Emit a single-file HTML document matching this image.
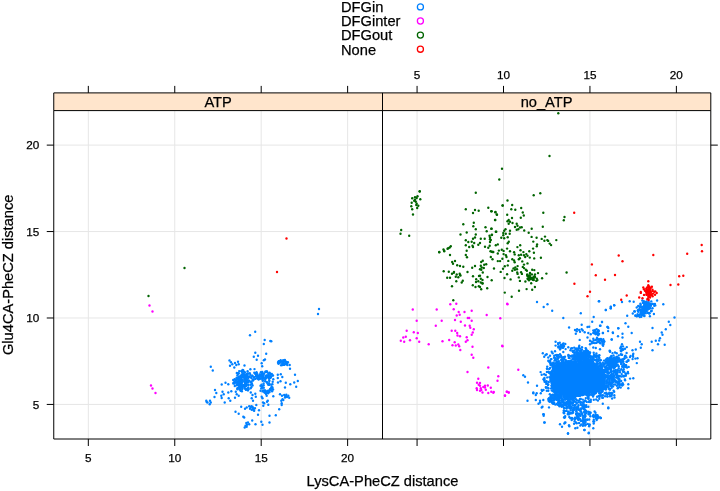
<!DOCTYPE html>
<html><head><meta charset="utf-8"><title>plot</title>
<style>html,body{margin:0;padding:0;background:#fff;width:720px;height:491px;overflow:hidden;font-family:"Liberation Sans",sans-serif}</style>
</head><body>
<svg width="720" height="491" viewBox="0 0 720 491" style="position:absolute;left:0;top:0">
<rect x="0" y="0" width="720" height="491" fill="#fff"/>
<path d="M88.32 110.6V439.0M417.07 110.6V439.0M53.75 404.43H710.8M174.76 110.6V439.0M503.51 110.6V439.0M53.75 317.99H710.8M261.19 110.6V439.0M589.94 110.6V439.0M53.75 231.56H710.8M347.63 110.6V439.0M676.38 110.6V439.0M53.75 145.12H710.8" stroke="#e6e6e6" stroke-width="1" fill="none"/>
<polygon points="602.0,378.5 601.9,381.5 601.8,383.3 601.4,384.8 601.0,386.1 600.4,387.2 599.8,388.3 598.9,389.2 598.0,390.0 596.9,390.8 595.7,391.5 594.4,392.1 592.9,392.6 591.3,393.0 589.5,393.4 587.5,393.6 585.1,393.8 582.3,394.0 577.5,394.0 572.7,394.0 569.9,393.8 567.5,393.6 565.5,393.4 563.7,393.0 562.1,392.6 560.6,392.1 559.3,391.5 558.1,390.8 557.0,390.0 556.1,389.2 555.2,388.3 554.6,387.2 554.0,386.1 553.6,384.8 553.2,383.3 553.1,381.5 553.0,378.5 553.1,375.5 553.2,373.7 553.6,372.2 554.0,370.9 554.6,369.8 555.2,368.7 556.1,367.8 557.0,367.0 558.1,366.2 559.3,365.5 560.6,364.9 562.1,364.4 563.7,364.0 565.5,363.6 567.5,363.4 569.9,363.2 572.7,363.0 577.5,363.0 582.3,363.0 585.1,363.2 587.5,363.4 589.5,363.6 591.3,364.0 592.9,364.4 594.4,364.9 595.7,365.5 596.9,366.2 598.0,367.0 598.9,367.8 599.8,368.7 600.4,369.8 601.0,370.9 601.4,372.2 601.8,373.7 601.9,375.5" fill="#0080ff"/>
<g fill="#0080ff"><circle cx="319.0" cy="309.0" r="1.18"/><circle cx="318.0" cy="314.0" r="1.18"/><circle cx="255.2" cy="331.7" r="1.18"/><circle cx="250.0" cy="335.2" r="1.18"/><circle cx="264.7" cy="340.0" r="1.18"/><circle cx="270.3" cy="341.0" r="1.18"/><circle cx="271.3" cy="341.2" r="1.18"/><circle cx="263.8" cy="344.0" r="1.18"/><circle cx="255.3" cy="352.8" r="1.18"/><circle cx="266.2" cy="353.8" r="1.18"/><circle cx="253.8" cy="356.7" r="1.18"/><circle cx="258.0" cy="355.8" r="1.18"/><circle cx="256.7" cy="359.7" r="1.18"/><circle cx="265.0" cy="359.5" r="1.18"/><circle cx="263.8" cy="360.3" r="1.18"/><circle cx="261.7" cy="363.3" r="1.18"/><circle cx="262.2" cy="366.2" r="1.18"/><circle cx="210.8" cy="366.7" r="1.18"/><circle cx="212.8" cy="370.5" r="1.18"/><circle cx="229.5" cy="360.5" r="1.18"/><circle cx="231.0" cy="362.3" r="1.18"/><circle cx="232.3" cy="364.2" r="1.18"/><circle cx="230.0" cy="365.8" r="1.18"/><circle cx="234.3" cy="367.5" r="1.18"/><circle cx="238.0" cy="361.7" r="1.18"/><circle cx="238.7" cy="364.2" r="1.18"/><circle cx="236.3" cy="365.0" r="1.18"/><circle cx="244.5" cy="365.5" r="1.18"/><circle cx="235.0" cy="363.0" r="1.18"/><circle cx="289.7" cy="365.0" r="1.18"/><circle cx="290.0" cy="368.7" r="1.18"/><circle cx="295.0" cy="374.7" r="1.18"/><circle cx="297.8" cy="381.0" r="1.18"/><circle cx="294.2" cy="382.5" r="1.18"/><circle cx="290.3" cy="384.2" r="1.18"/><circle cx="296.2" cy="386.7" r="1.18"/><circle cx="285.8" cy="382.8" r="1.18"/><circle cx="285.0" cy="387.5" r="1.18"/><circle cx="277.8" cy="374.7" r="1.18"/><circle cx="280.8" cy="374.2" r="1.18"/><circle cx="282.3" cy="377.0" r="1.18"/><circle cx="277.8" cy="378.0" r="1.18"/><circle cx="280.5" cy="381.3" r="1.18"/><circle cx="278.0" cy="382.5" r="1.18"/><circle cx="272.7" cy="381.7" r="1.18"/><circle cx="273.3" cy="379.2" r="1.18"/><circle cx="221.7" cy="384.5" r="1.18"/><circle cx="225.5" cy="382.8" r="1.18"/><circle cx="228.3" cy="384.2" r="1.18"/><circle cx="215.0" cy="390.0" r="1.18"/><circle cx="216.3" cy="393.0" r="1.18"/><circle cx="214.5" cy="397.0" r="1.18"/><circle cx="222.5" cy="391.7" r="1.18"/><circle cx="221.3" cy="395.8" r="1.18"/><circle cx="223.7" cy="394.2" r="1.18"/><circle cx="221.7" cy="398.0" r="1.18"/><circle cx="228.3" cy="392.5" r="1.18"/><circle cx="231.3" cy="391.3" r="1.18"/><circle cx="228.7" cy="398.3" r="1.18"/><circle cx="230.3" cy="400.8" r="1.18"/><circle cx="224.7" cy="402.5" r="1.18"/><circle cx="206.3" cy="400.8" r="1.18"/><circle cx="207.5" cy="402.5" r="1.18"/><circle cx="210.0" cy="400.8" r="1.18"/><circle cx="210.8" cy="402.5" r="1.18"/><circle cx="209.7" cy="404.2" r="1.18"/><circle cx="206.7" cy="402.0" r="1.18"/><circle cx="235.8" cy="391.7" r="1.18"/><circle cx="236.7" cy="394.2" r="1.18"/><circle cx="238.7" cy="395.8" r="1.18"/><circle cx="235.0" cy="397.8" r="1.18"/><circle cx="250.8" cy="392.5" r="1.18"/><circle cx="252.5" cy="395.0" r="1.18"/><circle cx="251.7" cy="398.3" r="1.18"/><circle cx="253.0" cy="400.8" r="1.18"/><circle cx="255.3" cy="393.7" r="1.18"/><circle cx="255.8" cy="396.7" r="1.18"/><circle cx="261.7" cy="396.7" r="1.18"/><circle cx="262.5" cy="398.3" r="1.18"/><circle cx="266.7" cy="395.8" r="1.18"/><circle cx="267.8" cy="400.8" r="1.18"/><circle cx="263.0" cy="402.5" r="1.18"/><circle cx="273.3" cy="396.3" r="1.18"/><circle cx="280.0" cy="394.2" r="1.18"/><circle cx="282.0" cy="395.8" r="1.18"/><circle cx="284.2" cy="395.0" r="1.18"/><circle cx="286.3" cy="394.7" r="1.18"/><circle cx="288.3" cy="395.8" r="1.18"/><circle cx="289.2" cy="397.8" r="1.18"/><circle cx="285.0" cy="397.5" r="1.18"/><circle cx="282.5" cy="399.2" r="1.18"/><circle cx="281.3" cy="400.8" r="1.18"/><circle cx="283.3" cy="400.0" r="1.18"/><circle cx="281.7" cy="403.3" r="1.18"/><circle cx="285.5" cy="396.3" r="1.18"/><circle cx="287.0" cy="397.0" r="1.18"/><circle cx="282.4" cy="363.3" r="1.18"/><circle cx="287.3" cy="362.7" r="1.18"/><circle cx="283.0" cy="363.5" r="1.18"/><circle cx="279.6" cy="363.0" r="1.18"/><circle cx="284.3" cy="364.8" r="1.18"/><circle cx="278.7" cy="361.6" r="1.18"/><circle cx="284.9" cy="360.0" r="1.18"/><circle cx="284.5" cy="363.6" r="1.18"/><circle cx="283.2" cy="360.1" r="1.18"/><circle cx="279.7" cy="361.2" r="1.18"/><circle cx="278.0" cy="362.7" r="1.18"/><circle cx="282.3" cy="365.1" r="1.18"/><circle cx="283.1" cy="363.8" r="1.18"/><circle cx="282.9" cy="363.9" r="1.18"/><circle cx="282.5" cy="361.5" r="1.18"/><circle cx="286.4" cy="364.2" r="1.18"/><circle cx="281.0" cy="361.2" r="1.18"/><circle cx="280.7" cy="360.1" r="1.18"/><circle cx="285.7" cy="362.3" r="1.18"/><circle cx="286.5" cy="362.2" r="1.18"/><circle cx="287.2" cy="362.7" r="1.18"/><circle cx="287.9" cy="362.2" r="1.18"/><circle cx="278.5" cy="363.7" r="1.18"/><circle cx="285.8" cy="361.4" r="1.18"/><circle cx="278.6" cy="361.8" r="1.18"/><circle cx="278.9" cy="361.3" r="1.18"/><circle cx="283.1" cy="363.1" r="1.18"/><circle cx="282.9" cy="362.0" r="1.18"/><circle cx="280.5" cy="362.3" r="1.18"/><circle cx="283.7" cy="364.8" r="1.18"/><circle cx="284.5" cy="364.2" r="1.18"/><circle cx="284.1" cy="363.7" r="1.18"/><circle cx="282.9" cy="363.8" r="1.18"/><circle cx="286.0" cy="362.4" r="1.18"/><circle cx="281.1" cy="365.3" r="1.18"/><circle cx="283.0" cy="364.1" r="1.18"/><circle cx="284.2" cy="361.3" r="1.18"/><circle cx="287.4" cy="365.1" r="1.18"/><circle cx="237.5" cy="375.2" r="1.18"/><circle cx="249.2" cy="376.7" r="1.18"/><circle cx="239.2" cy="371.1" r="1.18"/><circle cx="234.9" cy="382.3" r="1.18"/><circle cx="238.1" cy="382.7" r="1.18"/><circle cx="240.8" cy="379.5" r="1.18"/><circle cx="253.1" cy="380.1" r="1.18"/><circle cx="245.1" cy="388.6" r="1.18"/><circle cx="236.8" cy="372.9" r="1.18"/><circle cx="238.2" cy="373.7" r="1.18"/><circle cx="251.5" cy="382.8" r="1.18"/><circle cx="241.9" cy="371.8" r="1.18"/><circle cx="238.0" cy="385.0" r="1.18"/><circle cx="238.4" cy="387.6" r="1.18"/><circle cx="245.5" cy="376.0" r="1.18"/><circle cx="236.7" cy="385.3" r="1.18"/><circle cx="244.7" cy="388.3" r="1.18"/><circle cx="245.9" cy="375.7" r="1.18"/><circle cx="242.4" cy="370.8" r="1.18"/><circle cx="236.7" cy="377.6" r="1.18"/><circle cx="245.0" cy="372.4" r="1.18"/><circle cx="240.6" cy="389.1" r="1.18"/><circle cx="247.5" cy="382.4" r="1.18"/><circle cx="233.4" cy="383.5" r="1.18"/><circle cx="243.1" cy="385.6" r="1.18"/><circle cx="234.6" cy="381.5" r="1.18"/><circle cx="248.5" cy="389.3" r="1.18"/><circle cx="248.5" cy="385.0" r="1.18"/><circle cx="240.4" cy="384.6" r="1.18"/><circle cx="241.8" cy="386.9" r="1.18"/><circle cx="251.1" cy="382.1" r="1.18"/><circle cx="246.1" cy="377.9" r="1.18"/><circle cx="245.2" cy="382.9" r="1.18"/><circle cx="234.7" cy="383.6" r="1.18"/><circle cx="248.3" cy="378.0" r="1.18"/><circle cx="248.4" cy="382.3" r="1.18"/><circle cx="242.3" cy="387.9" r="1.18"/><circle cx="234.8" cy="386.0" r="1.18"/><circle cx="233.6" cy="382.7" r="1.18"/><circle cx="243.1" cy="374.6" r="1.18"/><circle cx="247.7" cy="380.4" r="1.18"/><circle cx="245.9" cy="389.8" r="1.18"/><circle cx="239.3" cy="384.4" r="1.18"/><circle cx="237.3" cy="373.2" r="1.18"/><circle cx="252.0" cy="384.0" r="1.18"/><circle cx="242.3" cy="389.1" r="1.18"/><circle cx="239.9" cy="384.1" r="1.18"/><circle cx="237.2" cy="379.0" r="1.18"/><circle cx="251.5" cy="378.0" r="1.18"/><circle cx="245.2" cy="376.5" r="1.18"/><circle cx="235.9" cy="380.4" r="1.18"/><circle cx="250.6" cy="388.2" r="1.18"/><circle cx="247.9" cy="390.4" r="1.18"/><circle cx="238.8" cy="373.2" r="1.18"/><circle cx="242.5" cy="375.6" r="1.18"/><circle cx="237.5" cy="378.6" r="1.18"/><circle cx="246.1" cy="380.4" r="1.18"/><circle cx="239.6" cy="388.0" r="1.18"/><circle cx="253.6" cy="379.5" r="1.18"/><circle cx="247.9" cy="382.1" r="1.18"/><circle cx="239.5" cy="386.9" r="1.18"/><circle cx="242.6" cy="370.0" r="1.18"/><circle cx="250.4" cy="374.7" r="1.18"/><circle cx="246.2" cy="379.3" r="1.18"/><circle cx="246.2" cy="383.9" r="1.18"/><circle cx="247.4" cy="373.9" r="1.18"/><circle cx="243.0" cy="373.4" r="1.18"/><circle cx="233.2" cy="379.9" r="1.18"/><circle cx="248.0" cy="373.4" r="1.18"/><circle cx="238.7" cy="377.1" r="1.18"/><circle cx="247.6" cy="380.9" r="1.18"/><circle cx="245.9" cy="386.1" r="1.18"/><circle cx="241.3" cy="386.9" r="1.18"/><circle cx="252.6" cy="385.4" r="1.18"/><circle cx="235.7" cy="379.5" r="1.18"/><circle cx="246.1" cy="389.5" r="1.18"/><circle cx="240.9" cy="382.0" r="1.18"/><circle cx="251.5" cy="387.0" r="1.18"/><circle cx="252.8" cy="379.7" r="1.18"/><circle cx="246.7" cy="374.0" r="1.18"/><circle cx="248.2" cy="387.5" r="1.18"/><circle cx="246.5" cy="385.3" r="1.18"/><circle cx="237.5" cy="389.3" r="1.18"/><circle cx="244.3" cy="386.9" r="1.18"/><circle cx="239.7" cy="389.5" r="1.18"/><circle cx="251.0" cy="377.2" r="1.18"/><circle cx="234.7" cy="379.2" r="1.18"/><circle cx="244.6" cy="386.4" r="1.18"/><circle cx="243.2" cy="370.1" r="1.18"/><circle cx="249.8" cy="373.3" r="1.18"/><circle cx="240.0" cy="386.8" r="1.18"/><circle cx="243.8" cy="385.4" r="1.18"/><circle cx="250.6" cy="384.7" r="1.18"/><circle cx="252.9" cy="380.3" r="1.18"/><circle cx="237.6" cy="381.1" r="1.18"/><circle cx="239.1" cy="385.5" r="1.18"/><circle cx="246.4" cy="381.0" r="1.18"/><circle cx="250.7" cy="381.8" r="1.18"/><circle cx="239.5" cy="377.9" r="1.18"/><circle cx="237.4" cy="388.2" r="1.18"/><circle cx="248.8" cy="376.7" r="1.18"/><circle cx="242.3" cy="376.6" r="1.18"/><circle cx="240.3" cy="376.7" r="1.18"/><circle cx="243.8" cy="377.0" r="1.18"/><circle cx="248.8" cy="376.8" r="1.18"/><circle cx="239.3" cy="380.9" r="1.18"/><circle cx="240.6" cy="376.1" r="1.18"/><circle cx="244.0" cy="376.4" r="1.18"/><circle cx="240.9" cy="376.7" r="1.18"/><circle cx="252.4" cy="375.6" r="1.18"/><circle cx="244.0" cy="381.1" r="1.18"/><circle cx="247.2" cy="379.9" r="1.18"/><circle cx="247.6" cy="371.2" r="1.18"/><circle cx="241.4" cy="377.9" r="1.18"/><circle cx="246.3" cy="381.6" r="1.18"/><circle cx="246.2" cy="376.7" r="1.18"/><circle cx="244.6" cy="376.8" r="1.18"/><circle cx="245.4" cy="379.7" r="1.18"/><circle cx="243.3" cy="374.9" r="1.18"/><circle cx="241.4" cy="381.0" r="1.18"/><circle cx="249.1" cy="380.7" r="1.18"/><circle cx="247.6" cy="380.2" r="1.18"/><circle cx="244.5" cy="379.6" r="1.18"/><circle cx="240.7" cy="376.9" r="1.18"/><circle cx="241.9" cy="379.8" r="1.18"/><circle cx="242.4" cy="377.2" r="1.18"/><circle cx="245.9" cy="381.8" r="1.18"/><circle cx="241.6" cy="374.5" r="1.18"/><circle cx="247.4" cy="374.0" r="1.18"/><circle cx="246.1" cy="375.7" r="1.18"/><circle cx="244.1" cy="371.7" r="1.18"/><circle cx="247.1" cy="375.9" r="1.18"/><circle cx="241.3" cy="384.1" r="1.18"/><circle cx="247.1" cy="388.7" r="1.18"/><circle cx="246.0" cy="376.4" r="1.18"/><circle cx="244.9" cy="382.6" r="1.18"/><circle cx="244.4" cy="378.9" r="1.18"/><circle cx="246.4" cy="374.6" r="1.18"/><circle cx="245.0" cy="375.9" r="1.18"/><circle cx="240.0" cy="380.3" r="1.18"/><circle cx="246.9" cy="377.7" r="1.18"/><circle cx="241.2" cy="371.1" r="1.18"/><circle cx="246.2" cy="377.2" r="1.18"/><circle cx="238.4" cy="377.3" r="1.18"/><circle cx="239.0" cy="377.4" r="1.18"/><circle cx="245.0" cy="378.6" r="1.18"/><circle cx="245.3" cy="378.0" r="1.18"/><circle cx="240.4" cy="376.3" r="1.18"/><circle cx="242.7" cy="376.7" r="1.18"/><circle cx="245.5" cy="379.5" r="1.18"/><circle cx="250.4" cy="369.3" r="1.18"/><circle cx="245.9" cy="376.9" r="1.18"/><circle cx="252.7" cy="380.5" r="1.18"/><circle cx="238.5" cy="378.8" r="1.18"/><circle cx="242.6" cy="380.7" r="1.18"/><circle cx="240.7" cy="377.2" r="1.18"/><circle cx="244.0" cy="377.2" r="1.18"/><circle cx="242.4" cy="371.6" r="1.18"/><circle cx="246.2" cy="380.7" r="1.18"/><circle cx="244.3" cy="374.2" r="1.18"/><circle cx="241.6" cy="386.5" r="1.18"/><circle cx="240.4" cy="385.0" r="1.18"/><circle cx="245.5" cy="382.1" r="1.18"/><circle cx="239.2" cy="380.0" r="1.18"/><circle cx="238.8" cy="383.1" r="1.18"/><circle cx="237.9" cy="383.2" r="1.18"/><circle cx="246.8" cy="384.5" r="1.18"/><circle cx="240.6" cy="390.7" r="1.18"/><circle cx="240.8" cy="380.5" r="1.18"/><circle cx="242.3" cy="382.6" r="1.18"/><circle cx="246.2" cy="381.8" r="1.18"/><circle cx="239.1" cy="380.8" r="1.18"/><circle cx="241.3" cy="382.4" r="1.18"/><circle cx="240.8" cy="384.0" r="1.18"/><circle cx="239.0" cy="387.5" r="1.18"/><circle cx="244.0" cy="385.2" r="1.18"/><circle cx="238.1" cy="382.2" r="1.18"/><circle cx="241.9" cy="391.2" r="1.18"/><circle cx="239.5" cy="383.0" r="1.18"/><circle cx="238.8" cy="382.2" r="1.18"/><circle cx="237.9" cy="384.5" r="1.18"/><circle cx="245.6" cy="385.0" r="1.18"/><circle cx="239.4" cy="380.8" r="1.18"/><circle cx="241.7" cy="384.9" r="1.18"/><circle cx="237.1" cy="382.2" r="1.18"/><circle cx="240.9" cy="387.6" r="1.18"/><circle cx="243.0" cy="385.5" r="1.18"/><circle cx="240.0" cy="385.8" r="1.18"/><circle cx="241.0" cy="390.6" r="1.18"/><circle cx="237.4" cy="384.0" r="1.18"/><circle cx="245.1" cy="384.3" r="1.18"/><circle cx="245.6" cy="384.9" r="1.18"/><circle cx="241.5" cy="384.0" r="1.18"/><circle cx="236.6" cy="382.5" r="1.18"/><circle cx="258.5" cy="376.0" r="1.18"/><circle cx="258.7" cy="376.2" r="1.18"/><circle cx="266.8" cy="371.4" r="1.18"/><circle cx="273.0" cy="375.4" r="1.18"/><circle cx="265.3" cy="377.4" r="1.18"/><circle cx="262.3" cy="373.9" r="1.18"/><circle cx="267.7" cy="377.0" r="1.18"/><circle cx="260.8" cy="378.7" r="1.18"/><circle cx="258.5" cy="379.2" r="1.18"/><circle cx="262.8" cy="380.8" r="1.18"/><circle cx="263.5" cy="376.0" r="1.18"/><circle cx="265.2" cy="381.2" r="1.18"/><circle cx="268.9" cy="375.9" r="1.18"/><circle cx="266.7" cy="372.0" r="1.18"/><circle cx="267.1" cy="375.8" r="1.18"/><circle cx="265.3" cy="372.1" r="1.18"/><circle cx="263.7" cy="378.2" r="1.18"/><circle cx="264.0" cy="373.6" r="1.18"/><circle cx="266.3" cy="375.4" r="1.18"/><circle cx="269.9" cy="376.6" r="1.18"/><circle cx="269.1" cy="373.4" r="1.18"/><circle cx="270.0" cy="377.7" r="1.18"/><circle cx="262.2" cy="373.7" r="1.18"/><circle cx="268.2" cy="377.0" r="1.18"/><circle cx="266.5" cy="377.8" r="1.18"/><circle cx="269.5" cy="372.8" r="1.18"/><circle cx="260.6" cy="375.5" r="1.18"/><circle cx="267.1" cy="371.8" r="1.18"/><circle cx="265.6" cy="371.5" r="1.18"/><circle cx="257.2" cy="378.3" r="1.18"/><circle cx="265.7" cy="377.8" r="1.18"/><circle cx="262.5" cy="376.1" r="1.18"/><circle cx="259.5" cy="374.5" r="1.18"/><circle cx="269.3" cy="380.1" r="1.18"/><circle cx="270.5" cy="377.7" r="1.18"/><circle cx="269.7" cy="373.1" r="1.18"/><circle cx="263.4" cy="373.6" r="1.18"/><circle cx="270.5" cy="374.8" r="1.18"/><circle cx="261.6" cy="376.8" r="1.18"/><circle cx="269.3" cy="381.0" r="1.18"/><circle cx="263.5" cy="374.8" r="1.18"/><circle cx="266.0" cy="376.1" r="1.18"/><circle cx="268.2" cy="374.0" r="1.18"/><circle cx="259.5" cy="378.1" r="1.18"/><circle cx="257.1" cy="374.1" r="1.18"/><circle cx="268.9" cy="378.5" r="1.18"/><circle cx="260.8" cy="372.3" r="1.18"/><circle cx="262.2" cy="378.8" r="1.18"/><circle cx="262.3" cy="372.0" r="1.18"/><circle cx="268.7" cy="377.1" r="1.18"/><circle cx="272.4" cy="375.6" r="1.18"/><circle cx="270.4" cy="374.1" r="1.18"/><circle cx="261.4" cy="375.2" r="1.18"/><circle cx="260.2" cy="374.8" r="1.18"/><circle cx="262.3" cy="374.8" r="1.18"/><circle cx="262.9" cy="375.0" r="1.18"/><circle cx="259.2" cy="377.0" r="1.18"/><circle cx="270.3" cy="376.8" r="1.18"/><circle cx="271.0" cy="377.0" r="1.18"/><circle cx="258.8" cy="379.2" r="1.18"/><circle cx="271.8" cy="373.9" r="1.18"/><circle cx="256.0" cy="376.5" r="1.18"/><circle cx="258.3" cy="376.3" r="1.18"/><circle cx="266.3" cy="376.4" r="1.18"/><circle cx="262.4" cy="376.3" r="1.18"/><circle cx="256.9" cy="376.0" r="1.18"/><circle cx="263.1" cy="377.4" r="1.18"/><circle cx="261.5" cy="372.7" r="1.18"/><circle cx="265.7" cy="378.4" r="1.18"/><circle cx="265.1" cy="379.6" r="1.18"/><circle cx="260.7" cy="375.8" r="1.18"/><circle cx="262.9" cy="380.3" r="1.18"/><circle cx="256.9" cy="376.5" r="1.18"/><circle cx="259.9" cy="378.1" r="1.18"/><circle cx="266.4" cy="376.4" r="1.18"/><circle cx="258.3" cy="377.1" r="1.18"/><circle cx="254.3" cy="372.8" r="1.18"/><circle cx="256.2" cy="375.2" r="1.18"/><circle cx="255.9" cy="373.3" r="1.18"/><circle cx="256.6" cy="373.0" r="1.18"/><circle cx="256.5" cy="372.2" r="1.18"/><circle cx="257.0" cy="375.6" r="1.18"/><circle cx="252.3" cy="375.9" r="1.18"/><circle cx="255.3" cy="374.1" r="1.18"/><circle cx="254.0" cy="377.1" r="1.18"/><circle cx="254.5" cy="369.1" r="1.18"/><circle cx="254.1" cy="377.5" r="1.18"/><circle cx="255.3" cy="378.9" r="1.18"/><circle cx="265.1" cy="392.6" r="1.18"/><circle cx="264.7" cy="392.1" r="1.18"/><circle cx="269.6" cy="390.1" r="1.18"/><circle cx="268.1" cy="390.8" r="1.18"/><circle cx="270.1" cy="388.9" r="1.18"/><circle cx="271.2" cy="384.7" r="1.18"/><circle cx="272.0" cy="388.7" r="1.18"/><circle cx="267.6" cy="392.7" r="1.18"/><circle cx="267.0" cy="392.2" r="1.18"/><circle cx="267.1" cy="391.1" r="1.18"/><circle cx="268.5" cy="391.9" r="1.18"/><circle cx="266.8" cy="382.0" r="1.18"/><circle cx="265.2" cy="390.5" r="1.18"/><circle cx="261.9" cy="388.1" r="1.18"/><circle cx="266.0" cy="394.0" r="1.18"/><circle cx="264.4" cy="390.5" r="1.18"/><circle cx="260.5" cy="385.7" r="1.18"/><circle cx="267.4" cy="392.1" r="1.18"/><circle cx="273.1" cy="389.5" r="1.18"/><circle cx="263.0" cy="390.4" r="1.18"/><circle cx="262.2" cy="386.8" r="1.18"/><circle cx="271.6" cy="387.2" r="1.18"/><circle cx="263.6" cy="383.4" r="1.18"/><circle cx="261.2" cy="388.4" r="1.18"/><circle cx="262.6" cy="391.4" r="1.18"/><circle cx="263.6" cy="385.3" r="1.18"/><circle cx="269.6" cy="392.0" r="1.18"/><circle cx="266.1" cy="393.1" r="1.18"/><circle cx="269.1" cy="384.9" r="1.18"/><circle cx="271.6" cy="387.3" r="1.18"/><circle cx="266.0" cy="391.9" r="1.18"/><circle cx="267.1" cy="382.7" r="1.18"/><circle cx="272.5" cy="387.5" r="1.18"/><circle cx="268.0" cy="384.5" r="1.18"/><circle cx="270.8" cy="389.9" r="1.18"/><circle cx="272.1" cy="391.2" r="1.18"/><circle cx="263.8" cy="387.8" r="1.18"/><circle cx="261.6" cy="384.7" r="1.18"/><circle cx="269.4" cy="384.1" r="1.18"/><circle cx="260.5" cy="390.8" r="1.18"/><circle cx="272.4" cy="384.3" r="1.18"/><circle cx="268.1" cy="393.2" r="1.18"/><circle cx="262.0" cy="386.3" r="1.18"/><circle cx="269.0" cy="383.3" r="1.18"/><circle cx="264.6" cy="391.9" r="1.18"/><circle cx="264.6" cy="392.5" r="1.18"/><circle cx="241.2" cy="406.7" r="1.18"/><circle cx="245.0" cy="408.7" r="1.18"/><circle cx="246.7" cy="407.5" r="1.18"/><circle cx="249.2" cy="406.3" r="1.18"/><circle cx="250.8" cy="407.5" r="1.18"/><circle cx="252.5" cy="406.7" r="1.18"/><circle cx="253.3" cy="409.2" r="1.18"/><circle cx="251.7" cy="409.7" r="1.18"/><circle cx="254.2" cy="410.8" r="1.18"/><circle cx="255.0" cy="408.3" r="1.18"/><circle cx="256.3" cy="405.0" r="1.18"/><circle cx="250.0" cy="408.7" r="1.18"/><circle cx="253.0" cy="408.0" r="1.18"/><circle cx="251.3" cy="406.3" r="1.18"/><circle cx="253.7" cy="410.3" r="1.18"/><circle cx="259.0" cy="410.3" r="1.18"/><circle cx="258.0" cy="414.7" r="1.18"/><circle cx="235.5" cy="411.7" r="1.18"/><circle cx="238.7" cy="413.7" r="1.18"/><circle cx="243.3" cy="416.7" r="1.18"/><circle cx="244.2" cy="417.5" r="1.18"/><circle cx="263.3" cy="405.8" r="1.18"/><circle cx="268.3" cy="404.7" r="1.18"/><circle cx="267.0" cy="401.7" r="1.18"/><circle cx="264.2" cy="403.3" r="1.18"/><circle cx="279.2" cy="409.2" r="1.18"/><circle cx="281.7" cy="405.0" r="1.18"/><circle cx="275.8" cy="415.3" r="1.18"/><circle cx="269.5" cy="415.8" r="1.18"/><circle cx="269.5" cy="422.5" r="1.18"/><circle cx="261.3" cy="421.7" r="1.18"/><circle cx="262.5" cy="424.7" r="1.18"/><circle cx="255.5" cy="424.2" r="1.18"/><circle cx="252.2" cy="420.5" r="1.18"/><circle cx="246.3" cy="423.0" r="1.18"/><circle cx="248.0" cy="422.5" r="1.18"/><circle cx="249.2" cy="424.2" r="1.18"/><circle cx="247.0" cy="424.7" r="1.18"/><circle cx="245.5" cy="425.8" r="1.18"/><circle cx="244.7" cy="427.5" r="1.18"/><circle cx="246.7" cy="426.7" r="1.18"/><circle cx="663.3" cy="304.2" r="1.18"/><circle cx="654.2" cy="305.8" r="1.18"/><circle cx="652.5" cy="308.3" r="1.18"/><circle cx="651.7" cy="310.8" r="1.18"/><circle cx="636.7" cy="307.5" r="1.18"/><circle cx="638.3" cy="311.7" r="1.18"/><circle cx="599.2" cy="301.3" r="1.18"/><circle cx="622.0" cy="302.0" r="1.18"/><circle cx="629.7" cy="301.2" r="1.18"/><circle cx="633.7" cy="301.7" r="1.18"/><circle cx="614.2" cy="305.3" r="1.18"/><circle cx="610.8" cy="307.0" r="1.18"/><circle cx="610.8" cy="308.3" r="1.18"/><circle cx="605.8" cy="310.0" r="1.18"/><circle cx="627.2" cy="315.8" r="1.18"/><circle cx="674.5" cy="317.5" r="1.18"/><circle cx="668.8" cy="321.7" r="1.18"/><circle cx="670.3" cy="325.0" r="1.18"/><circle cx="665.8" cy="329.2" r="1.18"/><circle cx="652.5" cy="328.0" r="1.18"/><circle cx="661.7" cy="332.5" r="1.18"/><circle cx="662.5" cy="334.7" r="1.18"/><circle cx="660.0" cy="338.3" r="1.18"/><circle cx="659.2" cy="340.5" r="1.18"/><circle cx="655.8" cy="340.8" r="1.18"/><circle cx="651.7" cy="341.7" r="1.18"/><circle cx="658.0" cy="344.2" r="1.18"/><circle cx="664.7" cy="344.7" r="1.18"/><circle cx="652.5" cy="350.3" r="1.18"/><circle cx="602.0" cy="322.0" r="1.18"/><circle cx="600.5" cy="325.8" r="1.18"/><circle cx="607.5" cy="327.0" r="1.18"/><circle cx="608.3" cy="328.0" r="1.18"/><circle cx="618.3" cy="328.3" r="1.18"/><circle cx="625.5" cy="323.3" r="1.18"/><circle cx="628.3" cy="326.7" r="1.18"/><circle cx="613.0" cy="333.0" r="1.18"/><circle cx="603.0" cy="333.0" r="1.18"/><circle cx="622.5" cy="333.7" r="1.18"/><circle cx="631.7" cy="333.0" r="1.18"/><circle cx="618.0" cy="336.2" r="1.18"/><circle cx="622.5" cy="337.5" r="1.18"/><circle cx="611.7" cy="339.5" r="1.18"/><circle cx="640.0" cy="341.7" r="1.18"/><circle cx="641.7" cy="344.2" r="1.18"/><circle cx="640.8" cy="347.8" r="1.18"/><circle cx="635.8" cy="349.5" r="1.18"/><circle cx="622.0" cy="344.2" r="1.18"/><circle cx="620.8" cy="347.5" r="1.18"/><circle cx="622.5" cy="349.2" r="1.18"/><circle cx="625.0" cy="348.7" r="1.18"/><circle cx="620.8" cy="350.8" r="1.18"/><circle cx="615.0" cy="352.5" r="1.18"/><circle cx="616.7" cy="353.3" r="1.18"/><circle cx="610.0" cy="351.7" r="1.18"/><circle cx="633.3" cy="353.7" r="1.18"/><circle cx="620.8" cy="354.2" r="1.18"/><circle cx="625.0" cy="356.2" r="1.18"/><circle cx="637.5" cy="358.3" r="1.18"/><circle cx="628.3" cy="360.0" r="1.18"/><circle cx="626.7" cy="361.7" r="1.18"/><circle cx="623.3" cy="361.7" r="1.18"/><circle cx="654.9" cy="303.9" r="1.18"/><circle cx="639.5" cy="308.1" r="1.18"/><circle cx="643.5" cy="313.9" r="1.18"/><circle cx="648.0" cy="312.9" r="1.18"/><circle cx="646.7" cy="311.5" r="1.18"/><circle cx="645.9" cy="306.7" r="1.18"/><circle cx="644.3" cy="310.2" r="1.18"/><circle cx="644.7" cy="307.8" r="1.18"/><circle cx="652.2" cy="303.9" r="1.18"/><circle cx="642.6" cy="308.0" r="1.18"/><circle cx="645.4" cy="305.7" r="1.18"/><circle cx="651.1" cy="311.2" r="1.18"/><circle cx="642.5" cy="310.7" r="1.18"/><circle cx="655.3" cy="305.4" r="1.18"/><circle cx="643.7" cy="306.2" r="1.18"/><circle cx="639.8" cy="314.9" r="1.18"/><circle cx="648.1" cy="305.7" r="1.18"/><circle cx="648.8" cy="304.0" r="1.18"/><circle cx="643.9" cy="306.3" r="1.18"/><circle cx="657.1" cy="300.5" r="1.18"/><circle cx="644.4" cy="312.9" r="1.18"/><circle cx="644.2" cy="315.7" r="1.18"/><circle cx="646.9" cy="307.9" r="1.18"/><circle cx="647.1" cy="302.9" r="1.18"/><circle cx="652.9" cy="303.9" r="1.18"/><circle cx="646.5" cy="304.3" r="1.18"/><circle cx="644.5" cy="306.7" r="1.18"/><circle cx="644.6" cy="310.4" r="1.18"/><circle cx="646.6" cy="303.8" r="1.18"/><circle cx="645.4" cy="309.9" r="1.18"/><circle cx="640.8" cy="309.7" r="1.18"/><circle cx="650.5" cy="304.3" r="1.18"/><circle cx="644.5" cy="310.3" r="1.18"/><circle cx="651.0" cy="305.7" r="1.18"/><circle cx="642.4" cy="312.2" r="1.18"/><circle cx="649.9" cy="316.3" r="1.18"/><circle cx="641.7" cy="307.0" r="1.18"/><circle cx="645.1" cy="306.0" r="1.18"/><circle cx="644.8" cy="303.8" r="1.18"/><circle cx="642.3" cy="314.2" r="1.18"/><circle cx="647.0" cy="309.4" r="1.18"/><circle cx="647.4" cy="303.6" r="1.18"/><circle cx="642.8" cy="311.5" r="1.18"/><circle cx="644.4" cy="316.0" r="1.18"/><circle cx="646.6" cy="306.9" r="1.18"/><circle cx="640.4" cy="306.1" r="1.18"/><circle cx="637.9" cy="310.7" r="1.18"/><circle cx="644.0" cy="305.8" r="1.18"/><circle cx="642.9" cy="302.8" r="1.18"/><circle cx="640.9" cy="310.1" r="1.18"/><circle cx="648.8" cy="302.1" r="1.18"/><circle cx="640.4" cy="303.8" r="1.18"/><circle cx="646.6" cy="301.4" r="1.18"/><circle cx="647.9" cy="306.7" r="1.18"/><circle cx="647.3" cy="304.4" r="1.18"/><circle cx="645.1" cy="304.0" r="1.18"/><circle cx="640.0" cy="307.1" r="1.18"/><circle cx="643.9" cy="311.6" r="1.18"/><circle cx="644.0" cy="312.4" r="1.18"/><circle cx="645.1" cy="306.3" r="1.18"/><circle cx="643.8" cy="301.1" r="1.18"/><circle cx="642.3" cy="300.5" r="1.18"/><circle cx="645.5" cy="309.2" r="1.18"/><circle cx="649.0" cy="308.8" r="1.18"/><circle cx="642.1" cy="307.1" r="1.18"/><circle cx="641.9" cy="313.9" r="1.18"/><circle cx="649.6" cy="313.3" r="1.18"/><circle cx="643.6" cy="302.9" r="1.18"/><circle cx="647.8" cy="304.0" r="1.18"/><circle cx="646.0" cy="310.2" r="1.18"/><circle cx="647.8" cy="308.8" r="1.18"/><circle cx="644.9" cy="302.0" r="1.18"/><circle cx="642.9" cy="312.0" r="1.18"/><circle cx="648.5" cy="312.9" r="1.18"/><circle cx="645.6" cy="310.0" r="1.18"/><circle cx="645.7" cy="313.2" r="1.18"/><circle cx="651.3" cy="301.4" r="1.18"/><circle cx="647.8" cy="309.6" r="1.18"/><circle cx="643.5" cy="308.2" r="1.18"/><circle cx="646.8" cy="306.8" r="1.18"/><circle cx="640.7" cy="304.8" r="1.18"/><circle cx="647.5" cy="307.2" r="1.18"/><circle cx="640.3" cy="306.4" r="1.18"/><circle cx="647.6" cy="308.4" r="1.18"/><circle cx="647.8" cy="305.8" r="1.18"/><circle cx="642.9" cy="308.0" r="1.18"/><circle cx="644.4" cy="306.9" r="1.18"/><circle cx="653.9" cy="314.0" r="1.18"/><circle cx="644.6" cy="310.0" r="1.18"/><circle cx="644.3" cy="304.7" r="1.18"/><circle cx="638.2" cy="305.9" r="1.18"/><circle cx="642.8" cy="308.7" r="1.18"/><circle cx="650.1" cy="307.8" r="1.18"/><circle cx="648.2" cy="309.0" r="1.18"/><circle cx="645.8" cy="305.2" r="1.18"/><circle cx="640.9" cy="310.9" r="1.18"/><circle cx="650.3" cy="303.7" r="1.18"/><circle cx="649.7" cy="304.8" r="1.18"/><circle cx="639.1" cy="309.6" r="1.18"/><circle cx="639.8" cy="309.9" r="1.18"/><circle cx="644.7" cy="310.7" r="1.18"/><circle cx="645.1" cy="312.2" r="1.18"/><circle cx="645.7" cy="309.5" r="1.18"/><circle cx="644.4" cy="311.6" r="1.18"/><circle cx="642.7" cy="310.4" r="1.18"/><circle cx="650.3" cy="308.4" r="1.18"/><circle cx="648.1" cy="305.1" r="1.18"/><circle cx="644.5" cy="307.4" r="1.18"/><circle cx="646.6" cy="302.5" r="1.18"/><circle cx="645.4" cy="307.4" r="1.18"/><circle cx="645.4" cy="310.1" r="1.18"/><circle cx="637.9" cy="310.2" r="1.18"/><circle cx="646.8" cy="303.2" r="1.18"/><circle cx="643.9" cy="308.0" r="1.18"/><circle cx="649.1" cy="306.3" r="1.18"/><circle cx="646.5" cy="306.4" r="1.18"/><circle cx="642.9" cy="309.8" r="1.18"/><circle cx="649.0" cy="313.4" r="1.18"/><circle cx="640.6" cy="312.0" r="1.18"/><circle cx="644.9" cy="306.0" r="1.18"/><circle cx="643.3" cy="307.8" r="1.18"/><circle cx="647.2" cy="308.0" r="1.18"/><circle cx="645.5" cy="305.8" r="1.18"/><circle cx="642.8" cy="310.2" r="1.18"/><circle cx="644.6" cy="305.3" r="1.18"/><circle cx="646.7" cy="303.3" r="1.18"/><circle cx="646.0" cy="309.5" r="1.18"/><circle cx="642.0" cy="312.7" r="1.18"/><circle cx="642.4" cy="307.9" r="1.18"/><circle cx="648.3" cy="305.1" r="1.18"/><circle cx="637.8" cy="316.1" r="1.18"/><circle cx="638.9" cy="315.1" r="1.18"/><circle cx="643.5" cy="315.0" r="1.18"/><circle cx="632.8" cy="313.5" r="1.18"/><circle cx="641.6" cy="314.5" r="1.18"/><circle cx="634.9" cy="311.5" r="1.18"/><circle cx="639.8" cy="317.1" r="1.18"/><circle cx="634.3" cy="311.2" r="1.18"/><circle cx="640.4" cy="313.8" r="1.18"/><circle cx="637.6" cy="314.2" r="1.18"/><circle cx="635.5" cy="315.4" r="1.18"/><circle cx="641.9" cy="315.2" r="1.18"/><circle cx="636.7" cy="316.3" r="1.18"/><circle cx="638.3" cy="315.6" r="1.18"/><circle cx="635.4" cy="315.7" r="1.18"/><circle cx="641.3" cy="316.7" r="1.18"/><circle cx="638.8" cy="315.4" r="1.18"/><circle cx="636.7" cy="316.1" r="1.18"/><circle cx="537.0" cy="302.0" r="1.18"/><circle cx="547.5" cy="304.2" r="1.18"/><circle cx="543.7" cy="307.0" r="1.18"/><circle cx="552.2" cy="310.8" r="1.18"/><circle cx="563.3" cy="318.0" r="1.18"/><circle cx="580.8" cy="313.3" r="1.18"/><circle cx="598.8" cy="301.3" r="1.18"/><circle cx="614.2" cy="305.3" r="1.18"/><circle cx="610.8" cy="306.7" r="1.18"/><circle cx="610.8" cy="308.3" r="1.18"/><circle cx="605.8" cy="310.0" r="1.18"/><circle cx="593.7" cy="317.0" r="1.18"/><circle cx="592.2" cy="321.7" r="1.18"/><circle cx="602.0" cy="322.0" r="1.18"/><circle cx="581.7" cy="324.7" r="1.18"/><circle cx="600.0" cy="325.8" r="1.18"/><circle cx="607.5" cy="327.0" r="1.18"/><circle cx="618.3" cy="328.3" r="1.18"/><circle cx="587.5" cy="327.0" r="1.18"/><circle cx="589.2" cy="326.7" r="1.18"/><circle cx="575.0" cy="330.0" r="1.18"/><circle cx="576.7" cy="331.3" r="1.18"/><circle cx="579.2" cy="330.0" r="1.18"/><circle cx="581.7" cy="329.2" r="1.18"/><circle cx="582.8" cy="330.5" r="1.18"/><circle cx="575.8" cy="333.7" r="1.18"/><circle cx="580.0" cy="331.7" r="1.18"/><circle cx="596.7" cy="329.2" r="1.18"/><circle cx="595.0" cy="330.8" r="1.18"/><circle cx="597.5" cy="331.7" r="1.18"/><circle cx="593.3" cy="333.0" r="1.18"/><circle cx="595.8" cy="334.2" r="1.18"/><circle cx="598.3" cy="335.0" r="1.18"/><circle cx="588.3" cy="333.0" r="1.18"/><circle cx="590.8" cy="334.2" r="1.18"/><circle cx="602.8" cy="333.0" r="1.18"/><circle cx="612.8" cy="332.5" r="1.18"/><circle cx="595.3" cy="332.5" r="1.18"/><circle cx="597.0" cy="333.7" r="1.18"/><circle cx="594.2" cy="331.7" r="1.18"/><circle cx="587.5" cy="337.5" r="1.18"/><circle cx="593.3" cy="338.7" r="1.18"/><circle cx="595.8" cy="340.0" r="1.18"/><circle cx="598.3" cy="339.2" r="1.18"/><circle cx="600.8" cy="340.0" r="1.18"/><circle cx="603.3" cy="339.2" r="1.18"/><circle cx="590.0" cy="340.8" r="1.18"/><circle cx="592.5" cy="342.0" r="1.18"/><circle cx="599.2" cy="341.7" r="1.18"/><circle cx="604.2" cy="341.7" r="1.18"/><circle cx="611.7" cy="339.5" r="1.18"/><circle cx="590.0" cy="344.2" r="1.18"/><circle cx="602.5" cy="344.7" r="1.18"/><circle cx="568.3" cy="347.2" r="1.18"/><circle cx="593.3" cy="347.5" r="1.18"/><circle cx="595.8" cy="348.0" r="1.18"/><circle cx="600.0" cy="349.2" r="1.18"/><circle cx="610.0" cy="351.2" r="1.18"/><circle cx="542.8" cy="353.3" r="1.18"/><circle cx="546.7" cy="354.2" r="1.18"/><circle cx="551.7" cy="351.7" r="1.18"/><circle cx="555.0" cy="351.3" r="1.18"/><circle cx="563.3" cy="352.0" r="1.18"/><circle cx="544.2" cy="356.7" r="1.18"/><circle cx="548.3" cy="357.5" r="1.18"/><circle cx="550.0" cy="355.8" r="1.18"/><circle cx="554.2" cy="355.8" r="1.18"/><circle cx="560.0" cy="354.2" r="1.18"/><circle cx="568.3" cy="355.0" r="1.18"/><circle cx="548.3" cy="360.8" r="1.18"/><circle cx="550.0" cy="362.8" r="1.18"/><circle cx="555.0" cy="360.0" r="1.18"/><circle cx="558.3" cy="358.3" r="1.18"/><circle cx="563.0" cy="347.7" r="1.18"/><circle cx="559.8" cy="342.7" r="1.18"/><circle cx="560.6" cy="344.9" r="1.18"/><circle cx="558.8" cy="346.7" r="1.18"/><circle cx="563.5" cy="346.2" r="1.18"/><circle cx="563.9" cy="346.2" r="1.18"/><circle cx="558.1" cy="344.1" r="1.18"/><circle cx="559.9" cy="346.8" r="1.18"/><circle cx="563.4" cy="345.6" r="1.18"/><circle cx="563.6" cy="343.5" r="1.18"/><circle cx="560.5" cy="348.6" r="1.18"/><circle cx="562.1" cy="347.6" r="1.18"/><circle cx="555.6" cy="341.7" r="1.18"/><circle cx="558.4" cy="347.5" r="1.18"/><circle cx="565.3" cy="344.0" r="1.18"/><circle cx="558.1" cy="343.1" r="1.18"/><circle cx="558.4" cy="346.5" r="1.18"/><circle cx="560.0" cy="349.4" r="1.18"/><circle cx="562.8" cy="343.9" r="1.18"/><circle cx="561.5" cy="345.0" r="1.18"/><circle cx="563.0" cy="347.3" r="1.18"/><circle cx="559.9" cy="347.3" r="1.18"/><circle cx="562.4" cy="345.2" r="1.18"/><circle cx="561.5" cy="346.8" r="1.18"/><circle cx="523.3" cy="375.3" r="1.18"/><circle cx="525.0" cy="376.7" r="1.18"/><circle cx="528.0" cy="382.5" r="1.18"/><circle cx="537.0" cy="385.8" r="1.18"/><circle cx="544.2" cy="374.2" r="1.18"/><circle cx="545.8" cy="375.0" r="1.18"/><circle cx="533.3" cy="393.3" r="1.18"/><circle cx="535.8" cy="395.0" r="1.18"/><circle cx="527.5" cy="400.8" r="1.18"/><circle cx="535.8" cy="400.0" r="1.18"/><circle cx="540.0" cy="402.5" r="1.18"/><circle cx="543.3" cy="400.0" r="1.18"/><circle cx="541.7" cy="390.0" r="1.18"/><circle cx="540.8" cy="393.3" r="1.18"/><circle cx="541.7" cy="407.5" r="1.18"/><circle cx="543.7" cy="414.2" r="1.18"/><circle cx="543.7" cy="415.8" r="1.18"/><circle cx="544.7" cy="422.5" r="1.18"/><circle cx="568.0" cy="433.3" r="1.18"/><circle cx="584.2" cy="430.0" r="1.18"/><circle cx="588.8" cy="432.8" r="1.18"/><circle cx="593.3" cy="428.3" r="1.18"/><circle cx="562.0" cy="426.7" r="1.18"/><circle cx="560.0" cy="424.2" r="1.18"/><circle cx="608.3" cy="408.3" r="1.18"/><circle cx="600.8" cy="418.0" r="1.18"/><circle cx="597.5" cy="418.3" r="1.18"/><circle cx="633.3" cy="378.3" r="1.18"/><circle cx="628.3" cy="384.2" r="1.18"/><circle cx="628.3" cy="388.3" r="1.18"/><circle cx="625.8" cy="375.8" r="1.18"/><circle cx="624.2" cy="371.7" r="1.18"/><circle cx="626.7" cy="361.7" r="1.18"/><circle cx="608.3" cy="407.5" r="1.18"/><circle cx="600.0" cy="417.5" r="1.18"/><circle cx="597.5" cy="418.3" r="1.18"/><circle cx="598.3" cy="416.7" r="1.18"/><circle cx="596.7" cy="420.0" r="1.18"/><circle cx="600.8" cy="418.0" r="1.18"/><circle cx="587.2" cy="369.2" r="1.18"/><circle cx="550.6" cy="380.0" r="1.18"/><circle cx="571.8" cy="369.4" r="1.18"/><circle cx="577.2" cy="383.8" r="1.18"/><circle cx="580.1" cy="382.9" r="1.18"/><circle cx="580.8" cy="390.1" r="1.18"/><circle cx="602.8" cy="372.7" r="1.18"/><circle cx="569.2" cy="392.0" r="1.18"/><circle cx="567.4" cy="386.1" r="1.18"/><circle cx="588.1" cy="385.0" r="1.18"/><circle cx="559.1" cy="382.8" r="1.18"/><circle cx="577.0" cy="380.7" r="1.18"/><circle cx="570.5" cy="371.0" r="1.18"/><circle cx="590.9" cy="379.7" r="1.18"/><circle cx="563.3" cy="369.7" r="1.18"/><circle cx="568.0" cy="367.2" r="1.18"/><circle cx="578.2" cy="365.4" r="1.18"/><circle cx="556.0" cy="385.7" r="1.18"/><circle cx="556.6" cy="376.8" r="1.18"/><circle cx="592.2" cy="377.8" r="1.18"/><circle cx="559.3" cy="391.3" r="1.18"/><circle cx="564.2" cy="378.8" r="1.18"/><circle cx="593.5" cy="374.7" r="1.18"/><circle cx="589.2" cy="369.8" r="1.18"/><circle cx="589.1" cy="372.4" r="1.18"/><circle cx="568.5" cy="387.6" r="1.18"/><circle cx="596.0" cy="390.0" r="1.18"/><circle cx="581.1" cy="375.7" r="1.18"/><circle cx="588.7" cy="382.8" r="1.18"/><circle cx="595.4" cy="389.0" r="1.18"/><circle cx="557.3" cy="374.2" r="1.18"/><circle cx="586.6" cy="369.1" r="1.18"/><circle cx="582.1" cy="393.9" r="1.18"/><circle cx="587.6" cy="375.7" r="1.18"/><circle cx="584.6" cy="374.9" r="1.18"/><circle cx="553.1" cy="386.0" r="1.18"/><circle cx="565.9" cy="386.6" r="1.18"/><circle cx="568.3" cy="361.9" r="1.18"/><circle cx="579.8" cy="377.9" r="1.18"/><circle cx="570.7" cy="371.8" r="1.18"/><circle cx="593.7" cy="390.4" r="1.18"/><circle cx="565.8" cy="374.7" r="1.18"/><circle cx="583.9" cy="387.8" r="1.18"/><circle cx="603.5" cy="374.6" r="1.18"/><circle cx="588.0" cy="380.1" r="1.18"/><circle cx="593.7" cy="366.1" r="1.18"/><circle cx="560.0" cy="364.7" r="1.18"/><circle cx="600.9" cy="369.8" r="1.18"/><circle cx="576.9" cy="365.2" r="1.18"/><circle cx="568.0" cy="361.7" r="1.18"/><circle cx="581.1" cy="366.0" r="1.18"/><circle cx="584.3" cy="370.6" r="1.18"/><circle cx="562.8" cy="377.9" r="1.18"/><circle cx="570.3" cy="370.1" r="1.18"/><circle cx="598.7" cy="371.8" r="1.18"/><circle cx="554.7" cy="367.4" r="1.18"/><circle cx="576.6" cy="395.9" r="1.18"/><circle cx="561.4" cy="391.4" r="1.18"/><circle cx="576.6" cy="375.5" r="1.18"/><circle cx="594.1" cy="374.9" r="1.18"/><circle cx="553.6" cy="380.3" r="1.18"/><circle cx="586.0" cy="382.8" r="1.18"/><circle cx="565.5" cy="393.9" r="1.18"/><circle cx="574.4" cy="390.2" r="1.18"/><circle cx="589.6" cy="367.2" r="1.18"/><circle cx="569.9" cy="387.4" r="1.18"/><circle cx="567.2" cy="379.0" r="1.18"/><circle cx="579.0" cy="389.4" r="1.18"/><circle cx="593.3" cy="386.7" r="1.18"/><circle cx="572.1" cy="389.1" r="1.18"/><circle cx="595.2" cy="387.9" r="1.18"/><circle cx="601.8" cy="375.1" r="1.18"/><circle cx="588.6" cy="369.8" r="1.18"/><circle cx="581.6" cy="369.0" r="1.18"/><circle cx="571.5" cy="373.9" r="1.18"/><circle cx="586.0" cy="389.4" r="1.18"/><circle cx="570.2" cy="383.3" r="1.18"/><circle cx="569.6" cy="370.8" r="1.18"/><circle cx="599.4" cy="372.3" r="1.18"/><circle cx="555.6" cy="372.7" r="1.18"/><circle cx="590.5" cy="368.4" r="1.18"/><circle cx="590.6" cy="380.1" r="1.18"/><circle cx="587.2" cy="367.2" r="1.18"/><circle cx="556.2" cy="366.0" r="1.18"/><circle cx="569.4" cy="376.1" r="1.18"/><circle cx="551.0" cy="378.6" r="1.18"/><circle cx="572.3" cy="372.3" r="1.18"/><circle cx="579.5" cy="394.3" r="1.18"/><circle cx="561.6" cy="391.8" r="1.18"/><circle cx="567.8" cy="387.4" r="1.18"/><circle cx="573.7" cy="394.7" r="1.18"/><circle cx="562.4" cy="375.3" r="1.18"/><circle cx="588.6" cy="367.2" r="1.18"/><circle cx="565.3" cy="384.7" r="1.18"/><circle cx="601.7" cy="372.3" r="1.18"/><circle cx="560.4" cy="373.5" r="1.18"/><circle cx="584.8" cy="374.2" r="1.18"/><circle cx="585.3" cy="368.4" r="1.18"/><circle cx="583.8" cy="392.1" r="1.18"/><circle cx="596.7" cy="383.0" r="1.18"/><circle cx="577.8" cy="380.9" r="1.18"/><circle cx="556.7" cy="390.3" r="1.18"/><circle cx="587.8" cy="376.9" r="1.18"/><circle cx="586.4" cy="375.7" r="1.18"/><circle cx="571.3" cy="369.1" r="1.18"/><circle cx="582.9" cy="381.0" r="1.18"/><circle cx="578.3" cy="362.1" r="1.18"/><circle cx="584.4" cy="376.6" r="1.18"/><circle cx="582.5" cy="381.8" r="1.18"/><circle cx="600.8" cy="366.3" r="1.18"/><circle cx="575.8" cy="395.8" r="1.18"/><circle cx="590.4" cy="372.0" r="1.18"/><circle cx="572.2" cy="391.4" r="1.18"/><circle cx="577.0" cy="369.2" r="1.18"/><circle cx="595.9" cy="383.7" r="1.18"/><circle cx="601.1" cy="390.0" r="1.18"/><circle cx="593.6" cy="378.9" r="1.18"/><circle cx="597.5" cy="385.9" r="1.18"/><circle cx="564.0" cy="389.3" r="1.18"/><circle cx="575.0" cy="379.8" r="1.18"/><circle cx="597.2" cy="367.9" r="1.18"/><circle cx="565.6" cy="383.5" r="1.18"/><circle cx="554.5" cy="380.4" r="1.18"/><circle cx="593.0" cy="378.2" r="1.18"/><circle cx="563.6" cy="389.0" r="1.18"/><circle cx="596.7" cy="388.0" r="1.18"/><circle cx="580.2" cy="392.7" r="1.18"/><circle cx="593.5" cy="366.3" r="1.18"/><circle cx="570.3" cy="364.5" r="1.18"/><circle cx="552.5" cy="373.1" r="1.18"/><circle cx="597.2" cy="390.2" r="1.18"/><circle cx="556.8" cy="367.4" r="1.18"/><circle cx="571.5" cy="390.7" r="1.18"/><circle cx="583.8" cy="392.6" r="1.18"/><circle cx="561.7" cy="383.0" r="1.18"/><circle cx="597.8" cy="386.5" r="1.18"/><circle cx="561.1" cy="384.4" r="1.18"/><circle cx="573.8" cy="361.5" r="1.18"/><circle cx="568.8" cy="372.0" r="1.18"/><circle cx="584.5" cy="370.7" r="1.18"/><circle cx="583.1" cy="385.3" r="1.18"/><circle cx="560.3" cy="365.5" r="1.18"/><circle cx="588.0" cy="377.3" r="1.18"/><circle cx="557.5" cy="365.1" r="1.18"/><circle cx="601.3" cy="382.4" r="1.18"/><circle cx="569.8" cy="367.9" r="1.18"/><circle cx="590.3" cy="373.6" r="1.18"/><circle cx="567.3" cy="375.3" r="1.18"/><circle cx="558.4" cy="383.1" r="1.18"/><circle cx="573.4" cy="389.7" r="1.18"/><circle cx="572.6" cy="377.0" r="1.18"/><circle cx="577.9" cy="394.0" r="1.18"/><circle cx="569.2" cy="385.6" r="1.18"/><circle cx="563.2" cy="381.3" r="1.18"/><circle cx="565.9" cy="391.5" r="1.18"/><circle cx="566.0" cy="390.9" r="1.18"/><circle cx="587.0" cy="376.9" r="1.18"/><circle cx="600.9" cy="374.6" r="1.18"/><circle cx="590.6" cy="382.0" r="1.18"/><circle cx="574.7" cy="363.2" r="1.18"/><circle cx="573.1" cy="370.8" r="1.18"/><circle cx="574.3" cy="394.4" r="1.18"/><circle cx="566.3" cy="385.3" r="1.18"/><circle cx="586.8" cy="369.6" r="1.18"/><circle cx="572.7" cy="365.6" r="1.18"/><circle cx="598.8" cy="369.8" r="1.18"/><circle cx="573.2" cy="373.0" r="1.18"/><circle cx="594.8" cy="390.8" r="1.18"/><circle cx="582.4" cy="380.1" r="1.18"/><circle cx="555.3" cy="373.7" r="1.18"/><circle cx="570.7" cy="386.3" r="1.18"/><circle cx="586.6" cy="373.0" r="1.18"/><circle cx="551.8" cy="383.2" r="1.18"/><circle cx="575.8" cy="373.7" r="1.18"/><circle cx="575.6" cy="372.1" r="1.18"/><circle cx="586.7" cy="382.2" r="1.18"/><circle cx="604.1" cy="374.8" r="1.18"/><circle cx="595.2" cy="383.7" r="1.18"/><circle cx="554.1" cy="377.2" r="1.18"/><circle cx="572.2" cy="384.0" r="1.18"/><circle cx="561.8" cy="373.9" r="1.18"/><circle cx="558.2" cy="374.8" r="1.18"/><circle cx="590.6" cy="363.9" r="1.18"/><circle cx="559.5" cy="383.7" r="1.18"/><circle cx="584.1" cy="387.0" r="1.18"/><circle cx="564.2" cy="389.4" r="1.18"/><circle cx="590.0" cy="388.2" r="1.18"/><circle cx="557.0" cy="377.4" r="1.18"/><circle cx="551.8" cy="373.3" r="1.18"/><circle cx="579.4" cy="379.7" r="1.18"/><circle cx="556.5" cy="388.6" r="1.18"/><circle cx="566.8" cy="378.8" r="1.18"/><circle cx="557.2" cy="380.9" r="1.18"/><circle cx="557.5" cy="364.1" r="1.18"/><circle cx="578.2" cy="371.3" r="1.18"/><circle cx="592.5" cy="369.6" r="1.18"/><circle cx="572.9" cy="362.9" r="1.18"/><circle cx="562.3" cy="376.8" r="1.18"/><circle cx="580.6" cy="377.1" r="1.18"/><circle cx="596.4" cy="364.7" r="1.18"/><circle cx="596.4" cy="366.4" r="1.18"/><circle cx="602.9" cy="379.4" r="1.18"/><circle cx="572.4" cy="382.4" r="1.18"/><circle cx="572.8" cy="361.4" r="1.18"/><circle cx="558.8" cy="389.6" r="1.18"/><circle cx="590.2" cy="385.9" r="1.18"/><circle cx="559.0" cy="379.6" r="1.18"/><circle cx="566.7" cy="394.8" r="1.18"/><circle cx="585.2" cy="390.7" r="1.18"/><circle cx="553.0" cy="375.6" r="1.18"/><circle cx="554.7" cy="370.1" r="1.18"/><circle cx="568.3" cy="378.1" r="1.18"/><circle cx="585.8" cy="392.0" r="1.18"/><circle cx="601.6" cy="380.9" r="1.18"/><circle cx="577.6" cy="392.6" r="1.18"/><circle cx="571.8" cy="371.5" r="1.18"/><circle cx="590.4" cy="370.0" r="1.18"/><circle cx="570.4" cy="376.0" r="1.18"/><circle cx="576.3" cy="373.5" r="1.18"/><circle cx="573.7" cy="376.8" r="1.18"/><circle cx="553.8" cy="379.5" r="1.18"/><circle cx="580.1" cy="375.0" r="1.18"/><circle cx="562.5" cy="364.5" r="1.18"/><circle cx="570.6" cy="372.0" r="1.18"/><circle cx="576.6" cy="369.1" r="1.18"/><circle cx="591.0" cy="378.1" r="1.18"/><circle cx="551.0" cy="375.2" r="1.18"/><circle cx="582.5" cy="394.6" r="1.18"/><circle cx="570.2" cy="381.9" r="1.18"/><circle cx="570.4" cy="371.5" r="1.18"/><circle cx="583.4" cy="381.6" r="1.18"/><circle cx="567.5" cy="378.4" r="1.18"/><circle cx="578.4" cy="387.4" r="1.18"/><circle cx="564.1" cy="370.5" r="1.18"/><circle cx="593.5" cy="375.9" r="1.18"/><circle cx="596.9" cy="375.1" r="1.18"/><circle cx="565.9" cy="384.8" r="1.18"/><circle cx="595.4" cy="372.5" r="1.18"/><circle cx="567.6" cy="389.7" r="1.18"/><circle cx="593.1" cy="383.5" r="1.18"/><circle cx="553.6" cy="387.7" r="1.18"/><circle cx="553.1" cy="382.9" r="1.18"/><circle cx="580.3" cy="393.5" r="1.18"/><circle cx="585.0" cy="361.8" r="1.18"/><circle cx="601.0" cy="387.3" r="1.18"/><circle cx="581.8" cy="361.2" r="1.18"/><circle cx="590.3" cy="375.6" r="1.18"/><circle cx="587.2" cy="395.4" r="1.18"/><circle cx="592.7" cy="376.4" r="1.18"/><circle cx="591.1" cy="374.2" r="1.18"/><circle cx="574.7" cy="376.3" r="1.18"/><circle cx="556.9" cy="372.2" r="1.18"/><circle cx="590.2" cy="363.5" r="1.18"/><circle cx="556.8" cy="390.2" r="1.18"/><circle cx="586.5" cy="380.2" r="1.18"/><circle cx="556.6" cy="365.1" r="1.18"/><circle cx="567.2" cy="394.4" r="1.18"/><circle cx="580.8" cy="393.3" r="1.18"/><circle cx="561.9" cy="375.5" r="1.18"/><circle cx="579.5" cy="390.4" r="1.18"/><circle cx="557.2" cy="391.6" r="1.18"/><circle cx="576.0" cy="362.1" r="1.18"/><circle cx="573.8" cy="374.2" r="1.18"/><circle cx="586.9" cy="393.5" r="1.18"/><circle cx="577.2" cy="385.1" r="1.18"/><circle cx="571.5" cy="388.3" r="1.18"/><circle cx="556.2" cy="387.0" r="1.18"/><circle cx="559.5" cy="381.5" r="1.18"/><circle cx="561.4" cy="373.1" r="1.18"/><circle cx="559.3" cy="373.2" r="1.18"/><circle cx="582.4" cy="379.2" r="1.18"/><circle cx="571.5" cy="381.1" r="1.18"/><circle cx="596.0" cy="373.5" r="1.18"/><circle cx="582.0" cy="377.8" r="1.18"/><circle cx="603.5" cy="372.5" r="1.18"/><circle cx="588.2" cy="369.2" r="1.18"/><circle cx="564.6" cy="386.6" r="1.18"/><circle cx="581.5" cy="370.0" r="1.18"/><circle cx="554.0" cy="389.9" r="1.18"/><circle cx="570.9" cy="386.1" r="1.18"/><circle cx="573.9" cy="382.6" r="1.18"/><circle cx="580.7" cy="395.2" r="1.18"/><circle cx="599.6" cy="377.0" r="1.18"/><circle cx="576.8" cy="369.1" r="1.18"/><circle cx="591.2" cy="364.6" r="1.18"/><circle cx="567.1" cy="390.7" r="1.18"/><circle cx="552.4" cy="385.4" r="1.18"/><circle cx="581.2" cy="380.3" r="1.18"/><circle cx="568.5" cy="366.3" r="1.18"/><circle cx="601.8" cy="387.8" r="1.18"/><circle cx="594.0" cy="364.4" r="1.18"/><circle cx="592.8" cy="368.6" r="1.18"/><circle cx="561.3" cy="379.7" r="1.18"/><circle cx="583.4" cy="365.2" r="1.18"/><circle cx="591.8" cy="381.4" r="1.18"/><circle cx="587.7" cy="373.7" r="1.18"/><circle cx="601.9" cy="386.1" r="1.18"/><circle cx="566.2" cy="391.0" r="1.18"/><circle cx="589.8" cy="370.3" r="1.18"/><circle cx="579.5" cy="369.9" r="1.18"/><circle cx="566.3" cy="369.9" r="1.18"/><circle cx="557.6" cy="378.0" r="1.18"/><circle cx="565.2" cy="371.0" r="1.18"/><circle cx="565.5" cy="378.8" r="1.18"/><circle cx="597.7" cy="366.6" r="1.18"/><circle cx="596.9" cy="390.9" r="1.18"/><circle cx="583.4" cy="380.0" r="1.18"/><circle cx="590.1" cy="379.7" r="1.18"/><circle cx="586.1" cy="393.2" r="1.18"/><circle cx="592.4" cy="370.1" r="1.18"/><circle cx="570.1" cy="388.6" r="1.18"/><circle cx="563.1" cy="376.8" r="1.18"/><circle cx="570.5" cy="386.5" r="1.18"/><circle cx="601.5" cy="378.7" r="1.18"/><circle cx="581.1" cy="373.2" r="1.18"/><circle cx="563.0" cy="394.2" r="1.18"/><circle cx="586.0" cy="363.5" r="1.18"/><circle cx="581.0" cy="365.2" r="1.18"/><circle cx="603.9" cy="371.8" r="1.18"/><circle cx="586.5" cy="363.4" r="1.18"/><circle cx="552.1" cy="381.0" r="1.18"/><circle cx="603.6" cy="385.0" r="1.18"/><circle cx="596.7" cy="388.5" r="1.18"/><circle cx="578.6" cy="363.7" r="1.18"/><circle cx="579.0" cy="367.5" r="1.18"/><circle cx="578.9" cy="373.4" r="1.18"/><circle cx="577.4" cy="367.9" r="1.18"/><circle cx="588.6" cy="375.6" r="1.18"/><circle cx="576.7" cy="363.8" r="1.18"/><circle cx="576.8" cy="380.5" r="1.18"/><circle cx="603.0" cy="380.7" r="1.18"/><circle cx="557.8" cy="371.5" r="1.18"/><circle cx="568.6" cy="385.6" r="1.18"/><circle cx="551.6" cy="378.1" r="1.18"/><circle cx="582.4" cy="385.0" r="1.18"/><circle cx="583.6" cy="382.5" r="1.18"/><circle cx="578.5" cy="394.6" r="1.18"/><circle cx="595.3" cy="385.1" r="1.18"/><circle cx="578.6" cy="381.3" r="1.18"/><circle cx="591.4" cy="389.3" r="1.18"/><circle cx="595.5" cy="375.3" r="1.18"/><circle cx="568.6" cy="373.1" r="1.18"/><circle cx="564.7" cy="381.5" r="1.18"/><circle cx="578.9" cy="372.7" r="1.18"/><circle cx="586.9" cy="376.9" r="1.18"/><circle cx="563.2" cy="391.9" r="1.18"/><circle cx="560.0" cy="366.2" r="1.18"/><circle cx="564.2" cy="377.8" r="1.18"/><circle cx="592.8" cy="372.7" r="1.18"/><circle cx="563.4" cy="383.9" r="1.18"/><circle cx="564.6" cy="379.3" r="1.18"/><circle cx="564.3" cy="391.7" r="1.18"/><circle cx="560.5" cy="369.1" r="1.18"/><circle cx="566.8" cy="372.5" r="1.18"/><circle cx="589.7" cy="384.6" r="1.18"/><circle cx="593.2" cy="379.9" r="1.18"/><circle cx="554.7" cy="387.7" r="1.18"/><circle cx="563.7" cy="368.6" r="1.18"/><circle cx="572.9" cy="395.6" r="1.18"/><circle cx="570.5" cy="373.5" r="1.18"/><circle cx="571.4" cy="365.7" r="1.18"/><circle cx="593.1" cy="388.4" r="1.18"/><circle cx="568.8" cy="388.7" r="1.18"/><circle cx="571.0" cy="371.0" r="1.18"/><circle cx="582.5" cy="387.0" r="1.18"/><circle cx="576.2" cy="389.6" r="1.18"/><circle cx="551.2" cy="378.5" r="1.18"/><circle cx="571.0" cy="363.3" r="1.18"/><circle cx="599.9" cy="366.0" r="1.18"/><circle cx="561.6" cy="391.7" r="1.18"/><circle cx="569.0" cy="393.6" r="1.18"/><circle cx="558.2" cy="386.0" r="1.18"/><circle cx="601.6" cy="367.7" r="1.18"/><circle cx="557.8" cy="384.7" r="1.18"/><circle cx="598.2" cy="386.4" r="1.18"/><circle cx="601.8" cy="376.9" r="1.18"/><circle cx="570.6" cy="365.2" r="1.18"/><circle cx="565.2" cy="393.9" r="1.18"/><circle cx="554.4" cy="367.5" r="1.18"/><circle cx="569.3" cy="362.7" r="1.18"/><circle cx="567.1" cy="367.4" r="1.18"/><circle cx="557.1" cy="379.4" r="1.18"/><circle cx="579.7" cy="380.9" r="1.18"/><circle cx="591.7" cy="379.4" r="1.18"/><circle cx="562.5" cy="363.7" r="1.18"/><circle cx="567.2" cy="387.6" r="1.18"/><circle cx="600.4" cy="378.6" r="1.18"/><circle cx="559.2" cy="372.6" r="1.18"/><circle cx="581.2" cy="371.3" r="1.18"/><circle cx="575.3" cy="382.1" r="1.18"/><circle cx="596.2" cy="377.3" r="1.18"/><circle cx="560.8" cy="394.0" r="1.18"/><circle cx="591.7" cy="375.0" r="1.18"/><circle cx="559.8" cy="386.8" r="1.18"/><circle cx="562.4" cy="389.0" r="1.18"/><circle cx="577.5" cy="383.8" r="1.18"/><circle cx="575.6" cy="367.4" r="1.18"/><circle cx="551.3" cy="371.7" r="1.18"/><circle cx="552.7" cy="370.1" r="1.18"/><circle cx="583.9" cy="373.9" r="1.18"/><circle cx="576.0" cy="382.8" r="1.18"/><circle cx="567.6" cy="373.5" r="1.18"/><circle cx="598.2" cy="381.3" r="1.18"/><circle cx="573.0" cy="379.9" r="1.18"/><circle cx="575.4" cy="372.6" r="1.18"/><circle cx="599.8" cy="369.2" r="1.18"/><circle cx="598.1" cy="366.7" r="1.18"/><circle cx="578.0" cy="395.5" r="1.18"/><circle cx="566.1" cy="367.0" r="1.18"/><circle cx="589.6" cy="369.2" r="1.18"/><circle cx="582.0" cy="366.5" r="1.18"/><circle cx="601.7" cy="370.9" r="1.18"/><circle cx="555.7" cy="385.1" r="1.18"/><circle cx="569.2" cy="380.6" r="1.18"/><circle cx="577.4" cy="393.3" r="1.18"/><circle cx="578.3" cy="374.3" r="1.18"/><circle cx="550.6" cy="378.4" r="1.18"/><circle cx="565.0" cy="381.1" r="1.18"/><circle cx="584.6" cy="377.2" r="1.18"/><circle cx="555.4" cy="378.4" r="1.18"/><circle cx="576.5" cy="383.4" r="1.18"/><circle cx="602.9" cy="370.8" r="1.18"/><circle cx="574.4" cy="364.0" r="1.18"/><circle cx="593.7" cy="369.2" r="1.18"/><circle cx="595.3" cy="388.9" r="1.18"/><circle cx="564.3" cy="392.6" r="1.18"/><circle cx="577.7" cy="375.9" r="1.18"/><circle cx="580.5" cy="394.1" r="1.18"/><circle cx="577.0" cy="377.9" r="1.18"/><circle cx="566.2" cy="390.4" r="1.18"/><circle cx="577.7" cy="373.0" r="1.18"/><circle cx="561.1" cy="368.5" r="1.18"/><circle cx="595.5" cy="389.1" r="1.18"/><circle cx="587.5" cy="388.9" r="1.18"/><circle cx="588.9" cy="389.3" r="1.18"/><circle cx="593.8" cy="367.2" r="1.18"/><circle cx="594.5" cy="371.6" r="1.18"/><circle cx="563.7" cy="393.2" r="1.18"/><circle cx="551.7" cy="378.9" r="1.18"/><circle cx="569.0" cy="388.7" r="1.18"/><circle cx="583.5" cy="392.9" r="1.18"/><circle cx="600.9" cy="383.5" r="1.18"/><circle cx="554.0" cy="384.4" r="1.18"/><circle cx="597.6" cy="371.9" r="1.18"/><circle cx="560.5" cy="385.3" r="1.18"/><circle cx="584.1" cy="365.4" r="1.18"/><circle cx="589.7" cy="363.0" r="1.18"/><circle cx="597.4" cy="387.9" r="1.18"/><circle cx="592.9" cy="391.6" r="1.18"/><circle cx="581.2" cy="394.0" r="1.18"/><circle cx="585.0" cy="378.2" r="1.18"/><circle cx="571.3" cy="373.4" r="1.18"/><circle cx="593.5" cy="369.0" r="1.18"/><circle cx="585.8" cy="388.1" r="1.18"/><circle cx="588.0" cy="379.1" r="1.18"/><circle cx="567.6" cy="370.6" r="1.18"/><circle cx="560.6" cy="383.7" r="1.18"/><circle cx="587.6" cy="394.0" r="1.18"/><circle cx="568.4" cy="393.4" r="1.18"/><circle cx="599.7" cy="371.2" r="1.18"/><circle cx="601.9" cy="382.7" r="1.18"/><circle cx="602.5" cy="388.1" r="1.18"/><circle cx="568.5" cy="370.8" r="1.18"/><circle cx="578.7" cy="378.1" r="1.18"/><circle cx="579.4" cy="377.6" r="1.18"/><circle cx="590.7" cy="369.7" r="1.18"/><circle cx="561.3" cy="381.3" r="1.18"/><circle cx="563.5" cy="372.5" r="1.18"/><circle cx="569.7" cy="379.4" r="1.18"/><circle cx="601.7" cy="383.4" r="1.18"/><circle cx="572.9" cy="375.2" r="1.18"/><circle cx="563.2" cy="377.6" r="1.18"/><circle cx="573.9" cy="385.0" r="1.18"/><circle cx="591.7" cy="380.4" r="1.18"/><circle cx="585.1" cy="393.8" r="1.18"/><circle cx="599.2" cy="369.8" r="1.18"/><circle cx="579.7" cy="395.9" r="1.18"/><circle cx="579.0" cy="367.6" r="1.18"/><circle cx="591.9" cy="363.0" r="1.18"/><circle cx="558.6" cy="380.3" r="1.18"/><circle cx="565.2" cy="386.2" r="1.18"/><circle cx="589.7" cy="372.2" r="1.18"/><circle cx="591.9" cy="383.7" r="1.18"/><circle cx="588.6" cy="377.0" r="1.18"/><circle cx="573.9" cy="364.7" r="1.18"/><circle cx="576.1" cy="394.4" r="1.18"/><circle cx="554.3" cy="370.4" r="1.18"/><circle cx="588.0" cy="376.3" r="1.18"/><circle cx="557.4" cy="375.9" r="1.18"/><circle cx="581.5" cy="387.0" r="1.18"/><circle cx="572.3" cy="383.7" r="1.18"/><circle cx="587.3" cy="382.5" r="1.18"/><circle cx="553.0" cy="385.9" r="1.18"/><circle cx="576.1" cy="361.6" r="1.18"/><circle cx="554.4" cy="374.7" r="1.18"/><circle cx="575.8" cy="364.7" r="1.18"/><circle cx="576.8" cy="381.6" r="1.18"/><circle cx="567.5" cy="395.4" r="1.18"/><circle cx="557.0" cy="371.6" r="1.18"/><circle cx="562.4" cy="391.3" r="1.18"/><circle cx="578.0" cy="375.4" r="1.18"/><circle cx="572.0" cy="392.0" r="1.18"/><circle cx="564.4" cy="388.7" r="1.18"/><circle cx="588.7" cy="376.7" r="1.18"/><circle cx="570.3" cy="376.3" r="1.18"/><circle cx="575.0" cy="372.0" r="1.18"/><circle cx="584.2" cy="375.4" r="1.18"/><circle cx="566.9" cy="388.0" r="1.18"/><circle cx="575.1" cy="377.6" r="1.18"/><circle cx="598.0" cy="376.9" r="1.18"/><circle cx="570.8" cy="392.4" r="1.18"/><circle cx="572.2" cy="384.5" r="1.18"/><circle cx="590.5" cy="371.4" r="1.18"/><circle cx="589.6" cy="394.2" r="1.18"/><circle cx="585.9" cy="384.4" r="1.18"/><circle cx="574.0" cy="383.9" r="1.18"/><circle cx="562.7" cy="388.0" r="1.18"/><circle cx="579.6" cy="395.3" r="1.18"/><circle cx="569.0" cy="385.9" r="1.18"/><circle cx="551.4" cy="375.6" r="1.18"/><circle cx="591.9" cy="370.1" r="1.18"/><circle cx="583.6" cy="368.7" r="1.18"/><circle cx="572.0" cy="395.8" r="1.18"/><circle cx="561.1" cy="392.9" r="1.18"/><circle cx="553.7" cy="381.4" r="1.18"/><circle cx="594.8" cy="390.3" r="1.18"/><circle cx="571.6" cy="381.7" r="1.18"/><circle cx="589.0" cy="387.7" r="1.18"/><circle cx="590.8" cy="381.3" r="1.18"/><circle cx="564.1" cy="385.7" r="1.18"/><circle cx="580.8" cy="380.1" r="1.18"/><circle cx="592.7" cy="372.4" r="1.18"/><circle cx="589.7" cy="394.3" r="1.18"/><circle cx="565.3" cy="380.9" r="1.18"/><circle cx="579.0" cy="378.3" r="1.18"/><circle cx="559.5" cy="382.9" r="1.18"/><circle cx="598.7" cy="384.2" r="1.18"/><circle cx="566.1" cy="389.2" r="1.18"/><circle cx="573.2" cy="366.1" r="1.18"/><circle cx="583.2" cy="377.1" r="1.18"/><circle cx="579.1" cy="395.7" r="1.18"/><circle cx="581.3" cy="394.4" r="1.18"/><circle cx="569.5" cy="387.6" r="1.18"/><circle cx="554.6" cy="371.5" r="1.18"/><circle cx="587.9" cy="385.2" r="1.18"/><circle cx="595.2" cy="374.3" r="1.18"/><circle cx="565.3" cy="373.5" r="1.18"/><circle cx="579.5" cy="361.8" r="1.18"/><circle cx="570.7" cy="384.0" r="1.18"/><circle cx="558.5" cy="371.9" r="1.18"/><circle cx="564.0" cy="367.2" r="1.18"/><circle cx="593.4" cy="386.9" r="1.18"/><circle cx="564.8" cy="378.1" r="1.18"/><circle cx="588.1" cy="362.0" r="1.18"/><circle cx="594.7" cy="391.1" r="1.18"/><circle cx="561.9" cy="385.6" r="1.18"/><circle cx="588.3" cy="372.8" r="1.18"/><circle cx="597.9" cy="368.6" r="1.18"/><circle cx="576.1" cy="372.0" r="1.18"/><circle cx="574.4" cy="389.4" r="1.18"/><circle cx="581.3" cy="382.3" r="1.18"/><circle cx="562.5" cy="382.7" r="1.18"/><circle cx="568.9" cy="376.4" r="1.18"/><circle cx="573.8" cy="390.0" r="1.18"/><circle cx="599.9" cy="384.7" r="1.18"/><circle cx="559.8" cy="373.4" r="1.18"/><circle cx="588.6" cy="368.6" r="1.18"/><circle cx="598.2" cy="391.5" r="1.18"/><circle cx="562.7" cy="373.7" r="1.18"/><circle cx="562.9" cy="386.1" r="1.18"/><circle cx="553.0" cy="385.3" r="1.18"/><circle cx="553.9" cy="390.4" r="1.18"/><circle cx="579.8" cy="381.4" r="1.18"/><circle cx="569.6" cy="395.5" r="1.18"/><circle cx="582.9" cy="391.2" r="1.18"/><circle cx="551.6" cy="385.4" r="1.18"/><circle cx="560.0" cy="370.5" r="1.18"/><circle cx="586.5" cy="385.3" r="1.18"/><circle cx="567.9" cy="377.4" r="1.18"/><circle cx="566.1" cy="380.6" r="1.18"/><circle cx="569.7" cy="373.6" r="1.18"/><circle cx="563.9" cy="371.2" r="1.18"/><circle cx="567.3" cy="381.7" r="1.18"/><circle cx="565.0" cy="365.0" r="1.18"/><circle cx="596.2" cy="377.4" r="1.18"/><circle cx="578.1" cy="371.9" r="1.18"/><circle cx="598.4" cy="387.4" r="1.18"/><circle cx="584.1" cy="384.1" r="1.18"/><circle cx="587.9" cy="378.5" r="1.18"/><circle cx="572.8" cy="374.7" r="1.18"/><circle cx="577.7" cy="377.4" r="1.18"/><circle cx="579.1" cy="379.7" r="1.18"/><circle cx="593.1" cy="392.2" r="1.18"/><circle cx="566.8" cy="362.1" r="1.18"/><circle cx="593.5" cy="382.7" r="1.18"/><circle cx="565.9" cy="367.7" r="1.18"/><circle cx="597.4" cy="390.3" r="1.18"/><circle cx="587.4" cy="385.2" r="1.18"/><circle cx="590.7" cy="376.9" r="1.18"/><circle cx="572.0" cy="380.4" r="1.18"/><circle cx="600.0" cy="390.2" r="1.18"/><circle cx="554.5" cy="369.6" r="1.18"/><circle cx="602.9" cy="380.0" r="1.18"/><circle cx="578.3" cy="371.8" r="1.18"/><circle cx="597.0" cy="379.1" r="1.18"/><circle cx="558.5" cy="374.6" r="1.18"/><circle cx="585.0" cy="364.9" r="1.18"/><circle cx="580.9" cy="393.9" r="1.18"/><circle cx="574.0" cy="387.7" r="1.18"/><circle cx="582.5" cy="381.4" r="1.18"/><circle cx="559.9" cy="377.2" r="1.18"/><circle cx="599.1" cy="384.6" r="1.18"/><circle cx="562.2" cy="376.6" r="1.18"/><circle cx="579.9" cy="372.8" r="1.18"/><circle cx="581.7" cy="383.1" r="1.18"/><circle cx="586.0" cy="368.5" r="1.18"/><circle cx="554.4" cy="387.7" r="1.18"/><circle cx="568.5" cy="394.5" r="1.18"/><circle cx="580.7" cy="364.5" r="1.18"/><circle cx="584.9" cy="370.2" r="1.18"/><circle cx="594.5" cy="386.3" r="1.18"/><circle cx="591.5" cy="363.0" r="1.18"/><circle cx="558.1" cy="368.1" r="1.18"/><circle cx="576.1" cy="394.5" r="1.18"/><circle cx="567.9" cy="370.1" r="1.18"/><circle cx="595.2" cy="367.5" r="1.18"/><circle cx="584.8" cy="382.5" r="1.18"/><circle cx="580.9" cy="374.4" r="1.18"/><circle cx="595.0" cy="369.8" r="1.18"/><circle cx="589.1" cy="367.5" r="1.18"/><circle cx="577.2" cy="394.9" r="1.18"/><circle cx="563.5" cy="370.8" r="1.18"/><circle cx="600.0" cy="384.6" r="1.18"/><circle cx="554.1" cy="367.5" r="1.18"/><circle cx="563.3" cy="371.1" r="1.18"/><circle cx="596.1" cy="385.5" r="1.18"/><circle cx="603.4" cy="384.4" r="1.18"/><circle cx="584.4" cy="374.4" r="1.18"/><circle cx="589.2" cy="378.3" r="1.18"/><circle cx="553.7" cy="378.2" r="1.18"/><circle cx="571.2" cy="379.6" r="1.18"/><circle cx="603.6" cy="374.0" r="1.18"/><circle cx="568.3" cy="366.2" r="1.18"/><circle cx="582.5" cy="393.0" r="1.18"/><circle cx="560.2" cy="378.5" r="1.18"/><circle cx="577.5" cy="387.8" r="1.18"/><circle cx="581.0" cy="369.4" r="1.18"/><circle cx="560.7" cy="386.4" r="1.18"/><circle cx="554.7" cy="391.3" r="1.18"/><circle cx="575.8" cy="390.5" r="1.18"/><circle cx="584.0" cy="387.1" r="1.18"/><circle cx="591.6" cy="386.3" r="1.18"/><circle cx="553.3" cy="389.9" r="1.18"/><circle cx="558.5" cy="366.7" r="1.18"/><circle cx="597.9" cy="374.3" r="1.18"/><circle cx="596.2" cy="382.1" r="1.18"/><circle cx="556.6" cy="371.0" r="1.18"/><circle cx="560.8" cy="364.9" r="1.18"/><circle cx="561.3" cy="383.4" r="1.18"/><circle cx="559.6" cy="366.9" r="1.18"/><circle cx="579.4" cy="374.1" r="1.18"/><circle cx="558.6" cy="380.9" r="1.18"/><circle cx="577.9" cy="374.6" r="1.18"/><circle cx="576.1" cy="362.4" r="1.18"/><circle cx="583.7" cy="367.8" r="1.18"/><circle cx="568.6" cy="361.3" r="1.18"/><circle cx="598.4" cy="381.6" r="1.18"/><circle cx="571.7" cy="380.0" r="1.18"/><circle cx="571.2" cy="385.8" r="1.18"/><circle cx="570.6" cy="385.7" r="1.18"/><circle cx="565.9" cy="371.2" r="1.18"/><circle cx="591.0" cy="388.5" r="1.18"/><circle cx="588.3" cy="393.4" r="1.18"/><circle cx="560.5" cy="374.8" r="1.18"/><circle cx="596.6" cy="387.8" r="1.18"/><circle cx="590.5" cy="391.3" r="1.18"/><circle cx="570.1" cy="382.2" r="1.18"/><circle cx="581.7" cy="392.1" r="1.18"/><circle cx="585.9" cy="394.6" r="1.18"/><circle cx="558.3" cy="375.1" r="1.18"/><circle cx="581.0" cy="365.6" r="1.18"/><circle cx="592.7" cy="363.2" r="1.18"/><circle cx="584.5" cy="370.8" r="1.18"/><circle cx="567.9" cy="382.2" r="1.18"/><circle cx="560.8" cy="376.7" r="1.18"/><circle cx="564.7" cy="373.8" r="1.18"/><circle cx="588.0" cy="367.6" r="1.18"/><circle cx="596.4" cy="368.0" r="1.18"/><circle cx="580.6" cy="372.9" r="1.18"/><circle cx="584.9" cy="363.3" r="1.18"/><circle cx="589.2" cy="369.1" r="1.18"/><circle cx="576.5" cy="386.3" r="1.18"/><circle cx="573.2" cy="372.1" r="1.18"/><circle cx="572.0" cy="371.9" r="1.18"/><circle cx="590.5" cy="377.2" r="1.18"/><circle cx="587.5" cy="366.3" r="1.18"/><circle cx="592.8" cy="394.8" r="1.18"/><circle cx="561.5" cy="382.6" r="1.18"/><circle cx="572.9" cy="367.4" r="1.18"/><circle cx="590.0" cy="381.0" r="1.18"/><circle cx="586.9" cy="394.9" r="1.18"/><circle cx="552.4" cy="377.1" r="1.18"/><circle cx="595.0" cy="384.9" r="1.18"/><circle cx="580.1" cy="391.0" r="1.18"/><circle cx="570.6" cy="365.0" r="1.18"/><circle cx="585.1" cy="361.9" r="1.18"/><circle cx="562.9" cy="362.0" r="1.18"/><circle cx="559.2" cy="363.2" r="1.18"/><circle cx="579.2" cy="365.5" r="1.18"/><circle cx="583.1" cy="389.8" r="1.18"/><circle cx="569.1" cy="365.2" r="1.18"/><circle cx="586.7" cy="386.5" r="1.18"/><circle cx="598.2" cy="380.4" r="1.18"/><circle cx="581.9" cy="391.2" r="1.18"/><circle cx="587.1" cy="395.1" r="1.18"/><circle cx="566.0" cy="388.1" r="1.18"/><circle cx="584.7" cy="377.4" r="1.18"/><circle cx="551.1" cy="377.7" r="1.18"/><circle cx="564.7" cy="382.1" r="1.18"/><circle cx="578.0" cy="378.9" r="1.18"/><circle cx="583.3" cy="384.9" r="1.18"/><circle cx="566.2" cy="376.9" r="1.18"/><circle cx="577.8" cy="389.1" r="1.18"/><circle cx="571.8" cy="393.2" r="1.18"/><circle cx="576.6" cy="374.9" r="1.18"/><circle cx="576.4" cy="373.5" r="1.18"/><circle cx="572.1" cy="363.8" r="1.18"/><circle cx="587.1" cy="366.3" r="1.18"/><circle cx="558.6" cy="375.8" r="1.18"/><circle cx="583.0" cy="387.7" r="1.18"/><circle cx="574.5" cy="371.3" r="1.18"/><circle cx="570.4" cy="392.1" r="1.18"/><circle cx="598.3" cy="377.9" r="1.18"/><circle cx="557.6" cy="365.8" r="1.18"/><circle cx="598.6" cy="387.2" r="1.18"/><circle cx="554.0" cy="384.6" r="1.18"/><circle cx="562.0" cy="376.6" r="1.18"/><circle cx="583.2" cy="362.8" r="1.18"/><circle cx="601.0" cy="372.7" r="1.18"/><circle cx="558.3" cy="388.3" r="1.18"/><circle cx="585.7" cy="377.5" r="1.18"/><circle cx="599.1" cy="388.7" r="1.18"/><circle cx="561.7" cy="362.6" r="1.18"/><circle cx="583.1" cy="377.5" r="1.18"/><circle cx="566.8" cy="393.1" r="1.18"/><circle cx="561.8" cy="383.5" r="1.18"/><circle cx="601.7" cy="382.6" r="1.18"/><circle cx="567.8" cy="386.3" r="1.18"/><circle cx="599.3" cy="388.8" r="1.18"/><circle cx="552.7" cy="378.6" r="1.18"/><circle cx="558.1" cy="380.1" r="1.18"/><circle cx="563.9" cy="380.3" r="1.18"/><circle cx="567.6" cy="366.9" r="1.18"/><circle cx="590.7" cy="387.6" r="1.18"/><circle cx="568.7" cy="375.7" r="1.18"/><circle cx="588.1" cy="386.5" r="1.18"/><circle cx="575.5" cy="365.1" r="1.18"/><circle cx="555.7" cy="366.9" r="1.18"/><circle cx="595.1" cy="378.4" r="1.18"/><circle cx="585.3" cy="373.8" r="1.18"/><circle cx="570.4" cy="367.2" r="1.18"/><circle cx="603.1" cy="382.2" r="1.18"/><circle cx="557.4" cy="385.6" r="1.18"/><circle cx="582.8" cy="382.5" r="1.18"/><circle cx="592.1" cy="382.3" r="1.18"/><circle cx="572.5" cy="383.7" r="1.18"/><circle cx="570.7" cy="375.4" r="1.18"/><circle cx="570.3" cy="383.7" r="1.18"/><circle cx="569.5" cy="373.3" r="1.18"/><circle cx="596.2" cy="389.0" r="1.18"/><circle cx="587.0" cy="390.5" r="1.18"/><circle cx="571.3" cy="383.5" r="1.18"/><circle cx="564.1" cy="372.0" r="1.18"/><circle cx="555.9" cy="388.9" r="1.18"/><circle cx="600.2" cy="371.6" r="1.18"/><circle cx="570.9" cy="365.1" r="1.18"/><circle cx="558.2" cy="383.3" r="1.18"/><circle cx="564.2" cy="387.6" r="1.18"/><circle cx="562.7" cy="391.7" r="1.18"/><circle cx="569.6" cy="377.6" r="1.18"/><circle cx="561.4" cy="371.2" r="1.18"/><circle cx="573.4" cy="370.7" r="1.18"/><circle cx="589.9" cy="362.1" r="1.18"/><circle cx="585.0" cy="389.1" r="1.18"/><circle cx="568.1" cy="367.7" r="1.18"/><circle cx="593.3" cy="382.1" r="1.18"/><circle cx="551.3" cy="376.9" r="1.18"/><circle cx="582.8" cy="372.2" r="1.18"/><circle cx="552.4" cy="375.7" r="1.18"/><circle cx="569.6" cy="395.0" r="1.18"/><circle cx="569.9" cy="393.3" r="1.18"/><circle cx="597.4" cy="381.1" r="1.18"/><circle cx="557.3" cy="389.3" r="1.18"/><circle cx="555.4" cy="380.5" r="1.18"/><circle cx="572.7" cy="366.5" r="1.18"/><circle cx="604.1" cy="381.2" r="1.18"/><circle cx="591.4" cy="383.6" r="1.18"/><circle cx="576.0" cy="388.2" r="1.18"/><circle cx="586.6" cy="366.5" r="1.18"/><circle cx="579.1" cy="375.5" r="1.18"/><circle cx="578.3" cy="386.0" r="1.18"/><circle cx="587.7" cy="380.9" r="1.18"/><circle cx="593.1" cy="389.9" r="1.18"/><circle cx="555.5" cy="366.1" r="1.18"/><circle cx="602.3" cy="371.8" r="1.18"/><circle cx="574.2" cy="377.3" r="1.18"/><circle cx="581.0" cy="370.8" r="1.18"/><circle cx="592.5" cy="372.6" r="1.18"/><circle cx="596.2" cy="389.1" r="1.18"/><circle cx="550.6" cy="380.2" r="1.18"/><circle cx="555.5" cy="391.9" r="1.18"/><circle cx="554.2" cy="370.4" r="1.18"/><circle cx="592.0" cy="381.7" r="1.18"/><circle cx="586.5" cy="375.5" r="1.18"/><circle cx="578.6" cy="368.1" r="1.18"/><circle cx="575.5" cy="370.0" r="1.18"/><circle cx="587.0" cy="364.7" r="1.18"/><circle cx="557.9" cy="367.9" r="1.18"/><circle cx="579.3" cy="381.4" r="1.18"/><circle cx="595.6" cy="374.3" r="1.18"/><circle cx="559.1" cy="389.9" r="1.18"/><circle cx="591.3" cy="389.6" r="1.18"/><circle cx="601.1" cy="368.3" r="1.18"/><circle cx="557.0" cy="366.8" r="1.18"/><circle cx="563.0" cy="392.5" r="1.18"/><circle cx="599.6" cy="377.6" r="1.18"/><circle cx="557.4" cy="373.3" r="1.18"/><circle cx="563.5" cy="383.7" r="1.18"/><circle cx="589.4" cy="388.2" r="1.18"/><circle cx="574.1" cy="377.0" r="1.18"/><circle cx="575.8" cy="374.0" r="1.18"/><circle cx="575.1" cy="385.0" r="1.18"/><circle cx="588.9" cy="372.4" r="1.18"/><circle cx="581.1" cy="366.1" r="1.18"/><circle cx="552.9" cy="374.5" r="1.18"/><circle cx="569.9" cy="362.1" r="1.18"/><circle cx="554.8" cy="375.9" r="1.18"/><circle cx="601.4" cy="390.3" r="1.18"/><circle cx="552.1" cy="372.1" r="1.18"/><circle cx="570.4" cy="371.9" r="1.18"/><circle cx="557.9" cy="381.7" r="1.18"/><circle cx="595.8" cy="374.4" r="1.18"/><circle cx="560.0" cy="364.7" r="1.18"/><circle cx="563.0" cy="386.3" r="1.18"/><circle cx="593.2" cy="363.9" r="1.18"/><circle cx="560.7" cy="372.0" r="1.18"/><circle cx="592.0" cy="386.8" r="1.18"/><circle cx="566.9" cy="376.8" r="1.18"/><circle cx="569.7" cy="377.5" r="1.18"/><circle cx="593.4" cy="370.2" r="1.18"/><circle cx="594.3" cy="393.2" r="1.18"/><circle cx="583.0" cy="394.6" r="1.18"/><circle cx="601.2" cy="367.0" r="1.18"/><circle cx="594.0" cy="365.2" r="1.18"/><circle cx="566.8" cy="376.5" r="1.18"/><circle cx="595.8" cy="384.8" r="1.18"/><circle cx="561.5" cy="392.4" r="1.18"/><circle cx="597.2" cy="378.8" r="1.18"/><circle cx="553.2" cy="371.0" r="1.18"/><circle cx="566.3" cy="375.7" r="1.18"/><circle cx="601.4" cy="381.8" r="1.18"/><circle cx="594.8" cy="363.5" r="1.18"/><circle cx="563.8" cy="386.6" r="1.18"/><circle cx="568.9" cy="369.0" r="1.18"/><circle cx="572.8" cy="380.1" r="1.18"/><circle cx="572.1" cy="380.8" r="1.18"/><circle cx="566.2" cy="361.6" r="1.18"/><circle cx="586.9" cy="372.7" r="1.18"/><circle cx="577.0" cy="374.2" r="1.18"/><circle cx="565.1" cy="362.8" r="1.18"/><circle cx="566.5" cy="371.4" r="1.18"/><circle cx="576.5" cy="361.7" r="1.18"/><circle cx="598.0" cy="373.6" r="1.18"/><circle cx="574.5" cy="379.4" r="1.18"/><circle cx="592.9" cy="380.5" r="1.18"/><circle cx="577.1" cy="373.0" r="1.18"/><circle cx="591.1" cy="378.6" r="1.18"/><circle cx="593.3" cy="390.2" r="1.18"/><circle cx="598.8" cy="386.4" r="1.18"/><circle cx="586.9" cy="377.2" r="1.18"/><circle cx="579.3" cy="381.3" r="1.18"/><circle cx="578.9" cy="389.7" r="1.18"/><circle cx="591.1" cy="382.6" r="1.18"/><circle cx="582.8" cy="392.8" r="1.18"/><circle cx="553.2" cy="377.6" r="1.18"/><circle cx="570.8" cy="394.2" r="1.18"/><circle cx="559.4" cy="380.7" r="1.18"/><circle cx="558.3" cy="387.4" r="1.18"/><circle cx="576.9" cy="386.7" r="1.18"/><circle cx="567.1" cy="391.9" r="1.18"/><circle cx="590.1" cy="391.8" r="1.18"/><circle cx="592.5" cy="370.6" r="1.18"/><circle cx="554.9" cy="385.8" r="1.18"/><circle cx="590.0" cy="363.1" r="1.18"/><circle cx="601.0" cy="379.5" r="1.18"/><circle cx="552.3" cy="377.8" r="1.18"/><circle cx="568.8" cy="364.7" r="1.18"/><circle cx="557.2" cy="376.6" r="1.18"/><circle cx="565.3" cy="384.5" r="1.18"/><circle cx="556.4" cy="372.7" r="1.18"/><circle cx="572.7" cy="377.5" r="1.18"/><circle cx="574.0" cy="381.9" r="1.18"/><circle cx="599.5" cy="390.0" r="1.18"/><circle cx="562.8" cy="369.6" r="1.18"/><circle cx="575.3" cy="383.5" r="1.18"/><circle cx="583.2" cy="373.2" r="1.18"/><circle cx="561.8" cy="386.6" r="1.18"/><circle cx="563.3" cy="369.5" r="1.18"/><circle cx="593.0" cy="392.4" r="1.18"/><circle cx="564.7" cy="364.6" r="1.18"/><circle cx="589.2" cy="377.5" r="1.18"/><circle cx="590.8" cy="387.9" r="1.18"/><circle cx="578.0" cy="370.5" r="1.18"/><circle cx="578.9" cy="384.2" r="1.18"/><circle cx="568.0" cy="383.4" r="1.18"/><circle cx="561.9" cy="368.9" r="1.18"/><circle cx="600.5" cy="390.4" r="1.18"/><circle cx="596.3" cy="389.7" r="1.18"/><circle cx="581.1" cy="363.6" r="1.18"/><circle cx="590.0" cy="390.3" r="1.18"/><circle cx="553.8" cy="386.6" r="1.18"/><circle cx="576.8" cy="392.3" r="1.18"/><circle cx="604.0" cy="376.6" r="1.18"/><circle cx="587.0" cy="384.3" r="1.18"/><circle cx="588.0" cy="373.9" r="1.18"/><circle cx="585.0" cy="363.4" r="1.18"/><circle cx="599.1" cy="386.3" r="1.18"/><circle cx="593.8" cy="377.2" r="1.18"/><circle cx="561.6" cy="376.8" r="1.18"/><circle cx="587.3" cy="380.2" r="1.18"/><circle cx="572.0" cy="369.6" r="1.18"/><circle cx="562.7" cy="368.8" r="1.18"/><circle cx="572.9" cy="385.3" r="1.18"/><circle cx="599.8" cy="384.7" r="1.18"/><circle cx="583.4" cy="386.6" r="1.18"/><circle cx="583.6" cy="373.4" r="1.18"/><circle cx="568.8" cy="363.5" r="1.18"/><circle cx="586.4" cy="362.9" r="1.18"/><circle cx="587.3" cy="392.9" r="1.18"/><circle cx="586.6" cy="382.2" r="1.18"/><circle cx="575.3" cy="361.5" r="1.18"/><circle cx="583.7" cy="383.3" r="1.18"/><circle cx="597.1" cy="382.4" r="1.18"/><circle cx="570.1" cy="361.2" r="1.18"/><circle cx="595.4" cy="382.9" r="1.18"/><circle cx="603.7" cy="381.8" r="1.18"/><circle cx="596.5" cy="388.0" r="1.18"/><circle cx="604.0" cy="377.2" r="1.18"/><circle cx="598.9" cy="374.9" r="1.18"/><circle cx="551.1" cy="372.4" r="1.18"/><circle cx="569.5" cy="395.7" r="1.18"/><circle cx="571.8" cy="370.6" r="1.18"/><circle cx="587.8" cy="364.4" r="1.18"/><circle cx="567.0" cy="374.8" r="1.18"/><circle cx="557.2" cy="381.9" r="1.18"/><circle cx="573.3" cy="389.1" r="1.18"/><circle cx="568.8" cy="395.2" r="1.18"/><circle cx="561.1" cy="379.6" r="1.18"/><circle cx="566.8" cy="392.3" r="1.18"/><circle cx="566.2" cy="378.1" r="1.18"/><circle cx="578.8" cy="370.3" r="1.18"/><circle cx="579.4" cy="363.3" r="1.18"/><circle cx="569.4" cy="371.0" r="1.18"/><circle cx="594.5" cy="388.0" r="1.18"/><circle cx="588.3" cy="381.8" r="1.18"/><circle cx="597.3" cy="386.9" r="1.18"/><circle cx="590.9" cy="390.4" r="1.18"/><circle cx="559.0" cy="380.9" r="1.18"/><circle cx="584.2" cy="382.2" r="1.18"/><circle cx="578.1" cy="370.4" r="1.18"/><circle cx="603.5" cy="374.5" r="1.18"/><circle cx="554.3" cy="384.4" r="1.18"/><circle cx="564.5" cy="368.6" r="1.18"/><circle cx="566.8" cy="382.2" r="1.18"/><circle cx="567.8" cy="384.3" r="1.18"/><circle cx="564.2" cy="389.8" r="1.18"/><circle cx="555.3" cy="381.4" r="1.18"/><circle cx="589.2" cy="379.4" r="1.18"/><circle cx="594.7" cy="378.4" r="1.18"/><circle cx="574.6" cy="362.0" r="1.18"/><circle cx="588.3" cy="362.4" r="1.18"/><circle cx="578.9" cy="393.4" r="1.18"/><circle cx="587.1" cy="365.1" r="1.18"/><circle cx="589.4" cy="385.6" r="1.18"/><circle cx="568.3" cy="388.0" r="1.18"/><circle cx="581.8" cy="375.5" r="1.18"/><circle cx="578.9" cy="370.6" r="1.18"/><circle cx="566.0" cy="392.1" r="1.18"/><circle cx="569.4" cy="388.0" r="1.18"/><circle cx="570.3" cy="367.7" r="1.18"/><circle cx="582.3" cy="363.2" r="1.18"/><circle cx="583.6" cy="382.8" r="1.18"/><circle cx="602.1" cy="371.4" r="1.18"/><circle cx="563.1" cy="368.7" r="1.18"/><circle cx="577.2" cy="375.7" r="1.18"/><circle cx="570.4" cy="394.3" r="1.18"/><circle cx="567.4" cy="389.9" r="1.18"/><circle cx="579.3" cy="364.6" r="1.18"/><circle cx="552.1" cy="382.3" r="1.18"/><circle cx="588.4" cy="369.1" r="1.18"/><circle cx="587.6" cy="390.2" r="1.18"/><circle cx="589.8" cy="369.6" r="1.18"/><circle cx="579.7" cy="362.8" r="1.18"/><circle cx="570.4" cy="392.9" r="1.18"/><circle cx="554.1" cy="371.3" r="1.18"/><circle cx="569.6" cy="363.9" r="1.18"/><circle cx="569.7" cy="368.1" r="1.18"/><circle cx="573.9" cy="382.6" r="1.18"/><circle cx="586.0" cy="364.4" r="1.18"/><circle cx="579.4" cy="363.0" r="1.18"/><circle cx="574.3" cy="389.3" r="1.18"/><circle cx="564.7" cy="389.8" r="1.18"/><circle cx="563.7" cy="374.8" r="1.18"/><circle cx="580.4" cy="379.8" r="1.18"/><circle cx="589.1" cy="394.2" r="1.18"/><circle cx="588.0" cy="368.8" r="1.18"/><circle cx="561.2" cy="377.9" r="1.18"/><circle cx="565.7" cy="380.4" r="1.18"/><circle cx="555.3" cy="385.3" r="1.18"/><circle cx="573.0" cy="362.7" r="1.18"/><circle cx="596.4" cy="391.8" r="1.18"/><circle cx="571.5" cy="395.5" r="1.18"/><circle cx="559.7" cy="386.4" r="1.18"/><circle cx="601.4" cy="368.3" r="1.18"/><circle cx="555.0" cy="389.1" r="1.18"/><circle cx="583.2" cy="377.7" r="1.18"/><circle cx="556.7" cy="383.5" r="1.18"/><circle cx="557.9" cy="365.7" r="1.18"/><circle cx="582.6" cy="383.5" r="1.18"/><circle cx="593.7" cy="389.9" r="1.18"/><circle cx="557.9" cy="371.6" r="1.18"/><circle cx="558.3" cy="378.2" r="1.18"/><circle cx="587.3" cy="389.3" r="1.18"/><circle cx="576.9" cy="392.9" r="1.18"/><circle cx="595.6" cy="390.0" r="1.18"/><circle cx="594.0" cy="368.6" r="1.18"/><circle cx="569.2" cy="363.0" r="1.18"/><circle cx="591.8" cy="377.6" r="1.18"/><circle cx="603.8" cy="371.1" r="1.18"/><circle cx="573.8" cy="391.3" r="1.18"/><circle cx="602.8" cy="387.5" r="1.18"/><circle cx="565.2" cy="382.6" r="1.18"/><circle cx="553.9" cy="384.7" r="1.18"/><circle cx="601.9" cy="378.7" r="1.18"/><circle cx="558.4" cy="380.9" r="1.18"/><circle cx="554.0" cy="377.2" r="1.18"/><circle cx="554.8" cy="375.6" r="1.18"/><circle cx="594.7" cy="386.9" r="1.18"/><circle cx="596.6" cy="377.0" r="1.18"/><circle cx="574.3" cy="362.9" r="1.18"/><circle cx="593.1" cy="380.9" r="1.18"/><circle cx="572.5" cy="366.1" r="1.18"/><circle cx="575.3" cy="363.2" r="1.18"/><circle cx="573.4" cy="365.8" r="1.18"/><circle cx="595.2" cy="382.3" r="1.18"/><circle cx="597.3" cy="380.4" r="1.18"/><circle cx="559.1" cy="370.7" r="1.18"/><circle cx="595.8" cy="381.5" r="1.18"/><circle cx="585.4" cy="383.1" r="1.18"/><circle cx="553.1" cy="368.0" r="1.18"/><circle cx="573.8" cy="390.5" r="1.18"/><circle cx="601.4" cy="381.7" r="1.18"/><circle cx="564.5" cy="362.6" r="1.18"/><circle cx="580.7" cy="375.3" r="1.18"/><circle cx="600.8" cy="368.2" r="1.18"/><circle cx="597.5" cy="366.4" r="1.18"/><circle cx="551.3" cy="381.2" r="1.18"/><circle cx="563.8" cy="382.5" r="1.18"/><circle cx="599.7" cy="387.1" r="1.18"/><circle cx="565.6" cy="382.2" r="1.18"/><circle cx="566.1" cy="387.6" r="1.18"/><circle cx="564.4" cy="391.4" r="1.18"/><circle cx="587.1" cy="392.2" r="1.18"/><circle cx="569.2" cy="394.4" r="1.18"/><circle cx="581.9" cy="370.0" r="1.18"/><circle cx="585.4" cy="371.9" r="1.18"/><circle cx="583.5" cy="369.5" r="1.18"/><circle cx="555.9" cy="388.2" r="1.18"/><circle cx="558.2" cy="387.4" r="1.18"/><circle cx="565.2" cy="373.7" r="1.18"/><circle cx="600.9" cy="390.0" r="1.18"/><circle cx="583.1" cy="393.7" r="1.18"/><circle cx="584.1" cy="381.4" r="1.18"/><circle cx="568.0" cy="374.3" r="1.18"/><circle cx="581.3" cy="369.6" r="1.18"/><circle cx="585.2" cy="391.2" r="1.18"/><circle cx="589.4" cy="368.9" r="1.18"/><circle cx="552.0" cy="373.8" r="1.18"/><circle cx="573.9" cy="390.6" r="1.18"/><circle cx="580.0" cy="379.1" r="1.18"/><circle cx="583.2" cy="380.4" r="1.18"/><circle cx="587.1" cy="380.5" r="1.18"/><circle cx="580.3" cy="369.3" r="1.18"/><circle cx="557.2" cy="376.4" r="1.18"/><circle cx="566.3" cy="381.1" r="1.18"/><circle cx="578.5" cy="376.9" r="1.18"/><circle cx="560.1" cy="388.6" r="1.18"/><circle cx="555.1" cy="369.0" r="1.18"/><circle cx="565.5" cy="368.1" r="1.18"/><circle cx="560.9" cy="363.8" r="1.18"/><circle cx="578.8" cy="367.0" r="1.18"/><circle cx="585.2" cy="382.0" r="1.18"/><circle cx="584.2" cy="377.8" r="1.18"/><circle cx="583.6" cy="371.3" r="1.18"/><circle cx="575.6" cy="385.1" r="1.18"/><circle cx="562.1" cy="386.7" r="1.18"/><circle cx="582.1" cy="395.1" r="1.18"/><circle cx="583.8" cy="380.2" r="1.18"/><circle cx="592.0" cy="371.1" r="1.18"/><circle cx="570.6" cy="376.1" r="1.18"/><circle cx="590.2" cy="386.2" r="1.18"/><circle cx="560.5" cy="394.4" r="1.18"/><circle cx="603.5" cy="378.3" r="1.18"/><circle cx="604.3" cy="382.7" r="1.18"/><circle cx="571.3" cy="364.0" r="1.18"/><circle cx="551.4" cy="381.7" r="1.18"/><circle cx="589.3" cy="382.6" r="1.18"/><circle cx="592.8" cy="376.3" r="1.18"/><circle cx="590.6" cy="382.1" r="1.18"/><circle cx="584.7" cy="380.2" r="1.18"/><circle cx="586.5" cy="380.6" r="1.18"/><circle cx="555.4" cy="384.6" r="1.18"/><circle cx="588.5" cy="376.0" r="1.18"/><circle cx="602.9" cy="377.8" r="1.18"/><circle cx="559.5" cy="378.9" r="1.18"/><circle cx="569.8" cy="366.8" r="1.18"/><circle cx="598.5" cy="367.2" r="1.18"/><circle cx="589.0" cy="367.0" r="1.18"/><circle cx="578.4" cy="395.9" r="1.18"/><circle cx="555.3" cy="391.1" r="1.18"/><circle cx="599.6" cy="376.7" r="1.18"/><circle cx="584.9" cy="377.1" r="1.18"/><circle cx="559.3" cy="373.5" r="1.18"/><circle cx="574.3" cy="391.4" r="1.18"/><circle cx="556.7" cy="379.9" r="1.18"/><circle cx="576.0" cy="380.3" r="1.18"/><circle cx="593.3" cy="382.0" r="1.18"/><circle cx="568.0" cy="394.4" r="1.18"/><circle cx="582.8" cy="370.5" r="1.18"/><circle cx="580.1" cy="391.4" r="1.18"/><circle cx="553.0" cy="383.7" r="1.18"/><circle cx="576.8" cy="371.1" r="1.18"/><circle cx="559.1" cy="369.1" r="1.18"/><circle cx="574.1" cy="375.8" r="1.18"/><circle cx="583.0" cy="370.5" r="1.18"/><circle cx="584.0" cy="377.6" r="1.18"/><circle cx="593.5" cy="389.2" r="1.18"/><circle cx="580.0" cy="372.7" r="1.18"/><circle cx="564.2" cy="385.9" r="1.18"/><circle cx="574.1" cy="384.9" r="1.18"/><circle cx="564.3" cy="391.1" r="1.18"/><circle cx="564.8" cy="391.5" r="1.18"/><circle cx="574.2" cy="375.0" r="1.18"/><circle cx="581.7" cy="379.3" r="1.18"/><circle cx="580.1" cy="380.6" r="1.18"/><circle cx="601.8" cy="387.0" r="1.18"/><circle cx="594.7" cy="370.6" r="1.18"/><circle cx="577.2" cy="390.5" r="1.18"/><circle cx="567.5" cy="378.2" r="1.18"/><circle cx="602.8" cy="383.7" r="1.18"/><circle cx="596.7" cy="381.7" r="1.18"/><circle cx="599.7" cy="384.6" r="1.18"/><circle cx="563.5" cy="374.0" r="1.18"/><circle cx="576.4" cy="364.8" r="1.18"/><circle cx="600.4" cy="377.9" r="1.18"/><circle cx="561.3" cy="378.2" r="1.18"/><circle cx="594.0" cy="370.6" r="1.18"/><circle cx="582.2" cy="364.2" r="1.18"/><circle cx="563.5" cy="367.6" r="1.18"/><circle cx="577.8" cy="385.1" r="1.18"/><circle cx="562.8" cy="385.1" r="1.18"/><circle cx="582.1" cy="387.3" r="1.18"/><circle cx="604.3" cy="376.9" r="1.18"/><circle cx="578.0" cy="367.2" r="1.18"/><circle cx="555.1" cy="383.6" r="1.18"/><circle cx="555.0" cy="380.0" r="1.18"/><circle cx="561.1" cy="370.2" r="1.18"/><circle cx="591.9" cy="376.6" r="1.18"/><circle cx="558.5" cy="384.8" r="1.18"/><circle cx="604.2" cy="382.8" r="1.18"/><circle cx="574.5" cy="379.8" r="1.18"/><circle cx="588.4" cy="390.3" r="1.18"/><circle cx="592.9" cy="369.7" r="1.18"/><circle cx="592.6" cy="364.6" r="1.18"/><circle cx="557.4" cy="378.8" r="1.18"/><circle cx="560.5" cy="380.6" r="1.18"/><circle cx="565.8" cy="394.0" r="1.18"/><circle cx="573.9" cy="389.5" r="1.18"/><circle cx="601.5" cy="376.8" r="1.18"/><circle cx="592.0" cy="378.2" r="1.18"/><circle cx="572.1" cy="365.3" r="1.18"/><circle cx="586.1" cy="393.3" r="1.18"/><circle cx="587.6" cy="372.1" r="1.18"/><circle cx="578.9" cy="373.5" r="1.18"/><circle cx="571.6" cy="388.0" r="1.18"/><circle cx="550.9" cy="377.9" r="1.18"/><circle cx="578.1" cy="366.1" r="1.18"/><circle cx="590.0" cy="369.9" r="1.18"/><circle cx="572.3" cy="369.7" r="1.18"/><circle cx="582.8" cy="376.1" r="1.18"/><circle cx="587.4" cy="375.9" r="1.18"/><circle cx="592.8" cy="380.3" r="1.18"/><circle cx="556.2" cy="378.2" r="1.18"/><circle cx="564.2" cy="371.4" r="1.18"/><circle cx="601.7" cy="377.8" r="1.18"/><circle cx="590.4" cy="366.5" r="1.18"/><circle cx="584.5" cy="365.1" r="1.18"/><circle cx="562.5" cy="365.5" r="1.18"/><circle cx="602.6" cy="373.9" r="1.18"/><circle cx="586.3" cy="362.6" r="1.18"/><circle cx="591.9" cy="363.4" r="1.18"/><circle cx="563.1" cy="388.3" r="1.18"/><circle cx="591.9" cy="369.2" r="1.18"/><circle cx="577.9" cy="389.0" r="1.18"/><circle cx="583.1" cy="379.4" r="1.18"/><circle cx="560.5" cy="363.4" r="1.18"/><circle cx="560.6" cy="379.4" r="1.18"/><circle cx="582.7" cy="377.1" r="1.18"/><circle cx="584.8" cy="380.7" r="1.18"/><circle cx="585.4" cy="375.4" r="1.18"/><circle cx="596.0" cy="379.6" r="1.18"/><circle cx="595.2" cy="388.0" r="1.18"/><circle cx="587.8" cy="380.3" r="1.18"/><circle cx="563.9" cy="364.6" r="1.18"/><circle cx="586.2" cy="369.7" r="1.18"/><circle cx="583.6" cy="380.2" r="1.18"/><circle cx="583.3" cy="376.0" r="1.18"/><circle cx="563.4" cy="371.6" r="1.18"/><circle cx="588.1" cy="392.0" r="1.18"/><circle cx="567.7" cy="372.0" r="1.18"/><circle cx="574.7" cy="376.0" r="1.18"/><circle cx="584.6" cy="387.5" r="1.18"/><circle cx="592.0" cy="389.3" r="1.18"/><circle cx="589.7" cy="395.0" r="1.18"/><circle cx="574.7" cy="376.6" r="1.18"/><circle cx="585.7" cy="372.0" r="1.18"/><circle cx="595.3" cy="375.6" r="1.18"/><circle cx="580.6" cy="379.2" r="1.18"/><circle cx="570.2" cy="361.4" r="1.18"/><circle cx="565.5" cy="377.7" r="1.18"/><circle cx="593.2" cy="370.8" r="1.18"/><circle cx="554.2" cy="371.4" r="1.18"/><circle cx="601.2" cy="384.6" r="1.18"/><circle cx="595.0" cy="390.2" r="1.18"/><circle cx="560.1" cy="378.7" r="1.18"/><circle cx="555.6" cy="374.3" r="1.18"/><circle cx="577.3" cy="389.6" r="1.18"/><circle cx="566.1" cy="384.3" r="1.18"/><circle cx="558.1" cy="370.0" r="1.18"/><circle cx="553.7" cy="381.3" r="1.18"/><circle cx="582.2" cy="386.0" r="1.18"/><circle cx="573.2" cy="393.8" r="1.18"/><circle cx="589.5" cy="380.9" r="1.18"/><circle cx="597.7" cy="367.3" r="1.18"/><circle cx="566.3" cy="380.3" r="1.18"/><circle cx="582.9" cy="394.4" r="1.18"/><circle cx="587.2" cy="362.6" r="1.18"/><circle cx="601.5" cy="377.4" r="1.18"/><circle cx="561.6" cy="387.7" r="1.18"/><circle cx="584.4" cy="390.9" r="1.18"/><circle cx="580.3" cy="369.9" r="1.18"/><circle cx="575.9" cy="377.3" r="1.18"/><circle cx="569.5" cy="381.3" r="1.18"/><circle cx="558.6" cy="369.9" r="1.18"/><circle cx="578.9" cy="386.8" r="1.18"/><circle cx="572.2" cy="392.6" r="1.18"/><circle cx="583.4" cy="384.0" r="1.18"/><circle cx="566.0" cy="392.5" r="1.18"/><circle cx="569.3" cy="390.6" r="1.18"/><circle cx="563.7" cy="394.3" r="1.18"/><circle cx="587.4" cy="367.2" r="1.18"/><circle cx="590.0" cy="366.4" r="1.18"/><circle cx="571.3" cy="374.2" r="1.18"/><circle cx="568.6" cy="373.7" r="1.18"/><circle cx="559.2" cy="375.0" r="1.18"/><circle cx="555.5" cy="388.8" r="1.18"/><circle cx="569.6" cy="385.9" r="1.18"/><circle cx="573.6" cy="395.1" r="1.18"/><circle cx="598.0" cy="385.7" r="1.18"/><circle cx="595.9" cy="393.0" r="1.18"/><circle cx="600.7" cy="375.5" r="1.18"/><circle cx="582.5" cy="363.4" r="1.18"/><circle cx="570.2" cy="372.5" r="1.18"/><circle cx="584.1" cy="361.3" r="1.18"/><circle cx="591.2" cy="363.6" r="1.18"/><circle cx="573.3" cy="378.0" r="1.18"/><circle cx="596.0" cy="383.1" r="1.18"/><circle cx="558.5" cy="384.3" r="1.18"/><circle cx="563.2" cy="382.6" r="1.18"/><circle cx="572.8" cy="394.5" r="1.18"/><circle cx="574.7" cy="370.5" r="1.18"/><circle cx="567.2" cy="394.5" r="1.18"/><circle cx="569.3" cy="369.5" r="1.18"/><circle cx="579.4" cy="384.5" r="1.18"/><circle cx="568.3" cy="386.3" r="1.18"/><circle cx="577.2" cy="385.2" r="1.18"/><circle cx="586.9" cy="364.2" r="1.18"/><circle cx="553.2" cy="367.2" r="1.18"/><circle cx="566.9" cy="367.4" r="1.18"/><circle cx="566.0" cy="365.0" r="1.18"/><circle cx="551.9" cy="379.4" r="1.18"/><circle cx="591.4" cy="366.6" r="1.18"/><circle cx="555.6" cy="386.5" r="1.18"/><circle cx="554.8" cy="365.9" r="1.18"/><circle cx="577.0" cy="371.4" r="1.18"/><circle cx="592.9" cy="378.7" r="1.18"/><circle cx="578.8" cy="374.1" r="1.18"/><circle cx="571.5" cy="389.9" r="1.18"/><circle cx="556.2" cy="376.1" r="1.18"/><circle cx="579.6" cy="366.4" r="1.18"/><circle cx="579.9" cy="386.6" r="1.18"/><circle cx="583.0" cy="377.7" r="1.18"/><circle cx="559.8" cy="383.5" r="1.18"/><circle cx="574.4" cy="384.8" r="1.18"/><circle cx="552.8" cy="371.3" r="1.18"/><circle cx="556.6" cy="387.7" r="1.18"/><circle cx="576.4" cy="371.0" r="1.18"/><circle cx="592.7" cy="379.2" r="1.18"/><circle cx="566.2" cy="374.7" r="1.18"/><circle cx="597.9" cy="380.0" r="1.18"/><circle cx="601.3" cy="379.9" r="1.18"/><circle cx="587.3" cy="364.7" r="1.18"/><circle cx="574.1" cy="382.4" r="1.18"/><circle cx="572.6" cy="383.8" r="1.18"/><circle cx="569.0" cy="383.9" r="1.18"/><circle cx="561.7" cy="378.1" r="1.18"/><circle cx="573.6" cy="379.4" r="1.18"/><circle cx="553.5" cy="369.5" r="1.18"/><circle cx="589.1" cy="366.8" r="1.18"/><circle cx="576.2" cy="395.8" r="1.18"/><circle cx="583.4" cy="386.7" r="1.18"/><circle cx="592.1" cy="394.9" r="1.18"/><circle cx="571.4" cy="374.8" r="1.18"/><circle cx="591.3" cy="361.9" r="1.18"/><circle cx="575.8" cy="370.5" r="1.18"/><circle cx="580.6" cy="386.6" r="1.18"/><circle cx="597.0" cy="378.7" r="1.18"/><circle cx="587.9" cy="363.8" r="1.18"/><circle cx="586.1" cy="393.5" r="1.18"/><circle cx="583.7" cy="378.2" r="1.18"/><circle cx="578.1" cy="375.4" r="1.18"/><circle cx="560.2" cy="367.9" r="1.18"/><circle cx="593.4" cy="379.1" r="1.18"/><circle cx="552.6" cy="382.5" r="1.18"/><circle cx="595.4" cy="383.8" r="1.18"/><circle cx="560.2" cy="394.3" r="1.18"/><circle cx="560.3" cy="378.8" r="1.18"/><circle cx="575.3" cy="366.8" r="1.18"/><circle cx="564.9" cy="367.5" r="1.18"/><circle cx="585.4" cy="384.3" r="1.18"/><circle cx="564.1" cy="394.3" r="1.18"/><circle cx="573.4" cy="377.0" r="1.18"/><circle cx="600.6" cy="383.7" r="1.18"/><circle cx="575.7" cy="387.1" r="1.18"/><circle cx="590.5" cy="371.8" r="1.18"/><circle cx="554.3" cy="386.6" r="1.18"/><circle cx="590.9" cy="382.0" r="1.18"/><circle cx="556.8" cy="387.1" r="1.18"/><circle cx="560.0" cy="388.9" r="1.18"/><circle cx="584.1" cy="383.3" r="1.18"/><circle cx="554.6" cy="373.8" r="1.18"/><circle cx="590.1" cy="364.9" r="1.18"/><circle cx="552.6" cy="375.5" r="1.18"/><circle cx="596.5" cy="383.0" r="1.18"/><circle cx="562.9" cy="363.9" r="1.18"/><circle cx="595.7" cy="390.5" r="1.18"/><circle cx="588.4" cy="368.2" r="1.18"/><circle cx="559.8" cy="372.2" r="1.18"/><circle cx="559.2" cy="386.7" r="1.18"/><circle cx="591.7" cy="370.4" r="1.18"/><circle cx="554.6" cy="390.9" r="1.18"/><circle cx="581.1" cy="364.0" r="1.18"/><circle cx="590.5" cy="383.7" r="1.18"/><circle cx="595.4" cy="387.6" r="1.18"/><circle cx="577.6" cy="395.2" r="1.18"/><circle cx="575.4" cy="376.6" r="1.18"/><circle cx="584.9" cy="388.6" r="1.18"/><circle cx="582.2" cy="393.9" r="1.18"/><circle cx="565.2" cy="392.4" r="1.18"/><circle cx="597.9" cy="373.1" r="1.18"/><circle cx="552.0" cy="382.0" r="1.18"/><circle cx="584.0" cy="394.6" r="1.18"/><circle cx="580.6" cy="386.3" r="1.18"/><circle cx="591.5" cy="366.9" r="1.18"/><circle cx="586.5" cy="376.3" r="1.18"/><circle cx="562.2" cy="370.6" r="1.18"/><circle cx="570.1" cy="386.7" r="1.18"/><circle cx="580.3" cy="372.2" r="1.18"/><circle cx="553.5" cy="388.6" r="1.18"/><circle cx="591.2" cy="390.3" r="1.18"/><circle cx="593.0" cy="363.2" r="1.18"/><circle cx="565.7" cy="377.2" r="1.18"/><circle cx="566.5" cy="389.8" r="1.18"/><circle cx="574.9" cy="362.8" r="1.18"/><circle cx="552.0" cy="382.2" r="1.18"/><circle cx="583.1" cy="380.0" r="1.18"/><circle cx="554.3" cy="380.6" r="1.18"/><circle cx="578.7" cy="371.7" r="1.18"/><circle cx="562.5" cy="366.5" r="1.18"/><circle cx="576.6" cy="373.8" r="1.18"/><circle cx="582.1" cy="384.6" r="1.18"/><circle cx="565.4" cy="382.3" r="1.18"/><circle cx="564.5" cy="387.1" r="1.18"/><circle cx="561.5" cy="381.8" r="1.18"/><circle cx="590.3" cy="389.0" r="1.18"/><circle cx="579.2" cy="392.9" r="1.18"/><circle cx="569.9" cy="370.3" r="1.18"/><circle cx="584.3" cy="365.5" r="1.18"/><circle cx="560.1" cy="364.3" r="1.18"/><circle cx="585.6" cy="374.6" r="1.18"/><circle cx="600.3" cy="389.2" r="1.18"/><circle cx="579.2" cy="372.9" r="1.18"/><circle cx="567.8" cy="362.8" r="1.18"/><circle cx="556.5" cy="391.5" r="1.18"/><circle cx="603.4" cy="374.3" r="1.18"/><circle cx="592.3" cy="376.9" r="1.18"/><circle cx="576.1" cy="383.7" r="1.18"/><circle cx="568.8" cy="384.7" r="1.18"/><circle cx="555.2" cy="388.6" r="1.18"/><circle cx="579.2" cy="364.2" r="1.18"/><circle cx="592.5" cy="378.7" r="1.18"/><circle cx="592.8" cy="383.2" r="1.18"/><circle cx="581.1" cy="367.0" r="1.18"/><circle cx="558.2" cy="363.9" r="1.18"/><circle cx="573.8" cy="371.1" r="1.18"/><circle cx="591.5" cy="365.2" r="1.18"/><circle cx="562.4" cy="381.8" r="1.18"/><circle cx="582.1" cy="375.0" r="1.18"/><circle cx="569.4" cy="365.9" r="1.18"/><circle cx="588.1" cy="374.0" r="1.18"/><circle cx="582.9" cy="389.7" r="1.18"/><circle cx="554.6" cy="375.8" r="1.18"/><circle cx="569.6" cy="393.6" r="1.18"/><circle cx="584.0" cy="367.9" r="1.18"/><circle cx="575.3" cy="361.5" r="1.18"/><circle cx="578.3" cy="363.4" r="1.18"/><circle cx="558.0" cy="378.8" r="1.18"/><circle cx="579.6" cy="368.4" r="1.18"/><circle cx="582.0" cy="371.9" r="1.18"/><circle cx="588.4" cy="362.8" r="1.18"/><circle cx="595.9" cy="376.7" r="1.18"/><circle cx="559.8" cy="371.2" r="1.18"/><circle cx="584.4" cy="364.3" r="1.18"/><circle cx="599.8" cy="368.7" r="1.18"/><circle cx="572.7" cy="363.5" r="1.18"/><circle cx="575.1" cy="394.7" r="1.18"/><circle cx="560.6" cy="367.2" r="1.18"/><circle cx="580.0" cy="383.4" r="1.18"/><circle cx="558.2" cy="368.7" r="1.18"/><circle cx="583.1" cy="369.4" r="1.18"/><circle cx="552.0" cy="385.3" r="1.18"/><circle cx="597.4" cy="389.2" r="1.18"/><circle cx="596.7" cy="368.4" r="1.18"/><circle cx="567.2" cy="382.0" r="1.18"/><circle cx="583.8" cy="382.9" r="1.18"/><circle cx="580.4" cy="369.2" r="1.18"/><circle cx="563.4" cy="364.0" r="1.18"/><circle cx="553.6" cy="381.3" r="1.18"/><circle cx="555.2" cy="391.7" r="1.18"/><circle cx="602.7" cy="382.8" r="1.18"/><circle cx="550.8" cy="374.4" r="1.18"/><circle cx="570.0" cy="371.8" r="1.18"/><circle cx="554.1" cy="369.5" r="1.18"/><circle cx="551.4" cy="376.7" r="1.18"/><circle cx="576.5" cy="369.1" r="1.18"/><circle cx="577.5" cy="389.1" r="1.18"/><circle cx="569.6" cy="387.3" r="1.18"/><circle cx="592.5" cy="373.3" r="1.18"/><circle cx="590.5" cy="373.3" r="1.18"/><circle cx="559.9" cy="375.7" r="1.18"/><circle cx="556.6" cy="386.1" r="1.18"/><circle cx="564.1" cy="378.4" r="1.18"/><circle cx="594.2" cy="381.9" r="1.18"/><circle cx="599.6" cy="386.4" r="1.18"/><circle cx="587.9" cy="386.9" r="1.18"/><circle cx="587.8" cy="393.2" r="1.18"/><circle cx="582.6" cy="384.1" r="1.18"/><circle cx="580.2" cy="379.7" r="1.18"/><circle cx="601.3" cy="371.5" r="1.18"/><circle cx="560.8" cy="378.5" r="1.18"/><circle cx="567.3" cy="386.0" r="1.18"/><circle cx="561.8" cy="382.7" r="1.18"/><circle cx="571.9" cy="384.8" r="1.18"/><circle cx="575.9" cy="364.9" r="1.18"/><circle cx="587.7" cy="395.1" r="1.18"/><circle cx="555.5" cy="382.6" r="1.18"/><circle cx="583.6" cy="382.4" r="1.18"/><circle cx="577.8" cy="378.7" r="1.18"/><circle cx="574.0" cy="389.5" r="1.18"/><circle cx="586.5" cy="389.2" r="1.18"/><circle cx="562.0" cy="369.1" r="1.18"/><circle cx="594.7" cy="393.3" r="1.18"/><circle cx="562.7" cy="378.0" r="1.18"/><circle cx="598.5" cy="386.3" r="1.18"/><circle cx="582.2" cy="392.3" r="1.18"/><circle cx="602.7" cy="371.2" r="1.18"/><circle cx="583.7" cy="387.4" r="1.18"/><circle cx="566.4" cy="371.7" r="1.18"/><circle cx="599.4" cy="388.7" r="1.18"/><circle cx="584.3" cy="386.9" r="1.18"/><circle cx="593.2" cy="382.9" r="1.18"/><circle cx="564.8" cy="366.6" r="1.18"/><circle cx="560.3" cy="370.7" r="1.18"/><circle cx="577.0" cy="372.4" r="1.18"/><circle cx="581.8" cy="385.2" r="1.18"/><circle cx="558.2" cy="377.4" r="1.18"/><circle cx="594.2" cy="373.4" r="1.18"/><circle cx="575.5" cy="385.1" r="1.18"/><circle cx="585.5" cy="383.1" r="1.18"/><circle cx="567.4" cy="376.8" r="1.18"/><circle cx="556.5" cy="380.6" r="1.18"/><circle cx="560.9" cy="376.0" r="1.18"/><circle cx="586.1" cy="378.7" r="1.18"/><circle cx="580.7" cy="365.3" r="1.18"/><circle cx="561.4" cy="379.2" r="1.18"/><circle cx="583.4" cy="366.4" r="1.18"/><circle cx="556.8" cy="372.2" r="1.18"/><circle cx="570.4" cy="372.7" r="1.18"/><circle cx="580.1" cy="388.8" r="1.18"/><circle cx="579.6" cy="387.9" r="1.18"/><circle cx="558.3" cy="380.0" r="1.18"/><circle cx="568.3" cy="386.0" r="1.18"/><circle cx="578.1" cy="380.0" r="1.18"/><circle cx="558.8" cy="375.4" r="1.18"/><circle cx="556.6" cy="378.6" r="1.18"/><circle cx="562.4" cy="382.2" r="1.18"/><circle cx="564.3" cy="377.5" r="1.18"/><circle cx="555.4" cy="384.1" r="1.18"/><circle cx="583.1" cy="367.1" r="1.18"/><circle cx="579.1" cy="367.3" r="1.18"/><circle cx="575.3" cy="366.4" r="1.18"/><circle cx="564.8" cy="375.7" r="1.18"/><circle cx="575.9" cy="381.0" r="1.18"/><circle cx="591.9" cy="372.7" r="1.18"/><circle cx="567.7" cy="369.4" r="1.18"/><circle cx="584.0" cy="373.5" r="1.18"/><circle cx="561.9" cy="369.0" r="1.18"/><circle cx="570.7" cy="385.7" r="1.18"/><circle cx="571.4" cy="385.2" r="1.18"/><circle cx="572.8" cy="379.1" r="1.18"/><circle cx="563.7" cy="374.6" r="1.18"/><circle cx="583.4" cy="366.2" r="1.18"/><circle cx="572.1" cy="370.6" r="1.18"/><circle cx="565.2" cy="372.8" r="1.18"/><circle cx="561.3" cy="379.0" r="1.18"/><circle cx="564.1" cy="368.7" r="1.18"/><circle cx="588.0" cy="381.8" r="1.18"/><circle cx="590.3" cy="367.5" r="1.18"/><circle cx="560.9" cy="372.1" r="1.18"/><circle cx="574.4" cy="385.7" r="1.18"/><circle cx="588.1" cy="386.4" r="1.18"/><circle cx="567.1" cy="375.1" r="1.18"/><circle cx="558.4" cy="386.7" r="1.18"/><circle cx="561.8" cy="372.3" r="1.18"/><circle cx="560.3" cy="386.1" r="1.18"/><circle cx="557.7" cy="375.4" r="1.18"/><circle cx="562.3" cy="370.4" r="1.18"/><circle cx="583.9" cy="373.2" r="1.18"/><circle cx="579.7" cy="369.9" r="1.18"/><circle cx="555.0" cy="378.2" r="1.18"/><circle cx="573.4" cy="386.4" r="1.18"/><circle cx="578.7" cy="365.0" r="1.18"/><circle cx="586.4" cy="383.3" r="1.18"/><circle cx="580.8" cy="364.6" r="1.18"/><circle cx="592.3" cy="371.7" r="1.18"/><circle cx="585.4" cy="378.0" r="1.18"/><circle cx="573.5" cy="377.7" r="1.18"/><circle cx="569.6" cy="386.2" r="1.18"/><circle cx="560.4" cy="373.1" r="1.18"/><circle cx="566.5" cy="365.2" r="1.18"/><circle cx="573.1" cy="365.6" r="1.18"/><circle cx="564.0" cy="384.1" r="1.18"/><circle cx="565.3" cy="366.5" r="1.18"/><circle cx="570.9" cy="379.0" r="1.18"/><circle cx="558.3" cy="373.8" r="1.18"/><circle cx="576.4" cy="383.4" r="1.18"/><circle cx="570.1" cy="389.8" r="1.18"/><circle cx="563.7" cy="383.5" r="1.18"/><circle cx="575.9" cy="368.5" r="1.18"/><circle cx="587.2" cy="387.0" r="1.18"/><circle cx="558.5" cy="386.9" r="1.18"/><circle cx="593.3" cy="373.2" r="1.18"/><circle cx="586.2" cy="382.7" r="1.18"/><circle cx="576.8" cy="374.1" r="1.18"/><circle cx="566.1" cy="385.2" r="1.18"/><circle cx="585.9" cy="388.6" r="1.18"/><circle cx="555.9" cy="378.8" r="1.18"/><circle cx="582.6" cy="369.7" r="1.18"/><circle cx="585.8" cy="382.5" r="1.18"/><circle cx="567.0" cy="375.4" r="1.18"/><circle cx="587.1" cy="366.4" r="1.18"/><circle cx="583.4" cy="382.4" r="1.18"/><circle cx="572.4" cy="388.8" r="1.18"/><circle cx="579.5" cy="387.0" r="1.18"/><circle cx="561.2" cy="374.6" r="1.18"/><circle cx="565.3" cy="377.0" r="1.18"/><circle cx="584.0" cy="366.4" r="1.18"/><circle cx="570.1" cy="376.7" r="1.18"/><circle cx="568.7" cy="370.3" r="1.18"/><circle cx="556.4" cy="378.0" r="1.18"/><circle cx="567.1" cy="388.7" r="1.18"/><circle cx="579.6" cy="375.2" r="1.18"/><circle cx="581.9" cy="379.9" r="1.18"/><circle cx="573.8" cy="377.2" r="1.18"/><circle cx="570.2" cy="387.6" r="1.18"/><circle cx="555.3" cy="370.0" r="1.18"/><circle cx="586.3" cy="372.2" r="1.18"/><circle cx="566.9" cy="375.2" r="1.18"/><circle cx="565.4" cy="383.7" r="1.18"/><circle cx="557.0" cy="378.4" r="1.18"/><circle cx="583.0" cy="372.9" r="1.18"/><circle cx="583.6" cy="373.2" r="1.18"/><circle cx="579.2" cy="366.7" r="1.18"/><circle cx="566.3" cy="378.6" r="1.18"/><circle cx="578.7" cy="376.1" r="1.18"/><circle cx="554.6" cy="378.0" r="1.18"/><circle cx="589.3" cy="371.1" r="1.18"/><circle cx="561.7" cy="380.1" r="1.18"/><circle cx="562.7" cy="366.7" r="1.18"/><circle cx="556.1" cy="380.2" r="1.18"/><circle cx="590.0" cy="384.1" r="1.18"/><circle cx="577.8" cy="386.7" r="1.18"/><circle cx="588.6" cy="371.0" r="1.18"/><circle cx="569.0" cy="389.3" r="1.18"/><circle cx="592.6" cy="380.7" r="1.18"/><circle cx="579.5" cy="372.9" r="1.18"/><circle cx="556.8" cy="372.6" r="1.18"/><circle cx="562.7" cy="380.4" r="1.18"/><circle cx="580.5" cy="380.4" r="1.18"/><circle cx="561.6" cy="366.6" r="1.18"/><circle cx="568.5" cy="387.8" r="1.18"/><circle cx="572.6" cy="384.8" r="1.18"/><circle cx="560.7" cy="373.2" r="1.18"/><circle cx="586.5" cy="371.6" r="1.18"/><circle cx="583.7" cy="379.6" r="1.18"/><circle cx="580.5" cy="364.8" r="1.18"/><circle cx="568.1" cy="389.6" r="1.18"/><circle cx="568.8" cy="371.2" r="1.18"/><circle cx="582.2" cy="376.6" r="1.18"/><circle cx="579.2" cy="374.1" r="1.18"/><circle cx="564.5" cy="371.6" r="1.18"/><circle cx="562.5" cy="382.1" r="1.18"/><circle cx="574.3" cy="389.7" r="1.18"/><circle cx="585.8" cy="381.4" r="1.18"/><circle cx="584.1" cy="369.4" r="1.18"/><circle cx="574.4" cy="364.5" r="1.18"/><circle cx="574.8" cy="364.8" r="1.18"/><circle cx="567.5" cy="376.4" r="1.18"/><circle cx="562.2" cy="366.0" r="1.18"/><circle cx="558.7" cy="369.2" r="1.18"/><circle cx="559.2" cy="380.9" r="1.18"/><circle cx="588.5" cy="372.3" r="1.18"/><circle cx="583.8" cy="388.4" r="1.18"/><circle cx="585.0" cy="384.5" r="1.18"/><circle cx="582.5" cy="375.0" r="1.18"/><circle cx="577.1" cy="388.2" r="1.18"/><circle cx="577.0" cy="364.7" r="1.18"/><circle cx="571.8" cy="386.6" r="1.18"/><circle cx="582.8" cy="376.5" r="1.18"/><circle cx="592.2" cy="383.7" r="1.18"/><circle cx="562.4" cy="382.2" r="1.18"/><circle cx="592.4" cy="375.2" r="1.18"/><circle cx="566.4" cy="371.9" r="1.18"/><circle cx="562.1" cy="381.1" r="1.18"/><circle cx="586.4" cy="380.9" r="1.18"/><circle cx="565.0" cy="374.4" r="1.18"/><circle cx="586.3" cy="383.2" r="1.18"/><circle cx="575.3" cy="383.2" r="1.18"/><circle cx="587.4" cy="377.5" r="1.18"/><circle cx="581.5" cy="386.2" r="1.18"/><circle cx="587.9" cy="368.1" r="1.18"/><circle cx="554.3" cy="382.4" r="1.18"/><circle cx="587.3" cy="368.9" r="1.18"/><circle cx="588.7" cy="383.7" r="1.18"/><circle cx="559.9" cy="368.0" r="1.18"/><circle cx="580.6" cy="380.2" r="1.18"/><circle cx="559.7" cy="387.6" r="1.18"/><circle cx="562.1" cy="385.7" r="1.18"/><circle cx="582.4" cy="378.3" r="1.18"/><circle cx="591.4" cy="375.5" r="1.18"/><circle cx="570.3" cy="370.1" r="1.18"/><circle cx="588.6" cy="372.3" r="1.18"/><circle cx="583.4" cy="388.7" r="1.18"/><circle cx="566.5" cy="379.4" r="1.18"/><circle cx="570.4" cy="365.7" r="1.18"/><circle cx="588.2" cy="376.8" r="1.18"/><circle cx="559.8" cy="370.0" r="1.18"/><circle cx="553.9" cy="373.8" r="1.18"/><circle cx="569.2" cy="386.0" r="1.18"/><circle cx="589.1" cy="370.2" r="1.18"/><circle cx="584.2" cy="373.3" r="1.18"/><circle cx="585.2" cy="381.1" r="1.18"/><circle cx="555.9" cy="376.2" r="1.18"/><circle cx="570.8" cy="375.9" r="1.18"/><circle cx="576.3" cy="382.0" r="1.18"/><circle cx="569.9" cy="377.5" r="1.18"/><circle cx="587.7" cy="381.7" r="1.18"/><circle cx="561.1" cy="367.6" r="1.18"/><circle cx="564.4" cy="388.7" r="1.18"/><circle cx="569.3" cy="386.9" r="1.18"/><circle cx="593.5" cy="382.2" r="1.18"/><circle cx="568.5" cy="383.4" r="1.18"/><circle cx="574.1" cy="388.8" r="1.18"/><circle cx="574.1" cy="380.5" r="1.18"/><circle cx="581.8" cy="380.4" r="1.18"/><circle cx="560.5" cy="378.8" r="1.18"/><circle cx="571.0" cy="381.7" r="1.18"/><circle cx="585.5" cy="369.4" r="1.18"/><circle cx="568.5" cy="370.7" r="1.18"/><circle cx="593.4" cy="376.8" r="1.18"/><circle cx="571.9" cy="389.1" r="1.18"/><circle cx="585.9" cy="386.3" r="1.18"/><circle cx="574.1" cy="367.3" r="1.18"/><circle cx="568.6" cy="366.2" r="1.18"/><circle cx="569.8" cy="375.7" r="1.18"/><circle cx="573.1" cy="389.4" r="1.18"/><circle cx="575.4" cy="368.3" r="1.18"/><circle cx="560.5" cy="381.7" r="1.18"/><circle cx="574.7" cy="374.7" r="1.18"/><circle cx="573.7" cy="374.7" r="1.18"/><circle cx="581.5" cy="379.4" r="1.18"/><circle cx="555.0" cy="376.9" r="1.18"/><circle cx="563.5" cy="379.1" r="1.18"/><circle cx="572.4" cy="383.8" r="1.18"/><circle cx="593.5" cy="383.3" r="1.18"/><circle cx="578.9" cy="377.2" r="1.18"/><circle cx="557.8" cy="383.0" r="1.18"/><circle cx="561.3" cy="373.9" r="1.18"/><circle cx="577.5" cy="370.9" r="1.18"/><circle cx="589.3" cy="378.2" r="1.18"/><circle cx="572.5" cy="372.4" r="1.18"/><circle cx="577.1" cy="380.9" r="1.18"/><circle cx="577.8" cy="388.4" r="1.18"/><circle cx="571.5" cy="373.6" r="1.18"/><circle cx="584.5" cy="378.4" r="1.18"/><circle cx="564.3" cy="388.0" r="1.18"/><circle cx="562.5" cy="365.9" r="1.18"/><circle cx="575.6" cy="387.7" r="1.18"/><circle cx="588.9" cy="385.2" r="1.18"/><circle cx="578.6" cy="377.3" r="1.18"/><circle cx="565.2" cy="368.3" r="1.18"/><circle cx="571.6" cy="385.7" r="1.18"/><circle cx="576.3" cy="389.5" r="1.18"/><circle cx="586.6" cy="378.1" r="1.18"/><circle cx="577.8" cy="374.9" r="1.18"/><circle cx="591.1" cy="385.7" r="1.18"/><circle cx="560.5" cy="387.4" r="1.18"/><circle cx="581.4" cy="373.4" r="1.18"/><circle cx="584.3" cy="375.0" r="1.18"/><circle cx="582.1" cy="377.1" r="1.18"/><circle cx="579.5" cy="387.9" r="1.18"/><circle cx="590.4" cy="376.5" r="1.18"/><circle cx="569.3" cy="382.6" r="1.18"/><circle cx="581.0" cy="366.5" r="1.18"/><circle cx="574.4" cy="371.3" r="1.18"/><circle cx="580.2" cy="368.3" r="1.18"/><circle cx="565.5" cy="370.6" r="1.18"/><circle cx="564.8" cy="378.7" r="1.18"/><circle cx="589.3" cy="380.7" r="1.18"/><circle cx="580.2" cy="383.8" r="1.18"/><circle cx="569.4" cy="375.1" r="1.18"/><circle cx="580.4" cy="369.4" r="1.18"/><circle cx="584.6" cy="387.9" r="1.18"/><circle cx="591.5" cy="369.8" r="1.18"/><circle cx="558.5" cy="380.0" r="1.18"/><circle cx="567.6" cy="368.7" r="1.18"/><circle cx="578.5" cy="377.9" r="1.18"/><circle cx="575.5" cy="377.3" r="1.18"/><circle cx="578.9" cy="384.2" r="1.18"/><circle cx="583.3" cy="382.4" r="1.18"/><circle cx="587.8" cy="376.2" r="1.18"/><circle cx="579.9" cy="366.9" r="1.18"/><circle cx="556.4" cy="375.8" r="1.18"/><circle cx="581.6" cy="370.1" r="1.18"/><circle cx="593.3" cy="371.5" r="1.18"/><circle cx="573.6" cy="376.2" r="1.18"/><circle cx="563.6" cy="380.5" r="1.18"/><circle cx="568.2" cy="372.9" r="1.18"/><circle cx="571.6" cy="379.0" r="1.18"/><circle cx="563.3" cy="388.3" r="1.18"/><circle cx="557.4" cy="382.1" r="1.18"/><circle cx="555.8" cy="377.8" r="1.18"/><circle cx="566.7" cy="388.7" r="1.18"/><circle cx="571.4" cy="385.8" r="1.18"/><circle cx="594.4" cy="373.6" r="1.18"/><circle cx="554.6" cy="370.7" r="1.18"/><circle cx="568.2" cy="377.7" r="1.18"/><circle cx="569.0" cy="371.9" r="1.18"/><circle cx="572.9" cy="376.2" r="1.18"/><circle cx="560.7" cy="377.5" r="1.18"/><circle cx="577.2" cy="378.9" r="1.18"/><circle cx="584.1" cy="375.8" r="1.18"/><circle cx="561.9" cy="388.5" r="1.18"/><circle cx="557.9" cy="371.9" r="1.18"/><circle cx="570.5" cy="374.7" r="1.18"/><circle cx="561.9" cy="386.4" r="1.18"/><circle cx="565.7" cy="378.2" r="1.18"/><circle cx="578.6" cy="367.4" r="1.18"/><circle cx="571.1" cy="367.5" r="1.18"/><circle cx="575.8" cy="383.0" r="1.18"/><circle cx="557.8" cy="375.9" r="1.18"/><circle cx="581.0" cy="373.7" r="1.18"/><circle cx="592.7" cy="376.9" r="1.18"/><circle cx="569.3" cy="382.1" r="1.18"/><circle cx="588.2" cy="376.9" r="1.18"/><circle cx="589.1" cy="383.8" r="1.18"/><circle cx="570.4" cy="382.4" r="1.18"/><circle cx="574.7" cy="366.9" r="1.18"/><circle cx="590.8" cy="386.0" r="1.18"/><circle cx="590.5" cy="370.1" r="1.18"/><circle cx="574.0" cy="371.9" r="1.18"/><circle cx="574.2" cy="374.0" r="1.18"/><circle cx="576.1" cy="375.3" r="1.18"/><circle cx="584.9" cy="381.1" r="1.18"/><circle cx="564.7" cy="369.2" r="1.18"/><circle cx="563.0" cy="372.5" r="1.18"/><circle cx="570.8" cy="377.1" r="1.18"/><circle cx="564.0" cy="371.7" r="1.18"/><circle cx="574.8" cy="364.2" r="1.18"/><circle cx="579.7" cy="365.0" r="1.18"/><circle cx="577.9" cy="379.3" r="1.18"/><circle cx="569.1" cy="389.8" r="1.18"/><circle cx="557.5" cy="370.2" r="1.18"/><circle cx="584.0" cy="383.2" r="1.18"/><circle cx="567.9" cy="387.0" r="1.18"/><circle cx="559.8" cy="369.9" r="1.18"/><circle cx="577.0" cy="377.9" r="1.18"/><circle cx="586.2" cy="372.0" r="1.18"/><circle cx="590.9" cy="380.4" r="1.18"/><circle cx="582.0" cy="378.9" r="1.18"/><circle cx="561.9" cy="378.6" r="1.18"/><circle cx="566.9" cy="372.0" r="1.18"/><circle cx="563.7" cy="384.1" r="1.18"/><circle cx="580.2" cy="367.5" r="1.18"/><circle cx="582.6" cy="386.8" r="1.18"/><circle cx="578.3" cy="386.9" r="1.18"/><circle cx="576.1" cy="377.2" r="1.18"/><circle cx="570.1" cy="378.7" r="1.18"/><circle cx="591.3" cy="379.5" r="1.18"/><circle cx="584.3" cy="376.1" r="1.18"/><circle cx="590.1" cy="384.0" r="1.18"/><circle cx="574.4" cy="371.8" r="1.18"/><circle cx="565.6" cy="389.5" r="1.18"/><circle cx="579.9" cy="365.8" r="1.18"/><circle cx="574.9" cy="375.1" r="1.18"/><circle cx="578.1" cy="371.4" r="1.18"/><circle cx="591.0" cy="376.5" r="1.18"/><circle cx="587.8" cy="370.8" r="1.18"/><circle cx="590.3" cy="378.2" r="1.18"/><circle cx="575.9" cy="375.3" r="1.18"/><circle cx="592.6" cy="378.6" r="1.18"/><circle cx="575.5" cy="373.4" r="1.18"/><circle cx="572.2" cy="371.0" r="1.18"/><circle cx="571.7" cy="370.9" r="1.18"/><circle cx="556.2" cy="373.5" r="1.18"/><circle cx="554.1" cy="381.3" r="1.18"/><circle cx="566.3" cy="371.1" r="1.18"/><circle cx="576.1" cy="371.6" r="1.18"/><circle cx="583.4" cy="371.9" r="1.18"/><circle cx="581.9" cy="370.8" r="1.18"/><circle cx="580.0" cy="373.4" r="1.18"/><circle cx="574.3" cy="371.1" r="1.18"/><circle cx="575.7" cy="380.9" r="1.18"/><circle cx="588.5" cy="370.7" r="1.18"/><circle cx="576.9" cy="378.7" r="1.18"/><circle cx="589.7" cy="376.5" r="1.18"/><circle cx="570.1" cy="374.6" r="1.18"/><circle cx="593.7" cy="379.1" r="1.18"/><circle cx="575.3" cy="384.2" r="1.18"/><circle cx="578.4" cy="377.5" r="1.18"/><circle cx="580.6" cy="370.8" r="1.18"/><circle cx="568.9" cy="364.2" r="1.18"/><circle cx="583.3" cy="385.4" r="1.18"/><circle cx="584.7" cy="366.8" r="1.18"/><circle cx="566.5" cy="388.0" r="1.18"/><circle cx="586.5" cy="367.8" r="1.18"/><circle cx="561.8" cy="383.0" r="1.18"/><circle cx="580.4" cy="364.8" r="1.18"/><circle cx="575.2" cy="368.9" r="1.18"/><circle cx="589.1" cy="377.9" r="1.18"/><circle cx="553.6" cy="374.3" r="1.18"/><circle cx="590.3" cy="382.7" r="1.18"/><circle cx="564.1" cy="380.9" r="1.18"/><circle cx="585.1" cy="378.5" r="1.18"/><circle cx="557.9" cy="370.4" r="1.18"/><circle cx="583.7" cy="367.2" r="1.18"/><circle cx="568.8" cy="388.2" r="1.18"/><circle cx="570.2" cy="368.0" r="1.18"/><circle cx="580.3" cy="373.1" r="1.18"/><circle cx="586.2" cy="373.5" r="1.18"/><circle cx="587.8" cy="385.5" r="1.18"/><circle cx="560.5" cy="378.2" r="1.18"/><circle cx="571.7" cy="367.2" r="1.18"/><circle cx="591.3" cy="372.9" r="1.18"/><circle cx="578.7" cy="365.6" r="1.18"/><circle cx="581.7" cy="367.4" r="1.18"/><circle cx="580.8" cy="376.2" r="1.18"/><circle cx="572.9" cy="369.7" r="1.18"/><circle cx="559.4" cy="386.0" r="1.18"/><circle cx="578.4" cy="383.4" r="1.18"/><circle cx="584.0" cy="374.4" r="1.18"/><circle cx="576.1" cy="371.9" r="1.18"/><circle cx="580.5" cy="375.2" r="1.18"/><circle cx="585.9" cy="371.6" r="1.18"/><circle cx="569.0" cy="366.1" r="1.18"/><circle cx="553.7" cy="375.0" r="1.18"/><circle cx="568.9" cy="386.9" r="1.18"/><circle cx="557.0" cy="385.6" r="1.18"/><circle cx="568.0" cy="370.4" r="1.18"/><circle cx="578.6" cy="373.3" r="1.18"/><circle cx="581.5" cy="382.7" r="1.18"/><circle cx="585.3" cy="372.9" r="1.18"/><circle cx="574.7" cy="371.2" r="1.18"/><circle cx="570.3" cy="387.8" r="1.18"/><circle cx="563.6" cy="375.0" r="1.18"/><circle cx="591.2" cy="375.7" r="1.18"/><circle cx="587.1" cy="377.9" r="1.18"/><circle cx="567.7" cy="382.7" r="1.18"/><circle cx="580.4" cy="373.9" r="1.18"/><circle cx="588.7" cy="382.7" r="1.18"/><circle cx="582.8" cy="376.3" r="1.18"/><circle cx="584.5" cy="365.1" r="1.18"/><circle cx="581.2" cy="386.5" r="1.18"/><circle cx="570.1" cy="383.3" r="1.18"/><circle cx="582.2" cy="377.0" r="1.18"/><circle cx="585.3" cy="376.6" r="1.18"/><circle cx="558.1" cy="377.6" r="1.18"/><circle cx="584.6" cy="368.3" r="1.18"/><circle cx="572.4" cy="385.7" r="1.18"/><circle cx="567.7" cy="373.4" r="1.18"/><circle cx="582.3" cy="378.9" r="1.18"/><circle cx="565.1" cy="368.0" r="1.18"/><circle cx="570.7" cy="387.1" r="1.18"/><circle cx="582.2" cy="381.9" r="1.18"/><circle cx="559.1" cy="385.9" r="1.18"/><circle cx="553.8" cy="377.6" r="1.18"/><circle cx="569.9" cy="387.9" r="1.18"/><circle cx="579.2" cy="369.9" r="1.18"/><circle cx="555.7" cy="376.3" r="1.18"/><circle cx="576.2" cy="376.1" r="1.18"/><circle cx="577.4" cy="365.6" r="1.18"/><circle cx="568.1" cy="385.6" r="1.18"/><circle cx="565.1" cy="368.9" r="1.18"/><circle cx="589.5" cy="374.5" r="1.18"/><circle cx="566.8" cy="373.6" r="1.18"/><circle cx="581.6" cy="367.0" r="1.18"/><circle cx="584.0" cy="373.3" r="1.18"/><circle cx="554.5" cy="381.1" r="1.18"/><circle cx="563.7" cy="387.1" r="1.18"/><circle cx="560.6" cy="381.4" r="1.18"/><circle cx="571.3" cy="365.2" r="1.18"/><circle cx="564.8" cy="372.0" r="1.18"/><circle cx="585.5" cy="384.1" r="1.18"/><circle cx="561.9" cy="373.7" r="1.18"/><circle cx="566.5" cy="369.4" r="1.18"/><circle cx="575.6" cy="367.5" r="1.18"/><circle cx="566.2" cy="371.6" r="1.18"/><circle cx="572.4" cy="388.4" r="1.18"/><circle cx="583.9" cy="375.2" r="1.18"/><circle cx="560.9" cy="380.5" r="1.18"/><circle cx="585.3" cy="382.8" r="1.18"/><circle cx="574.3" cy="382.8" r="1.18"/><circle cx="567.0" cy="388.7" r="1.18"/><circle cx="584.1" cy="384.8" r="1.18"/><circle cx="575.7" cy="387.9" r="1.18"/><circle cx="572.7" cy="388.7" r="1.18"/><circle cx="571.6" cy="388.7" r="1.18"/><circle cx="566.3" cy="377.4" r="1.18"/><circle cx="576.5" cy="378.3" r="1.18"/><circle cx="588.4" cy="386.0" r="1.18"/><circle cx="560.6" cy="382.4" r="1.18"/><circle cx="575.1" cy="374.5" r="1.18"/><circle cx="577.0" cy="366.2" r="1.18"/><circle cx="566.5" cy="372.6" r="1.18"/><circle cx="556.6" cy="373.8" r="1.18"/><circle cx="568.4" cy="374.7" r="1.18"/><circle cx="593.0" cy="378.4" r="1.18"/><circle cx="562.8" cy="375.7" r="1.18"/><circle cx="568.2" cy="376.6" r="1.18"/><circle cx="560.4" cy="383.4" r="1.18"/><circle cx="592.2" cy="380.3" r="1.18"/><circle cx="575.6" cy="377.6" r="1.18"/><circle cx="582.0" cy="373.6" r="1.18"/><circle cx="556.2" cy="375.8" r="1.18"/><circle cx="587.3" cy="381.5" r="1.18"/><circle cx="555.0" cy="377.5" r="1.18"/><circle cx="560.5" cy="371.8" r="1.18"/><circle cx="562.7" cy="380.0" r="1.18"/><circle cx="582.9" cy="387.0" r="1.18"/><circle cx="574.2" cy="365.6" r="1.18"/><circle cx="558.4" cy="368.6" r="1.18"/><circle cx="565.4" cy="367.9" r="1.18"/><circle cx="588.7" cy="373.3" r="1.18"/><circle cx="573.1" cy="384.4" r="1.18"/><circle cx="560.6" cy="377.0" r="1.18"/><circle cx="554.7" cy="376.6" r="1.18"/><circle cx="592.0" cy="378.7" r="1.18"/><circle cx="565.7" cy="380.5" r="1.18"/><circle cx="574.1" cy="376.9" r="1.18"/><circle cx="579.7" cy="382.5" r="1.18"/><circle cx="591.8" cy="393.4" r="1.18"/><circle cx="557.6" cy="364.5" r="1.18"/><circle cx="603.0" cy="375.9" r="1.18"/><circle cx="553.4" cy="368.1" r="1.18"/><circle cx="608.5" cy="364.1" r="1.18"/><circle cx="601.9" cy="367.8" r="1.18"/><circle cx="599.6" cy="373.3" r="1.18"/><circle cx="583.4" cy="387.8" r="1.18"/><circle cx="594.2" cy="365.0" r="1.18"/><circle cx="591.0" cy="363.0" r="1.18"/><circle cx="561.1" cy="392.4" r="1.18"/><circle cx="554.7" cy="374.9" r="1.18"/><circle cx="552.0" cy="383.0" r="1.18"/><circle cx="556.3" cy="372.3" r="1.18"/><circle cx="612.5" cy="376.4" r="1.18"/><circle cx="579.1" cy="356.5" r="1.18"/><circle cx="562.4" cy="360.1" r="1.18"/><circle cx="587.4" cy="362.4" r="1.18"/><circle cx="556.4" cy="361.9" r="1.18"/><circle cx="595.8" cy="386.3" r="1.18"/><circle cx="564.4" cy="370.1" r="1.18"/><circle cx="563.3" cy="381.3" r="1.18"/><circle cx="583.9" cy="361.4" r="1.18"/><circle cx="554.7" cy="385.1" r="1.18"/><circle cx="563.6" cy="387.0" r="1.18"/><circle cx="556.3" cy="359.7" r="1.18"/><circle cx="581.6" cy="355.9" r="1.18"/><circle cx="568.9" cy="385.3" r="1.18"/><circle cx="559.3" cy="394.9" r="1.18"/><circle cx="544.3" cy="380.2" r="1.18"/><circle cx="584.2" cy="364.1" r="1.18"/><circle cx="613.1" cy="381.2" r="1.18"/><circle cx="553.2" cy="391.2" r="1.18"/><circle cx="546.0" cy="387.7" r="1.18"/><circle cx="602.4" cy="385.7" r="1.18"/><circle cx="602.1" cy="395.6" r="1.18"/><circle cx="562.9" cy="399.6" r="1.18"/><circle cx="600.9" cy="360.1" r="1.18"/><circle cx="566.7" cy="365.0" r="1.18"/><circle cx="558.7" cy="379.0" r="1.18"/><circle cx="558.7" cy="387.7" r="1.18"/><circle cx="568.6" cy="399.0" r="1.18"/><circle cx="583.2" cy="378.8" r="1.18"/><circle cx="597.2" cy="382.0" r="1.18"/><circle cx="575.6" cy="363.3" r="1.18"/><circle cx="600.0" cy="385.2" r="1.18"/><circle cx="576.5" cy="402.4" r="1.18"/><circle cx="576.5" cy="390.6" r="1.18"/><circle cx="555.5" cy="372.3" r="1.18"/><circle cx="588.2" cy="367.4" r="1.18"/><circle cx="589.2" cy="389.5" r="1.18"/><circle cx="563.0" cy="392.1" r="1.18"/><circle cx="604.2" cy="377.0" r="1.18"/><circle cx="583.6" cy="386.4" r="1.18"/><circle cx="561.4" cy="357.2" r="1.18"/><circle cx="556.8" cy="380.2" r="1.18"/><circle cx="588.6" cy="396.1" r="1.18"/><circle cx="562.7" cy="363.1" r="1.18"/><circle cx="573.4" cy="362.9" r="1.18"/><circle cx="562.1" cy="378.5" r="1.18"/><circle cx="591.9" cy="360.1" r="1.18"/><circle cx="556.2" cy="377.6" r="1.18"/><circle cx="580.5" cy="363.4" r="1.18"/><circle cx="590.2" cy="382.1" r="1.18"/><circle cx="587.9" cy="359.2" r="1.18"/><circle cx="580.5" cy="368.0" r="1.18"/><circle cx="563.5" cy="358.6" r="1.18"/><circle cx="592.4" cy="386.5" r="1.18"/><circle cx="563.2" cy="366.1" r="1.18"/><circle cx="613.5" cy="381.5" r="1.18"/><circle cx="592.8" cy="366.8" r="1.18"/><circle cx="610.0" cy="389.5" r="1.18"/><circle cx="579.6" cy="360.4" r="1.18"/><circle cx="574.6" cy="356.2" r="1.18"/><circle cx="558.7" cy="392.5" r="1.18"/><circle cx="551.8" cy="364.9" r="1.18"/><circle cx="567.9" cy="401.4" r="1.18"/><circle cx="555.5" cy="375.0" r="1.18"/><circle cx="581.3" cy="357.2" r="1.18"/><circle cx="583.4" cy="358.4" r="1.18"/><circle cx="566.4" cy="370.5" r="1.18"/><circle cx="613.8" cy="376.0" r="1.18"/><circle cx="564.9" cy="370.8" r="1.18"/><circle cx="565.0" cy="362.8" r="1.18"/><circle cx="566.1" cy="388.2" r="1.18"/><circle cx="568.7" cy="366.0" r="1.18"/><circle cx="564.9" cy="368.0" r="1.18"/><circle cx="582.5" cy="358.3" r="1.18"/><circle cx="602.5" cy="391.6" r="1.18"/><circle cx="602.5" cy="377.8" r="1.18"/><circle cx="558.9" cy="363.7" r="1.18"/><circle cx="590.5" cy="401.0" r="1.18"/><circle cx="552.1" cy="387.1" r="1.18"/><circle cx="591.3" cy="356.4" r="1.18"/><circle cx="607.2" cy="370.0" r="1.18"/><circle cx="570.2" cy="393.0" r="1.18"/><circle cx="582.0" cy="385.1" r="1.18"/><circle cx="548.0" cy="384.9" r="1.18"/><circle cx="554.4" cy="394.5" r="1.18"/><circle cx="598.2" cy="386.1" r="1.18"/><circle cx="589.1" cy="401.9" r="1.18"/><circle cx="602.0" cy="389.4" r="1.18"/><circle cx="569.2" cy="355.6" r="1.18"/><circle cx="547.0" cy="383.6" r="1.18"/><circle cx="613.5" cy="376.4" r="1.18"/><circle cx="555.3" cy="372.4" r="1.18"/><circle cx="568.4" cy="367.9" r="1.18"/><circle cx="592.8" cy="362.9" r="1.18"/><circle cx="576.4" cy="379.0" r="1.18"/><circle cx="566.1" cy="392.6" r="1.18"/><circle cx="559.4" cy="393.5" r="1.18"/><circle cx="597.6" cy="385.2" r="1.18"/><circle cx="560.8" cy="387.0" r="1.18"/><circle cx="597.1" cy="396.7" r="1.18"/><circle cx="553.5" cy="364.8" r="1.18"/><circle cx="548.4" cy="388.3" r="1.18"/><circle cx="569.1" cy="388.5" r="1.18"/><circle cx="555.5" cy="385.6" r="1.18"/><circle cx="563.1" cy="376.0" r="1.18"/><circle cx="585.3" cy="400.6" r="1.18"/><circle cx="557.4" cy="392.6" r="1.18"/><circle cx="592.8" cy="359.0" r="1.18"/><circle cx="602.9" cy="397.7" r="1.18"/><circle cx="559.4" cy="388.9" r="1.18"/><circle cx="589.4" cy="401.9" r="1.18"/><circle cx="578.7" cy="372.7" r="1.18"/><circle cx="605.5" cy="367.8" r="1.18"/><circle cx="607.9" cy="372.4" r="1.18"/><circle cx="572.5" cy="395.1" r="1.18"/><circle cx="597.0" cy="363.8" r="1.18"/><circle cx="572.0" cy="381.8" r="1.18"/><circle cx="589.9" cy="389.6" r="1.18"/><circle cx="571.3" cy="373.3" r="1.18"/><circle cx="556.4" cy="385.0" r="1.18"/><circle cx="567.1" cy="392.8" r="1.18"/><circle cx="555.2" cy="396.7" r="1.18"/><circle cx="601.6" cy="372.1" r="1.18"/><circle cx="550.9" cy="365.1" r="1.18"/><circle cx="544.6" cy="381.8" r="1.18"/><circle cx="575.8" cy="381.5" r="1.18"/><circle cx="602.9" cy="395.2" r="1.18"/><circle cx="576.1" cy="377.6" r="1.18"/><circle cx="554.6" cy="366.5" r="1.18"/><circle cx="557.0" cy="368.5" r="1.18"/><circle cx="582.1" cy="367.4" r="1.18"/><circle cx="562.8" cy="360.3" r="1.18"/><circle cx="574.7" cy="376.7" r="1.18"/><circle cx="547.0" cy="368.8" r="1.18"/><circle cx="578.0" cy="376.9" r="1.18"/><circle cx="593.3" cy="382.4" r="1.18"/><circle cx="593.1" cy="358.2" r="1.18"/><circle cx="564.5" cy="368.2" r="1.18"/><circle cx="577.7" cy="375.1" r="1.18"/><circle cx="589.3" cy="401.3" r="1.18"/><circle cx="585.5" cy="364.5" r="1.18"/><circle cx="586.8" cy="378.8" r="1.18"/><circle cx="563.8" cy="393.6" r="1.18"/><circle cx="562.4" cy="369.7" r="1.18"/><circle cx="547.2" cy="366.6" r="1.18"/><circle cx="608.6" cy="378.0" r="1.18"/><circle cx="595.0" cy="378.5" r="1.18"/><circle cx="562.6" cy="372.0" r="1.18"/><circle cx="579.6" cy="369.8" r="1.18"/><circle cx="580.1" cy="356.2" r="1.18"/><circle cx="571.1" cy="360.5" r="1.18"/><circle cx="577.5" cy="380.5" r="1.18"/><circle cx="606.5" cy="376.4" r="1.18"/><circle cx="564.6" cy="395.7" r="1.18"/><circle cx="552.3" cy="373.2" r="1.18"/><circle cx="596.2" cy="399.5" r="1.18"/><circle cx="557.0" cy="395.2" r="1.18"/><circle cx="592.8" cy="381.1" r="1.18"/><circle cx="575.0" cy="393.7" r="1.18"/><circle cx="577.1" cy="400.4" r="1.18"/><circle cx="608.8" cy="372.6" r="1.18"/><circle cx="581.7" cy="375.6" r="1.18"/><circle cx="572.0" cy="372.6" r="1.18"/><circle cx="566.2" cy="386.9" r="1.18"/><circle cx="590.6" cy="384.8" r="1.18"/><circle cx="580.5" cy="387.2" r="1.18"/><circle cx="544.4" cy="378.0" r="1.18"/><circle cx="592.5" cy="390.0" r="1.18"/><circle cx="601.0" cy="365.8" r="1.18"/><circle cx="587.4" cy="394.4" r="1.18"/><circle cx="557.8" cy="364.0" r="1.18"/><circle cx="559.2" cy="380.6" r="1.18"/><circle cx="606.5" cy="371.8" r="1.18"/><circle cx="613.9" cy="379.0" r="1.18"/><circle cx="598.5" cy="396.4" r="1.18"/><circle cx="572.0" cy="386.7" r="1.18"/><circle cx="586.8" cy="401.9" r="1.18"/><circle cx="592.2" cy="372.3" r="1.18"/><circle cx="556.6" cy="379.7" r="1.18"/><circle cx="604.5" cy="380.6" r="1.18"/><circle cx="581.7" cy="365.6" r="1.18"/><circle cx="554.3" cy="366.4" r="1.18"/><circle cx="565.3" cy="377.7" r="1.18"/><circle cx="609.9" cy="368.0" r="1.18"/><circle cx="560.0" cy="390.6" r="1.18"/><circle cx="609.7" cy="366.3" r="1.18"/><circle cx="564.9" cy="374.9" r="1.18"/><circle cx="582.6" cy="366.8" r="1.18"/><circle cx="560.3" cy="393.7" r="1.18"/><circle cx="577.7" cy="382.1" r="1.18"/><circle cx="589.9" cy="390.6" r="1.18"/><circle cx="551.8" cy="390.5" r="1.18"/><circle cx="561.9" cy="361.2" r="1.18"/><circle cx="554.7" cy="366.2" r="1.18"/><circle cx="600.9" cy="392.8" r="1.18"/><circle cx="579.1" cy="381.4" r="1.18"/><circle cx="596.3" cy="383.4" r="1.18"/><circle cx="549.4" cy="377.1" r="1.18"/><circle cx="558.2" cy="377.6" r="1.18"/><circle cx="566.6" cy="382.9" r="1.18"/><circle cx="590.1" cy="369.7" r="1.18"/><circle cx="571.6" cy="378.9" r="1.18"/><circle cx="606.3" cy="381.7" r="1.18"/><circle cx="608.1" cy="373.7" r="1.18"/><circle cx="589.5" cy="356.1" r="1.18"/><circle cx="559.6" cy="386.1" r="1.18"/><circle cx="567.1" cy="379.9" r="1.18"/><circle cx="612.8" cy="381.9" r="1.18"/><circle cx="590.8" cy="382.1" r="1.18"/><circle cx="570.6" cy="356.1" r="1.18"/><circle cx="573.8" cy="374.9" r="1.18"/><circle cx="558.4" cy="375.5" r="1.18"/><circle cx="580.5" cy="368.8" r="1.18"/><circle cx="582.4" cy="383.4" r="1.18"/><circle cx="571.2" cy="393.8" r="1.18"/><circle cx="575.9" cy="399.3" r="1.18"/><circle cx="597.6" cy="388.2" r="1.18"/><circle cx="555.4" cy="388.8" r="1.18"/><circle cx="547.1" cy="368.6" r="1.18"/><circle cx="606.1" cy="387.9" r="1.18"/><circle cx="590.5" cy="381.0" r="1.18"/><circle cx="595.1" cy="381.2" r="1.18"/><circle cx="599.9" cy="362.5" r="1.18"/><circle cx="576.9" cy="385.2" r="1.18"/><circle cx="548.8" cy="382.0" r="1.18"/><circle cx="595.4" cy="389.5" r="1.18"/><circle cx="588.6" cy="383.7" r="1.18"/><circle cx="577.2" cy="376.1" r="1.18"/><circle cx="586.1" cy="371.2" r="1.18"/><circle cx="599.9" cy="381.2" r="1.18"/><circle cx="574.4" cy="379.7" r="1.18"/><circle cx="593.6" cy="395.1" r="1.18"/><circle cx="601.1" cy="389.0" r="1.18"/><circle cx="579.5" cy="358.7" r="1.18"/><circle cx="577.1" cy="391.3" r="1.18"/><circle cx="574.8" cy="396.9" r="1.18"/><circle cx="569.2" cy="378.3" r="1.18"/><circle cx="562.5" cy="361.3" r="1.18"/><circle cx="584.4" cy="360.9" r="1.18"/><circle cx="554.3" cy="368.9" r="1.18"/><circle cx="559.2" cy="366.6" r="1.18"/><circle cx="611.9" cy="382.9" r="1.18"/><circle cx="590.2" cy="366.9" r="1.18"/><circle cx="589.4" cy="366.1" r="1.18"/><circle cx="577.2" cy="369.5" r="1.18"/><circle cx="598.2" cy="374.2" r="1.18"/><circle cx="567.2" cy="363.4" r="1.18"/><circle cx="593.0" cy="361.3" r="1.18"/><circle cx="586.4" cy="376.3" r="1.18"/><circle cx="592.5" cy="357.7" r="1.18"/><circle cx="607.0" cy="386.0" r="1.18"/><circle cx="601.6" cy="392.1" r="1.18"/><circle cx="555.9" cy="370.1" r="1.18"/><circle cx="556.1" cy="393.9" r="1.18"/><circle cx="610.3" cy="382.5" r="1.18"/><circle cx="590.6" cy="401.9" r="1.18"/><circle cx="580.5" cy="376.2" r="1.18"/><circle cx="552.6" cy="364.1" r="1.18"/><circle cx="557.9" cy="380.4" r="1.18"/><circle cx="560.6" cy="373.5" r="1.18"/><circle cx="545.8" cy="387.1" r="1.18"/><circle cx="549.2" cy="368.9" r="1.18"/><circle cx="551.1" cy="388.4" r="1.18"/><circle cx="559.2" cy="381.6" r="1.18"/><circle cx="546.3" cy="382.2" r="1.18"/><circle cx="568.0" cy="398.6" r="1.18"/><circle cx="557.6" cy="369.2" r="1.18"/><circle cx="578.3" cy="378.3" r="1.18"/><circle cx="564.4" cy="363.1" r="1.18"/><circle cx="578.9" cy="356.4" r="1.18"/><circle cx="570.4" cy="367.4" r="1.18"/><circle cx="593.7" cy="374.9" r="1.18"/><circle cx="586.6" cy="383.3" r="1.18"/><circle cx="593.8" cy="399.7" r="1.18"/><circle cx="583.3" cy="388.3" r="1.18"/><circle cx="583.0" cy="358.7" r="1.18"/><circle cx="602.4" cy="380.4" r="1.18"/><circle cx="546.8" cy="390.7" r="1.18"/><circle cx="579.1" cy="400.5" r="1.18"/><circle cx="573.2" cy="377.6" r="1.18"/><circle cx="597.9" cy="376.3" r="1.18"/><circle cx="574.2" cy="390.3" r="1.18"/><circle cx="606.8" cy="377.0" r="1.18"/><circle cx="593.2" cy="381.9" r="1.18"/><circle cx="582.6" cy="365.3" r="1.18"/><circle cx="563.7" cy="367.2" r="1.18"/><circle cx="559.3" cy="364.8" r="1.18"/><circle cx="601.1" cy="387.2" r="1.18"/><circle cx="565.6" cy="360.1" r="1.18"/><circle cx="591.1" cy="390.8" r="1.18"/><circle cx="588.9" cy="389.3" r="1.18"/><circle cx="585.9" cy="356.4" r="1.18"/><circle cx="599.7" cy="396.8" r="1.18"/><circle cx="555.7" cy="373.4" r="1.18"/><circle cx="601.2" cy="395.5" r="1.18"/><circle cx="555.0" cy="397.0" r="1.18"/><circle cx="601.6" cy="364.6" r="1.18"/><circle cx="607.8" cy="394.0" r="1.18"/><circle cx="550.5" cy="363.1" r="1.18"/><circle cx="600.4" cy="363.3" r="1.18"/><circle cx="568.4" cy="392.9" r="1.18"/><circle cx="602.1" cy="374.2" r="1.18"/><circle cx="572.9" cy="388.4" r="1.18"/><circle cx="568.3" cy="366.5" r="1.18"/><circle cx="557.1" cy="384.3" r="1.18"/><circle cx="594.4" cy="365.7" r="1.18"/><circle cx="596.1" cy="384.0" r="1.18"/><circle cx="584.1" cy="380.3" r="1.18"/><circle cx="572.8" cy="355.7" r="1.18"/><circle cx="581.6" cy="386.8" r="1.18"/><circle cx="589.3" cy="362.7" r="1.18"/><circle cx="604.1" cy="374.9" r="1.18"/><circle cx="547.4" cy="387.4" r="1.18"/><circle cx="578.4" cy="384.9" r="1.18"/><circle cx="566.7" cy="383.5" r="1.18"/><circle cx="550.7" cy="364.9" r="1.18"/><circle cx="595.4" cy="366.0" r="1.18"/><circle cx="552.0" cy="386.2" r="1.18"/><circle cx="605.7" cy="389.2" r="1.18"/><circle cx="584.8" cy="380.5" r="1.18"/><circle cx="587.8" cy="358.5" r="1.18"/><circle cx="596.9" cy="359.3" r="1.18"/><circle cx="578.1" cy="392.1" r="1.18"/><circle cx="598.8" cy="369.3" r="1.18"/><circle cx="588.7" cy="381.0" r="1.18"/><circle cx="578.6" cy="383.6" r="1.18"/><circle cx="575.1" cy="373.2" r="1.18"/><circle cx="597.4" cy="386.0" r="1.18"/><circle cx="600.1" cy="360.3" r="1.18"/><circle cx="579.2" cy="378.9" r="1.18"/><circle cx="599.3" cy="398.7" r="1.18"/><circle cx="567.7" cy="383.8" r="1.18"/><circle cx="571.0" cy="373.4" r="1.18"/><circle cx="588.6" cy="388.2" r="1.18"/><circle cx="607.1" cy="372.5" r="1.18"/><circle cx="578.6" cy="376.6" r="1.18"/><circle cx="613.0" cy="379.8" r="1.18"/><circle cx="551.8" cy="378.9" r="1.18"/><circle cx="588.1" cy="358.8" r="1.18"/><circle cx="584.5" cy="388.2" r="1.18"/><circle cx="568.4" cy="380.9" r="1.18"/><circle cx="571.7" cy="362.3" r="1.18"/><circle cx="561.9" cy="400.2" r="1.18"/><circle cx="588.6" cy="381.0" r="1.18"/><circle cx="600.4" cy="395.2" r="1.18"/><circle cx="596.9" cy="374.2" r="1.18"/><circle cx="581.8" cy="370.5" r="1.18"/><circle cx="549.6" cy="372.9" r="1.18"/><circle cx="603.6" cy="369.9" r="1.18"/><circle cx="554.5" cy="376.5" r="1.18"/><circle cx="588.5" cy="393.1" r="1.18"/><circle cx="606.7" cy="394.3" r="1.18"/><circle cx="547.2" cy="377.4" r="1.18"/><circle cx="568.4" cy="356.1" r="1.18"/><circle cx="611.9" cy="371.5" r="1.18"/><circle cx="546.3" cy="383.9" r="1.18"/><circle cx="558.3" cy="368.3" r="1.18"/><circle cx="594.2" cy="365.0" r="1.18"/><circle cx="566.5" cy="369.6" r="1.18"/><circle cx="572.5" cy="358.9" r="1.18"/><circle cx="609.5" cy="367.4" r="1.18"/><circle cx="569.7" cy="358.1" r="1.18"/><circle cx="600.9" cy="364.1" r="1.18"/><circle cx="549.3" cy="372.8" r="1.18"/><circle cx="576.7" cy="382.9" r="1.18"/><circle cx="596.8" cy="366.8" r="1.18"/><circle cx="602.8" cy="362.7" r="1.18"/><circle cx="577.8" cy="368.7" r="1.18"/><circle cx="583.7" cy="367.0" r="1.18"/><circle cx="582.0" cy="367.3" r="1.18"/><circle cx="599.2" cy="376.5" r="1.18"/><circle cx="579.9" cy="386.7" r="1.18"/><circle cx="561.9" cy="364.0" r="1.18"/><circle cx="572.6" cy="391.1" r="1.18"/><circle cx="595.2" cy="377.1" r="1.18"/><circle cx="586.5" cy="367.2" r="1.18"/><circle cx="610.4" cy="385.7" r="1.18"/><circle cx="600.3" cy="372.7" r="1.18"/><circle cx="584.5" cy="389.1" r="1.18"/><circle cx="581.3" cy="391.5" r="1.18"/><circle cx="563.0" cy="392.7" r="1.18"/><circle cx="566.3" cy="379.7" r="1.18"/><circle cx="554.0" cy="374.4" r="1.18"/><circle cx="557.2" cy="381.0" r="1.18"/><circle cx="590.0" cy="388.0" r="1.18"/><circle cx="592.1" cy="389.6" r="1.18"/><circle cx="586.2" cy="362.4" r="1.18"/><circle cx="582.1" cy="368.5" r="1.18"/><circle cx="544.4" cy="379.3" r="1.18"/><circle cx="612.2" cy="377.4" r="1.18"/><circle cx="597.2" cy="384.9" r="1.18"/><circle cx="546.6" cy="381.3" r="1.18"/><circle cx="564.8" cy="398.4" r="1.18"/><circle cx="590.8" cy="399.8" r="1.18"/><circle cx="603.4" cy="383.0" r="1.18"/><circle cx="576.7" cy="380.5" r="1.18"/><circle cx="566.4" cy="396.0" r="1.18"/><circle cx="567.7" cy="376.1" r="1.18"/><circle cx="586.6" cy="369.9" r="1.18"/><circle cx="586.6" cy="357.6" r="1.18"/><circle cx="605.1" cy="396.2" r="1.18"/><circle cx="599.1" cy="391.0" r="1.18"/><circle cx="557.1" cy="382.3" r="1.18"/><circle cx="548.3" cy="390.8" r="1.18"/><circle cx="599.2" cy="365.1" r="1.18"/><circle cx="575.0" cy="359.4" r="1.18"/><circle cx="590.7" cy="388.5" r="1.18"/><circle cx="548.2" cy="384.4" r="1.18"/><circle cx="605.5" cy="363.6" r="1.18"/><circle cx="607.5" cy="368.1" r="1.18"/><circle cx="597.0" cy="364.2" r="1.18"/><circle cx="604.2" cy="375.9" r="1.18"/><circle cx="549.8" cy="394.2" r="1.18"/><circle cx="566.9" cy="361.3" r="1.18"/><circle cx="576.3" cy="378.8" r="1.18"/><circle cx="584.8" cy="358.9" r="1.18"/><circle cx="573.7" cy="389.7" r="1.18"/><circle cx="606.6" cy="383.5" r="1.18"/><circle cx="595.9" cy="365.6" r="1.18"/><circle cx="558.8" cy="379.6" r="1.18"/><circle cx="560.2" cy="385.4" r="1.18"/><circle cx="564.3" cy="372.2" r="1.18"/><circle cx="570.9" cy="377.3" r="1.18"/><circle cx="560.8" cy="366.3" r="1.18"/><circle cx="546.9" cy="372.0" r="1.18"/><circle cx="610.9" cy="372.3" r="1.18"/><circle cx="567.2" cy="390.7" r="1.18"/><circle cx="560.1" cy="391.3" r="1.18"/><circle cx="599.2" cy="393.1" r="1.18"/><circle cx="584.5" cy="360.1" r="1.18"/><circle cx="591.4" cy="382.9" r="1.18"/><circle cx="578.0" cy="391.8" r="1.18"/><circle cx="556.8" cy="373.0" r="1.18"/><circle cx="588.2" cy="398.1" r="1.18"/><circle cx="562.4" cy="375.2" r="1.18"/><circle cx="580.7" cy="377.1" r="1.18"/><circle cx="549.5" cy="372.6" r="1.18"/><circle cx="609.2" cy="373.0" r="1.18"/><circle cx="580.0" cy="399.0" r="1.18"/><circle cx="585.3" cy="400.8" r="1.18"/><circle cx="565.7" cy="372.4" r="1.18"/><circle cx="554.6" cy="397.3" r="1.18"/><circle cx="583.4" cy="383.4" r="1.18"/><circle cx="585.8" cy="398.1" r="1.18"/><circle cx="580.2" cy="381.4" r="1.18"/><circle cx="575.3" cy="371.1" r="1.18"/><circle cx="611.8" cy="386.0" r="1.18"/><circle cx="578.6" cy="359.3" r="1.18"/><circle cx="588.7" cy="357.1" r="1.18"/><circle cx="577.0" cy="365.1" r="1.18"/><circle cx="571.4" cy="365.6" r="1.18"/><circle cx="559.7" cy="376.0" r="1.18"/><circle cx="552.4" cy="367.1" r="1.18"/><circle cx="594.4" cy="359.9" r="1.18"/><circle cx="603.2" cy="374.7" r="1.18"/><circle cx="558.8" cy="392.1" r="1.18"/><circle cx="570.4" cy="372.6" r="1.18"/><circle cx="609.6" cy="378.7" r="1.18"/><circle cx="574.5" cy="383.3" r="1.18"/><circle cx="604.4" cy="385.3" r="1.18"/><circle cx="566.3" cy="396.4" r="1.18"/><circle cx="564.4" cy="376.4" r="1.18"/><circle cx="598.9" cy="395.9" r="1.18"/><circle cx="558.7" cy="367.8" r="1.18"/><circle cx="580.0" cy="382.0" r="1.18"/><circle cx="581.8" cy="377.4" r="1.18"/><circle cx="598.6" cy="367.1" r="1.18"/><circle cx="574.5" cy="387.4" r="1.18"/><circle cx="606.4" cy="367.2" r="1.18"/><circle cx="568.9" cy="377.6" r="1.18"/><circle cx="562.7" cy="379.6" r="1.18"/><circle cx="609.8" cy="366.2" r="1.18"/><circle cx="602.2" cy="397.7" r="1.18"/><circle cx="578.2" cy="371.9" r="1.18"/><circle cx="552.3" cy="381.4" r="1.18"/><circle cx="603.1" cy="373.3" r="1.18"/><circle cx="561.8" cy="394.8" r="1.18"/><circle cx="555.0" cy="382.0" r="1.18"/><circle cx="597.7" cy="379.5" r="1.18"/><circle cx="564.5" cy="383.7" r="1.18"/><circle cx="567.6" cy="387.1" r="1.18"/><circle cx="599.7" cy="393.5" r="1.18"/><circle cx="598.2" cy="360.9" r="1.18"/><circle cx="562.9" cy="387.1" r="1.18"/><circle cx="588.5" cy="397.9" r="1.18"/><circle cx="574.8" cy="357.9" r="1.18"/><circle cx="581.7" cy="370.5" r="1.18"/><circle cx="548.5" cy="371.7" r="1.18"/><circle cx="598.2" cy="387.8" r="1.18"/><circle cx="575.3" cy="394.5" r="1.18"/><circle cx="573.5" cy="386.1" r="1.18"/><circle cx="583.7" cy="383.4" r="1.18"/><circle cx="611.7" cy="383.9" r="1.18"/><circle cx="562.3" cy="361.6" r="1.18"/><circle cx="582.8" cy="362.9" r="1.18"/><circle cx="568.6" cy="401.0" r="1.18"/><circle cx="556.8" cy="364.8" r="1.18"/><circle cx="590.9" cy="379.2" r="1.18"/><circle cx="607.6" cy="370.7" r="1.18"/><circle cx="597.1" cy="374.9" r="1.18"/><circle cx="557.6" cy="372.8" r="1.18"/><circle cx="577.2" cy="377.6" r="1.18"/><circle cx="585.4" cy="388.2" r="1.18"/><circle cx="554.5" cy="386.2" r="1.18"/><circle cx="601.6" cy="374.7" r="1.18"/><circle cx="562.9" cy="367.1" r="1.18"/><circle cx="586.5" cy="360.8" r="1.18"/><circle cx="558.8" cy="369.5" r="1.18"/><circle cx="592.2" cy="390.6" r="1.18"/><circle cx="582.1" cy="362.1" r="1.18"/><circle cx="568.8" cy="357.9" r="1.18"/><circle cx="613.8" cy="377.1" r="1.18"/><circle cx="602.7" cy="366.8" r="1.18"/><circle cx="563.3" cy="361.9" r="1.18"/><circle cx="571.2" cy="387.9" r="1.18"/><circle cx="582.6" cy="370.5" r="1.18"/><circle cx="553.0" cy="368.1" r="1.18"/><circle cx="597.9" cy="363.5" r="1.18"/><circle cx="590.9" cy="379.1" r="1.18"/><circle cx="572.9" cy="382.9" r="1.18"/><circle cx="563.7" cy="395.3" r="1.18"/><circle cx="557.8" cy="361.9" r="1.18"/><circle cx="552.3" cy="370.8" r="1.18"/><circle cx="556.7" cy="374.0" r="1.18"/><circle cx="582.4" cy="362.6" r="1.18"/><circle cx="565.0" cy="356.8" r="1.18"/><circle cx="577.1" cy="375.8" r="1.18"/><circle cx="582.8" cy="395.0" r="1.18"/><circle cx="572.7" cy="399.2" r="1.18"/><circle cx="611.0" cy="368.3" r="1.18"/><circle cx="584.5" cy="400.9" r="1.18"/><circle cx="579.1" cy="387.2" r="1.18"/><circle cx="550.7" cy="374.0" r="1.18"/><circle cx="589.9" cy="364.8" r="1.18"/><circle cx="611.9" cy="374.0" r="1.18"/><circle cx="583.7" cy="392.4" r="1.18"/><circle cx="565.9" cy="388.7" r="1.18"/><circle cx="595.3" cy="392.2" r="1.18"/><circle cx="566.3" cy="371.3" r="1.18"/><circle cx="584.8" cy="376.5" r="1.18"/><circle cx="577.1" cy="382.2" r="1.18"/><circle cx="597.1" cy="361.9" r="1.18"/><circle cx="558.9" cy="361.1" r="1.18"/><circle cx="580.3" cy="364.9" r="1.18"/><circle cx="609.1" cy="364.9" r="1.18"/><circle cx="575.3" cy="391.8" r="1.18"/><circle cx="578.2" cy="385.6" r="1.18"/><circle cx="584.0" cy="401.7" r="1.18"/><circle cx="549.0" cy="407.4" r="1.18"/><circle cx="590.5" cy="389.9" r="1.18"/><circle cx="560.2" cy="380.4" r="1.18"/><circle cx="577.1" cy="386.3" r="1.18"/><circle cx="543.5" cy="379.2" r="1.18"/><circle cx="565.0" cy="370.8" r="1.18"/><circle cx="568.2" cy="388.4" r="1.18"/><circle cx="600.6" cy="388.9" r="1.18"/><circle cx="541.7" cy="374.7" r="1.18"/><circle cx="584.8" cy="381.6" r="1.18"/><circle cx="597.4" cy="372.7" r="1.18"/><circle cx="572.9" cy="351.7" r="1.18"/><circle cx="577.4" cy="388.6" r="1.18"/><circle cx="583.6" cy="368.3" r="1.18"/><circle cx="579.0" cy="380.0" r="1.18"/><circle cx="559.4" cy="372.5" r="1.18"/><circle cx="583.6" cy="388.9" r="1.18"/><circle cx="622.2" cy="366.7" r="1.18"/><circle cx="572.8" cy="391.4" r="1.18"/><circle cx="569.2" cy="390.9" r="1.18"/><circle cx="538.5" cy="403.8" r="1.18"/><circle cx="600.8" cy="381.4" r="1.18"/><circle cx="551.2" cy="374.2" r="1.18"/><circle cx="562.4" cy="399.4" r="1.18"/><circle cx="568.7" cy="383.5" r="1.18"/><circle cx="592.7" cy="374.9" r="1.18"/><circle cx="565.6" cy="349.1" r="1.18"/><circle cx="597.9" cy="400.6" r="1.18"/><circle cx="583.6" cy="367.3" r="1.18"/><circle cx="590.4" cy="376.2" r="1.18"/><circle cx="554.1" cy="391.7" r="1.18"/><circle cx="545.5" cy="382.0" r="1.18"/><circle cx="576.6" cy="357.8" r="1.18"/><circle cx="580.9" cy="370.3" r="1.18"/><circle cx="557.6" cy="359.6" r="1.18"/><circle cx="579.7" cy="371.2" r="1.18"/><circle cx="576.4" cy="379.3" r="1.18"/><circle cx="611.3" cy="376.3" r="1.18"/><circle cx="580.8" cy="399.0" r="1.18"/><circle cx="569.2" cy="396.5" r="1.18"/><circle cx="589.9" cy="353.1" r="1.18"/><circle cx="612.1" cy="377.7" r="1.18"/><circle cx="554.3" cy="376.0" r="1.18"/><circle cx="583.3" cy="383.0" r="1.18"/><circle cx="625.6" cy="355.7" r="1.18"/><circle cx="586.8" cy="372.1" r="1.18"/><circle cx="569.8" cy="373.4" r="1.18"/><circle cx="562.9" cy="402.2" r="1.18"/><circle cx="583.1" cy="379.1" r="1.18"/><circle cx="586.4" cy="358.3" r="1.18"/><circle cx="576.0" cy="372.5" r="1.18"/><circle cx="558.5" cy="398.7" r="1.18"/><circle cx="583.8" cy="388.2" r="1.18"/><circle cx="566.7" cy="381.2" r="1.18"/><circle cx="579.0" cy="388.1" r="1.18"/><circle cx="582.4" cy="386.3" r="1.18"/><circle cx="563.0" cy="386.6" r="1.18"/><circle cx="588.8" cy="386.8" r="1.18"/><circle cx="573.1" cy="383.1" r="1.18"/><circle cx="578.1" cy="384.0" r="1.18"/><circle cx="579.2" cy="372.9" r="1.18"/><circle cx="568.3" cy="381.5" r="1.18"/><circle cx="555.6" cy="345.6" r="1.18"/><circle cx="577.4" cy="374.3" r="1.18"/><circle cx="584.5" cy="387.9" r="1.18"/><circle cx="586.9" cy="376.1" r="1.18"/><circle cx="583.0" cy="356.1" r="1.18"/><circle cx="591.6" cy="367.3" r="1.18"/><circle cx="562.2" cy="386.4" r="1.18"/><circle cx="565.5" cy="366.8" r="1.18"/><circle cx="573.5" cy="365.6" r="1.18"/><circle cx="596.4" cy="364.2" r="1.18"/><circle cx="577.1" cy="394.5" r="1.18"/><circle cx="601.3" cy="384.1" r="1.18"/><circle cx="552.9" cy="388.2" r="1.18"/><circle cx="606.2" cy="392.6" r="1.18"/><circle cx="591.9" cy="388.4" r="1.18"/><circle cx="576.7" cy="385.1" r="1.18"/><circle cx="587.8" cy="380.0" r="1.18"/><circle cx="607.4" cy="367.8" r="1.18"/><circle cx="606.6" cy="372.0" r="1.18"/><circle cx="557.2" cy="375.5" r="1.18"/><circle cx="561.2" cy="376.2" r="1.18"/><circle cx="593.0" cy="396.6" r="1.18"/><circle cx="596.4" cy="342.9" r="1.18"/><circle cx="605.1" cy="369.6" r="1.18"/><circle cx="587.9" cy="397.2" r="1.18"/><circle cx="602.8" cy="403.7" r="1.18"/><circle cx="580.7" cy="366.4" r="1.18"/><circle cx="559.5" cy="406.3" r="1.18"/><circle cx="571.9" cy="382.2" r="1.18"/><circle cx="568.7" cy="367.2" r="1.18"/><circle cx="612.1" cy="398.5" r="1.18"/><circle cx="583.6" cy="388.8" r="1.18"/><circle cx="563.6" cy="378.1" r="1.18"/><circle cx="568.0" cy="393.3" r="1.18"/><circle cx="606.6" cy="372.0" r="1.18"/><circle cx="542.2" cy="390.9" r="1.18"/><circle cx="624.0" cy="366.2" r="1.18"/><circle cx="619.3" cy="384.0" r="1.18"/><circle cx="585.5" cy="358.2" r="1.18"/><circle cx="575.4" cy="359.7" r="1.18"/><circle cx="584.5" cy="370.0" r="1.18"/><circle cx="566.1" cy="378.1" r="1.18"/><circle cx="582.8" cy="399.6" r="1.18"/><circle cx="581.8" cy="381.4" r="1.18"/><circle cx="557.5" cy="367.0" r="1.18"/><circle cx="584.3" cy="378.2" r="1.18"/><circle cx="575.9" cy="386.6" r="1.18"/><circle cx="614.2" cy="367.0" r="1.18"/><circle cx="594.3" cy="392.9" r="1.18"/><circle cx="568.5" cy="362.0" r="1.18"/><circle cx="552.8" cy="381.9" r="1.18"/><circle cx="581.9" cy="384.8" r="1.18"/><circle cx="594.4" cy="393.9" r="1.18"/><circle cx="579.1" cy="382.2" r="1.18"/><circle cx="560.3" cy="363.6" r="1.18"/><circle cx="579.1" cy="364.8" r="1.18"/><circle cx="608.5" cy="369.3" r="1.18"/><circle cx="615.8" cy="369.9" r="1.18"/><circle cx="576.5" cy="394.7" r="1.18"/><circle cx="588.4" cy="399.1" r="1.18"/><circle cx="561.4" cy="390.1" r="1.18"/><circle cx="570.8" cy="386.5" r="1.18"/><circle cx="550.1" cy="368.0" r="1.18"/><circle cx="573.2" cy="386.0" r="1.18"/><circle cx="556.9" cy="367.1" r="1.18"/><circle cx="540.6" cy="372.1" r="1.18"/><circle cx="614.8" cy="371.4" r="1.18"/><circle cx="555.5" cy="373.4" r="1.18"/><circle cx="585.3" cy="391.9" r="1.18"/><circle cx="568.7" cy="388.3" r="1.18"/><circle cx="577.9" cy="388.8" r="1.18"/><circle cx="602.3" cy="390.8" r="1.18"/><circle cx="543.5" cy="389.9" r="1.18"/><circle cx="572.1" cy="348.2" r="1.18"/><circle cx="589.0" cy="376.4" r="1.18"/><circle cx="552.6" cy="353.2" r="1.18"/><circle cx="590.4" cy="383.8" r="1.18"/><circle cx="593.7" cy="381.1" r="1.18"/><circle cx="622.7" cy="370.6" r="1.18"/><circle cx="581.3" cy="381.0" r="1.18"/><circle cx="614.5" cy="397.5" r="1.18"/><circle cx="567.3" cy="396.3" r="1.18"/><circle cx="565.4" cy="391.3" r="1.18"/><circle cx="545.5" cy="355.0" r="1.18"/><circle cx="601.1" cy="385.8" r="1.18"/><circle cx="571.3" cy="356.0" r="1.18"/><circle cx="577.3" cy="350.8" r="1.18"/><circle cx="583.4" cy="352.9" r="1.18"/><circle cx="570.5" cy="350.2" r="1.18"/><circle cx="574.5" cy="350.4" r="1.18"/><circle cx="574.1" cy="355.8" r="1.18"/><circle cx="585.3" cy="351.9" r="1.18"/><circle cx="576.3" cy="349.6" r="1.18"/><circle cx="579.7" cy="359.0" r="1.18"/><circle cx="584.5" cy="353.9" r="1.18"/><circle cx="585.6" cy="350.7" r="1.18"/><circle cx="577.5" cy="353.8" r="1.18"/><circle cx="574.5" cy="356.1" r="1.18"/><circle cx="577.2" cy="348.7" r="1.18"/><circle cx="584.4" cy="351.6" r="1.18"/><circle cx="578.6" cy="356.6" r="1.18"/><circle cx="586.8" cy="350.5" r="1.18"/><circle cx="585.6" cy="348.1" r="1.18"/><circle cx="586.8" cy="353.1" r="1.18"/><circle cx="580.2" cy="357.0" r="1.18"/><circle cx="582.0" cy="347.2" r="1.18"/><circle cx="581.7" cy="355.2" r="1.18"/><circle cx="584.9" cy="357.2" r="1.18"/><circle cx="578.3" cy="348.8" r="1.18"/><circle cx="572.5" cy="351.0" r="1.18"/><circle cx="577.1" cy="353.0" r="1.18"/><circle cx="587.9" cy="351.0" r="1.18"/><circle cx="573.8" cy="352.6" r="1.18"/><circle cx="580.9" cy="354.6" r="1.18"/><circle cx="586.7" cy="354.0" r="1.18"/><circle cx="581.4" cy="350.3" r="1.18"/><circle cx="581.7" cy="355.5" r="1.18"/><circle cx="578.3" cy="357.4" r="1.18"/><circle cx="580.1" cy="354.8" r="1.18"/><circle cx="572.1" cy="355.8" r="1.18"/><circle cx="579.4" cy="351.0" r="1.18"/><circle cx="581.0" cy="353.3" r="1.18"/><circle cx="576.6" cy="348.7" r="1.18"/><circle cx="582.0" cy="354.6" r="1.18"/><circle cx="580.9" cy="351.7" r="1.18"/><circle cx="579.0" cy="346.9" r="1.18"/><circle cx="577.6" cy="350.3" r="1.18"/><circle cx="579.3" cy="345.7" r="1.18"/><circle cx="573.7" cy="351.0" r="1.18"/><circle cx="571.1" cy="348.4" r="1.18"/><circle cx="587.0" cy="351.8" r="1.18"/><circle cx="577.5" cy="352.6" r="1.18"/><circle cx="575.0" cy="352.7" r="1.18"/><circle cx="577.6" cy="349.4" r="1.18"/><circle cx="580.2" cy="354.5" r="1.18"/><circle cx="580.0" cy="348.6" r="1.18"/><circle cx="580.4" cy="350.6" r="1.18"/><circle cx="577.7" cy="353.0" r="1.18"/><circle cx="582.1" cy="355.0" r="1.18"/><circle cx="578.2" cy="359.8" r="1.18"/><circle cx="584.5" cy="354.7" r="1.18"/><circle cx="588.3" cy="355.9" r="1.18"/><circle cx="587.5" cy="356.1" r="1.18"/><circle cx="578.2" cy="355.1" r="1.18"/><circle cx="585.5" cy="354.9" r="1.18"/><circle cx="586.4" cy="354.5" r="1.18"/><circle cx="576.2" cy="352.0" r="1.18"/><circle cx="575.6" cy="348.7" r="1.18"/><circle cx="589.7" cy="355.1" r="1.18"/><circle cx="586.1" cy="348.7" r="1.18"/><circle cx="583.9" cy="351.2" r="1.18"/><circle cx="583.5" cy="354.8" r="1.18"/><circle cx="586.3" cy="350.3" r="1.18"/><circle cx="586.2" cy="355.7" r="1.18"/><circle cx="581.9" cy="349.4" r="1.18"/><circle cx="574.2" cy="347.6" r="1.18"/><circle cx="583.7" cy="359.9" r="1.18"/><circle cx="588.1" cy="359.9" r="1.18"/><circle cx="596.4" cy="353.5" r="1.18"/><circle cx="576.7" cy="357.9" r="1.18"/><circle cx="581.4" cy="355.0" r="1.18"/><circle cx="577.5" cy="355.7" r="1.18"/><circle cx="589.0" cy="352.3" r="1.18"/><circle cx="576.1" cy="357.3" r="1.18"/><circle cx="581.9" cy="358.9" r="1.18"/><circle cx="598.4" cy="359.5" r="1.18"/><circle cx="590.3" cy="358.0" r="1.18"/><circle cx="576.8" cy="353.5" r="1.18"/><circle cx="584.3" cy="358.8" r="1.18"/><circle cx="584.9" cy="357.0" r="1.18"/><circle cx="578.2" cy="355.9" r="1.18"/><circle cx="582.0" cy="356.5" r="1.18"/><circle cx="596.2" cy="356.9" r="1.18"/><circle cx="574.6" cy="354.2" r="1.18"/><circle cx="596.0" cy="360.3" r="1.18"/><circle cx="580.1" cy="355.5" r="1.18"/><circle cx="584.0" cy="355.6" r="1.18"/><circle cx="593.3" cy="358.9" r="1.18"/><circle cx="589.2" cy="361.2" r="1.18"/><circle cx="588.9" cy="354.1" r="1.18"/><circle cx="586.3" cy="354.7" r="1.18"/><circle cx="574.1" cy="358.5" r="1.18"/><circle cx="590.3" cy="359.7" r="1.18"/><circle cx="575.4" cy="357.8" r="1.18"/><circle cx="574.3" cy="356.3" r="1.18"/><circle cx="581.8" cy="355.6" r="1.18"/><circle cx="583.3" cy="357.1" r="1.18"/><circle cx="574.3" cy="357.3" r="1.18"/><circle cx="573.3" cy="359.0" r="1.18"/><circle cx="572.1" cy="356.8" r="1.18"/><circle cx="584.7" cy="356.6" r="1.18"/><circle cx="593.7" cy="352.8" r="1.18"/><circle cx="581.7" cy="356.8" r="1.18"/><circle cx="576.2" cy="356.6" r="1.18"/><circle cx="581.5" cy="353.4" r="1.18"/><circle cx="588.7" cy="356.4" r="1.18"/><circle cx="574.8" cy="357.3" r="1.18"/><circle cx="577.8" cy="357.7" r="1.18"/><circle cx="580.6" cy="359.2" r="1.18"/><circle cx="581.1" cy="359.6" r="1.18"/><circle cx="581.1" cy="359.7" r="1.18"/><circle cx="593.6" cy="356.3" r="1.18"/><circle cx="585.4" cy="352.9" r="1.18"/><circle cx="579.8" cy="354.6" r="1.18"/><circle cx="594.9" cy="359.8" r="1.18"/><circle cx="589.9" cy="359.6" r="1.18"/><circle cx="583.9" cy="358.4" r="1.18"/><circle cx="586.7" cy="360.8" r="1.18"/><circle cx="585.9" cy="361.0" r="1.18"/><circle cx="582.6" cy="354.5" r="1.18"/><circle cx="575.8" cy="356.3" r="1.18"/><circle cx="580.3" cy="353.1" r="1.18"/><circle cx="580.4" cy="361.5" r="1.18"/><circle cx="594.4" cy="356.2" r="1.18"/><circle cx="578.0" cy="357.0" r="1.18"/><circle cx="581.0" cy="358.2" r="1.18"/><circle cx="579.4" cy="358.2" r="1.18"/><circle cx="594.0" cy="354.8" r="1.18"/><circle cx="577.6" cy="357.7" r="1.18"/><circle cx="588.2" cy="360.8" r="1.18"/><circle cx="595.4" cy="356.6" r="1.18"/><circle cx="585.8" cy="359.9" r="1.18"/><circle cx="588.3" cy="353.2" r="1.18"/><circle cx="582.4" cy="353.2" r="1.18"/><circle cx="591.1" cy="359.8" r="1.18"/><circle cx="590.1" cy="352.5" r="1.18"/><circle cx="583.2" cy="352.2" r="1.18"/><circle cx="591.5" cy="359.5" r="1.18"/><circle cx="577.0" cy="359.2" r="1.18"/><circle cx="590.5" cy="361.3" r="1.18"/><circle cx="594.0" cy="356.6" r="1.18"/><circle cx="583.9" cy="356.0" r="1.18"/><circle cx="575.6" cy="359.8" r="1.18"/><circle cx="586.6" cy="359.6" r="1.18"/><circle cx="585.4" cy="354.4" r="1.18"/><circle cx="578.7" cy="353.2" r="1.18"/><circle cx="592.6" cy="357.0" r="1.18"/><circle cx="582.6" cy="361.8" r="1.18"/><circle cx="581.9" cy="355.6" r="1.18"/><circle cx="577.7" cy="354.8" r="1.18"/><circle cx="578.4" cy="357.1" r="1.18"/><circle cx="583.6" cy="356.7" r="1.18"/><circle cx="596.1" cy="355.5" r="1.18"/><circle cx="589.2" cy="357.1" r="1.18"/><circle cx="599.4" cy="358.0" r="1.18"/><circle cx="598.9" cy="355.6" r="1.18"/><circle cx="576.8" cy="354.1" r="1.18"/><circle cx="579.7" cy="360.5" r="1.18"/><circle cx="572.9" cy="359.0" r="1.18"/><circle cx="582.8" cy="354.2" r="1.18"/><circle cx="577.4" cy="353.3" r="1.18"/><circle cx="587.6" cy="352.7" r="1.18"/><circle cx="599.4" cy="355.3" r="1.18"/><circle cx="580.5" cy="352.6" r="1.18"/><circle cx="585.6" cy="357.6" r="1.18"/><circle cx="574.8" cy="359.0" r="1.18"/><circle cx="586.4" cy="360.2" r="1.18"/><circle cx="584.2" cy="355.5" r="1.18"/><circle cx="590.1" cy="356.1" r="1.18"/><circle cx="584.7" cy="354.5" r="1.18"/><circle cx="590.0" cy="361.1" r="1.18"/><circle cx="581.4" cy="355.7" r="1.18"/><circle cx="576.9" cy="359.0" r="1.18"/><circle cx="583.3" cy="356.4" r="1.18"/><circle cx="586.0" cy="354.4" r="1.18"/><circle cx="598.5" cy="357.2" r="1.18"/><circle cx="587.3" cy="360.7" r="1.18"/><circle cx="590.8" cy="360.4" r="1.18"/><circle cx="574.6" cy="355.0" r="1.18"/><circle cx="577.4" cy="357.1" r="1.18"/><circle cx="578.9" cy="361.0" r="1.18"/><circle cx="577.3" cy="355.9" r="1.18"/><circle cx="583.1" cy="355.2" r="1.18"/><circle cx="592.3" cy="356.9" r="1.18"/><circle cx="594.9" cy="355.5" r="1.18"/><circle cx="596.1" cy="360.3" r="1.18"/><circle cx="583.1" cy="361.4" r="1.18"/><circle cx="587.5" cy="360.7" r="1.18"/><circle cx="577.9" cy="360.7" r="1.18"/><circle cx="580.1" cy="360.2" r="1.18"/><circle cx="582.3" cy="361.4" r="1.18"/><circle cx="597.3" cy="355.8" r="1.18"/><circle cx="588.0" cy="355.0" r="1.18"/><circle cx="598.5" cy="356.2" r="1.18"/><circle cx="586.9" cy="354.3" r="1.18"/><circle cx="592.9" cy="357.4" r="1.18"/><circle cx="618.7" cy="366.3" r="1.18"/><circle cx="612.1" cy="362.5" r="1.18"/><circle cx="611.7" cy="358.1" r="1.18"/><circle cx="614.0" cy="358.2" r="1.18"/><circle cx="606.0" cy="359.5" r="1.18"/><circle cx="614.3" cy="359.8" r="1.18"/><circle cx="616.2" cy="363.1" r="1.18"/><circle cx="616.9" cy="365.1" r="1.18"/><circle cx="610.3" cy="363.2" r="1.18"/><circle cx="615.5" cy="362.1" r="1.18"/><circle cx="610.3" cy="362.7" r="1.18"/><circle cx="613.3" cy="363.2" r="1.18"/><circle cx="612.1" cy="359.6" r="1.18"/><circle cx="606.3" cy="360.9" r="1.18"/><circle cx="620.4" cy="361.7" r="1.18"/><circle cx="612.7" cy="358.9" r="1.18"/><circle cx="614.1" cy="361.4" r="1.18"/><circle cx="613.4" cy="360.4" r="1.18"/><circle cx="608.1" cy="358.7" r="1.18"/><circle cx="609.9" cy="358.4" r="1.18"/><circle cx="607.9" cy="361.9" r="1.18"/><circle cx="612.6" cy="359.7" r="1.18"/><circle cx="611.9" cy="364.2" r="1.18"/><circle cx="607.4" cy="362.9" r="1.18"/><circle cx="603.7" cy="365.6" r="1.18"/><circle cx="614.7" cy="367.2" r="1.18"/><circle cx="620.3" cy="361.5" r="1.18"/><circle cx="615.3" cy="362.4" r="1.18"/><circle cx="604.1" cy="363.8" r="1.18"/><circle cx="616.0" cy="363.5" r="1.18"/><circle cx="613.8" cy="357.9" r="1.18"/><circle cx="609.7" cy="350.6" r="1.18"/><circle cx="613.6" cy="359.0" r="1.18"/><circle cx="610.0" cy="364.1" r="1.18"/><circle cx="612.5" cy="353.1" r="1.18"/><circle cx="616.8" cy="357.0" r="1.18"/><circle cx="607.3" cy="358.2" r="1.18"/><circle cx="617.8" cy="357.4" r="1.18"/><circle cx="614.0" cy="362.8" r="1.18"/><circle cx="603.2" cy="365.0" r="1.18"/><circle cx="609.4" cy="365.7" r="1.18"/><circle cx="610.6" cy="365.2" r="1.18"/><circle cx="621.5" cy="354.9" r="1.18"/><circle cx="607.3" cy="359.4" r="1.18"/><circle cx="616.6" cy="365.8" r="1.18"/><circle cx="613.0" cy="362.4" r="1.18"/><circle cx="615.9" cy="358.4" r="1.18"/><circle cx="609.8" cy="361.4" r="1.18"/><circle cx="618.3" cy="359.0" r="1.18"/><circle cx="615.3" cy="358.9" r="1.18"/><circle cx="607.4" cy="361.4" r="1.18"/><circle cx="613.2" cy="361.3" r="1.18"/><circle cx="609.1" cy="359.5" r="1.18"/><circle cx="616.5" cy="357.0" r="1.18"/><circle cx="609.7" cy="357.8" r="1.18"/><circle cx="612.8" cy="364.7" r="1.18"/><circle cx="610.8" cy="359.1" r="1.18"/><circle cx="610.9" cy="361.2" r="1.18"/><circle cx="610.4" cy="358.4" r="1.18"/><circle cx="613.8" cy="365.3" r="1.18"/><circle cx="613.4" cy="359.1" r="1.18"/><circle cx="618.2" cy="361.2" r="1.18"/><circle cx="614.3" cy="360.6" r="1.18"/><circle cx="614.4" cy="357.4" r="1.18"/><circle cx="612.3" cy="360.6" r="1.18"/><circle cx="611.5" cy="361.5" r="1.18"/><circle cx="624.6" cy="358.3" r="1.18"/><circle cx="611.1" cy="357.3" r="1.18"/><circle cx="612.8" cy="359.5" r="1.18"/><circle cx="616.7" cy="360.7" r="1.18"/><circle cx="611.9" cy="361.2" r="1.18"/><circle cx="621.1" cy="364.1" r="1.18"/><circle cx="614.2" cy="364.1" r="1.18"/><circle cx="611.4" cy="356.5" r="1.18"/><circle cx="606.3" cy="362.5" r="1.18"/><circle cx="614.0" cy="359.4" r="1.18"/><circle cx="608.3" cy="363.4" r="1.18"/><circle cx="610.5" cy="357.6" r="1.18"/><circle cx="615.7" cy="361.4" r="1.18"/><circle cx="607.1" cy="365.4" r="1.18"/><circle cx="610.0" cy="359.5" r="1.18"/><circle cx="609.2" cy="360.0" r="1.18"/><circle cx="619.0" cy="360.1" r="1.18"/><circle cx="615.6" cy="359.1" r="1.18"/><circle cx="617.7" cy="364.6" r="1.18"/><circle cx="616.0" cy="366.0" r="1.18"/><circle cx="613.5" cy="355.4" r="1.18"/><circle cx="606.9" cy="359.2" r="1.18"/><circle cx="615.9" cy="361.4" r="1.18"/><circle cx="613.6" cy="361.7" r="1.18"/><circle cx="611.0" cy="360.8" r="1.18"/><circle cx="610.0" cy="361.1" r="1.18"/><circle cx="615.4" cy="365.7" r="1.18"/><circle cx="618.6" cy="360.7" r="1.18"/><circle cx="610.5" cy="359.8" r="1.18"/><circle cx="604.5" cy="363.7" r="1.18"/><circle cx="616.3" cy="362.2" r="1.18"/><circle cx="612.6" cy="363.0" r="1.18"/><circle cx="616.6" cy="364.7" r="1.18"/><circle cx="605.9" cy="367.9" r="1.18"/><circle cx="609.6" cy="365.0" r="1.18"/><circle cx="607.6" cy="364.6" r="1.18"/><circle cx="624.0" cy="364.0" r="1.18"/><circle cx="612.6" cy="365.6" r="1.18"/><circle cx="612.1" cy="361.5" r="1.18"/><circle cx="610.3" cy="360.7" r="1.18"/><circle cx="613.1" cy="359.1" r="1.18"/><circle cx="617.6" cy="362.1" r="1.18"/><circle cx="607.2" cy="358.9" r="1.18"/><circle cx="612.2" cy="360.1" r="1.18"/><circle cx="619.0" cy="358.1" r="1.18"/><circle cx="612.5" cy="360.7" r="1.18"/><circle cx="611.8" cy="362.8" r="1.18"/><circle cx="615.0" cy="359.5" r="1.18"/><circle cx="610.2" cy="362.2" r="1.18"/><circle cx="612.2" cy="359.6" r="1.18"/><circle cx="605.5" cy="362.0" r="1.18"/><circle cx="610.5" cy="362.5" r="1.18"/><circle cx="609.7" cy="360.9" r="1.18"/><circle cx="611.4" cy="355.9" r="1.18"/><circle cx="612.6" cy="361.9" r="1.18"/><circle cx="612.0" cy="361.3" r="1.18"/><circle cx="618.7" cy="355.4" r="1.18"/><circle cx="608.1" cy="359.1" r="1.18"/><circle cx="609.0" cy="359.6" r="1.18"/><circle cx="606.8" cy="360.0" r="1.18"/><circle cx="614.6" cy="359.1" r="1.18"/><circle cx="615.3" cy="363.4" r="1.18"/><circle cx="616.0" cy="361.7" r="1.18"/><circle cx="604.1" cy="360.6" r="1.18"/><circle cx="558.6" cy="366.8" r="1.18"/><circle cx="563.9" cy="358.9" r="1.18"/><circle cx="551.2" cy="363.4" r="1.18"/><circle cx="561.3" cy="359.9" r="1.18"/><circle cx="562.8" cy="362.7" r="1.18"/><circle cx="552.2" cy="365.1" r="1.18"/><circle cx="552.7" cy="365.2" r="1.18"/><circle cx="563.0" cy="365.0" r="1.18"/><circle cx="557.9" cy="357.9" r="1.18"/><circle cx="554.8" cy="366.5" r="1.18"/><circle cx="551.0" cy="364.3" r="1.18"/><circle cx="558.2" cy="355.1" r="1.18"/><circle cx="558.4" cy="366.3" r="1.18"/><circle cx="555.2" cy="363.5" r="1.18"/><circle cx="563.4" cy="364.8" r="1.18"/><circle cx="558.8" cy="365.1" r="1.18"/><circle cx="561.6" cy="366.1" r="1.18"/><circle cx="551.3" cy="359.1" r="1.18"/><circle cx="556.9" cy="355.0" r="1.18"/><circle cx="553.1" cy="365.5" r="1.18"/><circle cx="565.6" cy="360.9" r="1.18"/><circle cx="557.3" cy="356.3" r="1.18"/><circle cx="557.7" cy="366.2" r="1.18"/><circle cx="553.6" cy="362.9" r="1.18"/><circle cx="562.7" cy="360.5" r="1.18"/><circle cx="555.8" cy="363.6" r="1.18"/><circle cx="551.2" cy="359.1" r="1.18"/><circle cx="552.4" cy="365.0" r="1.18"/><circle cx="561.5" cy="359.8" r="1.18"/><circle cx="550.1" cy="361.2" r="1.18"/><circle cx="553.2" cy="362.6" r="1.18"/><circle cx="563.4" cy="359.3" r="1.18"/><circle cx="553.9" cy="364.9" r="1.18"/><circle cx="563.4" cy="363.3" r="1.18"/><circle cx="554.0" cy="366.1" r="1.18"/><circle cx="561.0" cy="355.7" r="1.18"/><circle cx="551.1" cy="364.6" r="1.18"/><circle cx="559.1" cy="365.3" r="1.18"/><circle cx="560.0" cy="366.1" r="1.18"/><circle cx="563.8" cy="357.1" r="1.18"/><circle cx="552.4" cy="365.5" r="1.18"/><circle cx="565.2" cy="359.6" r="1.18"/><circle cx="561.8" cy="357.5" r="1.18"/><circle cx="557.2" cy="356.5" r="1.18"/><circle cx="559.3" cy="356.7" r="1.18"/><circle cx="555.7" cy="355.3" r="1.18"/><circle cx="565.6" cy="362.4" r="1.18"/><circle cx="554.1" cy="357.7" r="1.18"/><circle cx="562.1" cy="360.9" r="1.18"/><circle cx="558.2" cy="355.5" r="1.18"/><circle cx="554.6" cy="360.6" r="1.18"/><circle cx="563.1" cy="357.5" r="1.18"/><circle cx="548.9" cy="361.5" r="1.18"/><circle cx="549.9" cy="360.8" r="1.18"/><circle cx="555.7" cy="358.2" r="1.18"/><circle cx="622.9" cy="359.5" r="1.18"/><circle cx="617.1" cy="372.9" r="1.18"/><circle cx="617.7" cy="371.7" r="1.18"/><circle cx="626.3" cy="373.6" r="1.18"/><circle cx="616.3" cy="372.3" r="1.18"/><circle cx="617.4" cy="360.2" r="1.18"/><circle cx="626.0" cy="367.0" r="1.18"/><circle cx="614.1" cy="370.6" r="1.18"/><circle cx="623.7" cy="369.2" r="1.18"/><circle cx="622.4" cy="384.5" r="1.18"/><circle cx="621.2" cy="360.5" r="1.18"/><circle cx="622.5" cy="365.7" r="1.18"/><circle cx="619.5" cy="379.1" r="1.18"/><circle cx="613.7" cy="375.3" r="1.18"/><circle cx="622.2" cy="385.6" r="1.18"/><circle cx="623.7" cy="376.4" r="1.18"/><circle cx="619.3" cy="387.1" r="1.18"/><circle cx="614.6" cy="365.3" r="1.18"/><circle cx="622.2" cy="359.5" r="1.18"/><circle cx="623.7" cy="367.3" r="1.18"/><circle cx="624.1" cy="376.0" r="1.18"/><circle cx="616.6" cy="381.7" r="1.18"/><circle cx="614.3" cy="371.3" r="1.18"/><circle cx="613.9" cy="371.5" r="1.18"/><circle cx="617.0" cy="373.9" r="1.18"/><circle cx="625.1" cy="380.3" r="1.18"/><circle cx="619.8" cy="370.5" r="1.18"/><circle cx="623.2" cy="384.6" r="1.18"/><circle cx="617.6" cy="359.0" r="1.18"/><circle cx="621.7" cy="374.1" r="1.18"/><circle cx="619.6" cy="381.4" r="1.18"/><circle cx="625.5" cy="373.5" r="1.18"/><circle cx="617.5" cy="377.6" r="1.18"/><circle cx="624.9" cy="379.4" r="1.18"/><circle cx="621.7" cy="362.9" r="1.18"/><circle cx="623.2" cy="376.0" r="1.18"/><circle cx="623.1" cy="371.8" r="1.18"/><circle cx="621.3" cy="362.7" r="1.18"/><circle cx="617.6" cy="370.3" r="1.18"/><circle cx="615.0" cy="366.4" r="1.18"/><circle cx="619.3" cy="385.4" r="1.18"/><circle cx="623.1" cy="361.1" r="1.18"/><circle cx="618.5" cy="382.3" r="1.18"/><circle cx="623.1" cy="365.5" r="1.18"/><circle cx="617.6" cy="377.9" r="1.18"/><circle cx="621.3" cy="369.2" r="1.18"/><circle cx="617.7" cy="370.3" r="1.18"/><circle cx="617.8" cy="381.8" r="1.18"/><circle cx="625.8" cy="375.1" r="1.18"/><circle cx="622.6" cy="383.3" r="1.18"/><circle cx="614.5" cy="372.1" r="1.18"/><circle cx="618.9" cy="376.6" r="1.18"/><circle cx="620.5" cy="359.6" r="1.18"/><circle cx="618.7" cy="368.2" r="1.18"/><circle cx="621.4" cy="384.8" r="1.18"/><circle cx="601.7" cy="382.4" r="1.18"/><circle cx="610.2" cy="377.1" r="1.18"/><circle cx="604.2" cy="379.3" r="1.18"/><circle cx="602.6" cy="386.9" r="1.18"/><circle cx="606.5" cy="393.7" r="1.18"/><circle cx="605.4" cy="371.2" r="1.18"/><circle cx="604.1" cy="388.7" r="1.18"/><circle cx="611.3" cy="385.7" r="1.18"/><circle cx="607.8" cy="382.2" r="1.18"/><circle cx="609.4" cy="380.3" r="1.18"/><circle cx="602.3" cy="381.5" r="1.18"/><circle cx="601.6" cy="376.0" r="1.18"/><circle cx="611.0" cy="366.3" r="1.18"/><circle cx="613.9" cy="384.4" r="1.18"/><circle cx="616.9" cy="375.6" r="1.18"/><circle cx="614.0" cy="375.5" r="1.18"/><circle cx="603.9" cy="387.2" r="1.18"/><circle cx="617.5" cy="372.4" r="1.18"/><circle cx="601.1" cy="381.4" r="1.18"/><circle cx="611.2" cy="384.8" r="1.18"/><circle cx="616.7" cy="375.3" r="1.18"/><circle cx="617.7" cy="388.2" r="1.18"/><circle cx="605.4" cy="371.9" r="1.18"/><circle cx="610.0" cy="393.2" r="1.18"/><circle cx="619.3" cy="382.1" r="1.18"/><circle cx="611.6" cy="380.8" r="1.18"/><circle cx="615.6" cy="381.5" r="1.18"/><circle cx="612.4" cy="393.1" r="1.18"/><circle cx="602.4" cy="381.4" r="1.18"/><circle cx="613.6" cy="373.4" r="1.18"/><circle cx="616.9" cy="385.7" r="1.18"/><circle cx="607.6" cy="379.1" r="1.18"/><circle cx="612.2" cy="367.1" r="1.18"/><circle cx="610.1" cy="396.1" r="1.18"/><circle cx="601.7" cy="379.0" r="1.18"/><circle cx="605.9" cy="386.0" r="1.18"/><circle cx="604.1" cy="381.8" r="1.18"/><circle cx="609.3" cy="392.7" r="1.18"/><circle cx="604.7" cy="386.1" r="1.18"/><circle cx="610.8" cy="371.1" r="1.18"/><circle cx="608.5" cy="372.8" r="1.18"/><circle cx="616.7" cy="372.7" r="1.18"/><circle cx="606.5" cy="385.7" r="1.18"/><circle cx="602.7" cy="369.9" r="1.18"/><circle cx="607.4" cy="386.6" r="1.18"/><circle cx="618.1" cy="384.1" r="1.18"/><circle cx="606.3" cy="383.2" r="1.18"/><circle cx="621.6" cy="376.5" r="1.18"/><circle cx="610.0" cy="396.3" r="1.18"/><circle cx="620.7" cy="387.6" r="1.18"/><circle cx="605.1" cy="376.8" r="1.18"/><circle cx="604.7" cy="378.9" r="1.18"/><circle cx="611.5" cy="371.3" r="1.18"/><circle cx="613.6" cy="390.8" r="1.18"/><circle cx="616.8" cy="375.8" r="1.18"/><circle cx="606.5" cy="369.0" r="1.18"/><circle cx="615.0" cy="380.4" r="1.18"/><circle cx="613.3" cy="365.9" r="1.18"/><circle cx="602.3" cy="389.5" r="1.18"/><circle cx="614.3" cy="395.3" r="1.18"/><circle cx="609.5" cy="384.3" r="1.18"/><circle cx="609.4" cy="393.8" r="1.18"/><circle cx="606.5" cy="380.7" r="1.18"/><circle cx="617.3" cy="376.7" r="1.18"/><circle cx="609.5" cy="367.4" r="1.18"/><circle cx="621.2" cy="381.0" r="1.18"/><circle cx="610.4" cy="369.6" r="1.18"/><circle cx="609.0" cy="376.0" r="1.18"/><circle cx="604.1" cy="376.3" r="1.18"/><circle cx="607.8" cy="385.8" r="1.18"/><circle cx="610.0" cy="389.0" r="1.18"/><circle cx="606.3" cy="389.1" r="1.18"/><circle cx="610.5" cy="375.2" r="1.18"/><circle cx="613.4" cy="380.2" r="1.18"/><circle cx="618.1" cy="387.8" r="1.18"/><circle cx="608.3" cy="384.1" r="1.18"/><circle cx="609.3" cy="389.2" r="1.18"/><circle cx="603.2" cy="382.7" r="1.18"/><circle cx="611.7" cy="394.5" r="1.18"/><circle cx="607.1" cy="377.5" r="1.18"/><circle cx="615.3" cy="384.6" r="1.18"/><circle cx="610.9" cy="384.5" r="1.18"/><circle cx="605.0" cy="367.1" r="1.18"/><circle cx="609.6" cy="382.0" r="1.18"/><circle cx="616.0" cy="377.5" r="1.18"/><circle cx="607.4" cy="396.6" r="1.18"/><circle cx="618.8" cy="375.6" r="1.18"/><circle cx="611.6" cy="395.7" r="1.18"/><circle cx="609.6" cy="365.4" r="1.18"/><circle cx="608.6" cy="387.7" r="1.18"/><circle cx="605.1" cy="386.4" r="1.18"/><circle cx="605.0" cy="386.7" r="1.18"/><circle cx="604.5" cy="377.2" r="1.18"/><circle cx="617.9" cy="383.3" r="1.18"/><circle cx="611.6" cy="379.6" r="1.18"/><circle cx="614.2" cy="391.8" r="1.18"/><circle cx="603.0" cy="376.2" r="1.18"/><circle cx="611.1" cy="369.4" r="1.18"/><circle cx="602.4" cy="385.9" r="1.18"/><circle cx="607.0" cy="375.4" r="1.18"/><circle cx="613.1" cy="366.7" r="1.18"/><circle cx="602.9" cy="389.5" r="1.18"/><circle cx="608.1" cy="386.5" r="1.18"/><circle cx="603.6" cy="387.3" r="1.18"/><circle cx="611.3" cy="367.7" r="1.18"/><circle cx="602.8" cy="372.5" r="1.18"/><circle cx="608.7" cy="382.4" r="1.18"/><circle cx="604.3" cy="382.0" r="1.18"/><circle cx="611.1" cy="378.0" r="1.18"/><circle cx="614.3" cy="381.3" r="1.18"/><circle cx="601.6" cy="379.0" r="1.18"/><circle cx="613.5" cy="381.1" r="1.18"/><circle cx="611.5" cy="374.8" r="1.18"/><circle cx="619.2" cy="379.8" r="1.18"/><circle cx="620.1" cy="376.3" r="1.18"/><circle cx="605.5" cy="385.7" r="1.18"/><circle cx="615.5" cy="380.5" r="1.18"/><circle cx="613.9" cy="368.6" r="1.18"/><circle cx="618.6" cy="379.6" r="1.18"/><circle cx="615.9" cy="373.2" r="1.18"/><circle cx="620.0" cy="372.2" r="1.18"/><circle cx="616.2" cy="374.2" r="1.18"/><circle cx="620.7" cy="384.5" r="1.18"/><circle cx="616.1" cy="382.6" r="1.18"/><circle cx="616.9" cy="373.6" r="1.18"/><circle cx="608.3" cy="386.5" r="1.18"/><circle cx="601.3" cy="373.8" r="1.18"/><circle cx="604.3" cy="370.0" r="1.18"/><circle cx="612.2" cy="378.3" r="1.18"/><circle cx="613.1" cy="386.4" r="1.18"/><circle cx="609.7" cy="393.4" r="1.18"/><circle cx="609.4" cy="379.7" r="1.18"/><circle cx="605.6" cy="389.3" r="1.18"/><circle cx="605.5" cy="374.7" r="1.18"/><circle cx="609.8" cy="364.6" r="1.18"/><circle cx="604.8" cy="378.0" r="1.18"/><circle cx="601.1" cy="387.7" r="1.18"/><circle cx="604.7" cy="385.3" r="1.18"/><circle cx="606.8" cy="380.4" r="1.18"/><circle cx="601.3" cy="375.7" r="1.18"/><circle cx="605.5" cy="366.4" r="1.18"/><circle cx="618.4" cy="378.5" r="1.18"/><circle cx="603.8" cy="371.6" r="1.18"/><circle cx="609.8" cy="383.7" r="1.18"/><circle cx="611.3" cy="393.0" r="1.18"/><circle cx="611.7" cy="387.7" r="1.18"/><circle cx="604.8" cy="393.3" r="1.18"/><circle cx="611.4" cy="364.9" r="1.18"/><circle cx="607.3" cy="396.2" r="1.18"/><circle cx="606.4" cy="368.1" r="1.18"/><circle cx="597.5" cy="415.3" r="1.18"/><circle cx="581.8" cy="413.8" r="1.18"/><circle cx="569.9" cy="412.9" r="1.18"/><circle cx="595.5" cy="416.7" r="1.18"/><circle cx="587.1" cy="419.6" r="1.18"/><circle cx="569.3" cy="426.3" r="1.18"/><circle cx="578.5" cy="417.4" r="1.18"/><circle cx="570.5" cy="418.3" r="1.18"/><circle cx="580.3" cy="425.6" r="1.18"/><circle cx="585.3" cy="416.2" r="1.18"/><circle cx="568.1" cy="414.0" r="1.18"/><circle cx="590.4" cy="416.3" r="1.18"/><circle cx="584.9" cy="409.7" r="1.18"/><circle cx="572.9" cy="410.1" r="1.18"/><circle cx="573.1" cy="412.0" r="1.18"/><circle cx="574.6" cy="421.2" r="1.18"/><circle cx="589.1" cy="426.2" r="1.18"/><circle cx="583.4" cy="424.4" r="1.18"/><circle cx="584.6" cy="407.3" r="1.18"/><circle cx="566.6" cy="410.9" r="1.18"/><circle cx="564.1" cy="411.5" r="1.18"/><circle cx="585.4" cy="422.6" r="1.18"/><circle cx="577.1" cy="418.1" r="1.18"/><circle cx="584.4" cy="421.2" r="1.18"/><circle cx="576.3" cy="413.9" r="1.18"/><circle cx="579.8" cy="418.9" r="1.18"/><circle cx="565.2" cy="416.1" r="1.18"/><circle cx="579.1" cy="423.0" r="1.18"/><circle cx="587.5" cy="419.8" r="1.18"/><circle cx="579.1" cy="409.4" r="1.18"/><circle cx="572.9" cy="412.6" r="1.18"/><circle cx="578.1" cy="407.2" r="1.18"/><circle cx="575.3" cy="428.2" r="1.18"/><circle cx="573.0" cy="412.1" r="1.18"/><circle cx="578.4" cy="419.9" r="1.18"/><circle cx="593.3" cy="421.4" r="1.18"/><circle cx="571.7" cy="420.1" r="1.18"/><circle cx="589.6" cy="424.6" r="1.18"/><circle cx="582.9" cy="425.8" r="1.18"/><circle cx="585.1" cy="414.3" r="1.18"/><circle cx="596.0" cy="414.9" r="1.18"/><circle cx="574.1" cy="423.8" r="1.18"/><circle cx="593.7" cy="423.5" r="1.18"/><circle cx="586.2" cy="413.0" r="1.18"/><circle cx="579.3" cy="414.6" r="1.18"/><circle cx="590.7" cy="412.7" r="1.18"/><circle cx="576.7" cy="423.3" r="1.18"/><circle cx="564.3" cy="423.6" r="1.18"/><circle cx="581.0" cy="421.1" r="1.18"/><circle cx="585.9" cy="411.1" r="1.18"/><circle cx="593.8" cy="419.8" r="1.18"/><circle cx="573.6" cy="407.9" r="1.18"/><circle cx="571.1" cy="408.6" r="1.18"/><circle cx="563.9" cy="410.5" r="1.18"/><circle cx="563.6" cy="412.6" r="1.18"/><circle cx="582.1" cy="414.1" r="1.18"/><circle cx="586.0" cy="410.8" r="1.18"/><circle cx="584.8" cy="412.0" r="1.18"/><circle cx="576.3" cy="411.3" r="1.18"/><circle cx="583.4" cy="406.8" r="1.18"/><circle cx="563.9" cy="410.7" r="1.18"/><circle cx="567.7" cy="414.1" r="1.18"/><circle cx="572.7" cy="412.6" r="1.18"/><circle cx="589.6" cy="414.3" r="1.18"/><circle cx="594.2" cy="421.6" r="1.18"/><circle cx="593.6" cy="415.4" r="1.18"/><circle cx="572.8" cy="418.8" r="1.18"/><circle cx="585.9" cy="424.5" r="1.18"/><circle cx="581.0" cy="408.4" r="1.18"/><circle cx="595.0" cy="416.4" r="1.18"/><circle cx="564.5" cy="417.8" r="1.18"/><circle cx="571.2" cy="412.6" r="1.18"/><circle cx="581.9" cy="420.6" r="1.18"/><circle cx="585.3" cy="415.8" r="1.18"/><circle cx="589.2" cy="419.5" r="1.18"/><circle cx="577.7" cy="409.0" r="1.18"/><circle cx="571.6" cy="407.2" r="1.18"/><circle cx="593.0" cy="416.0" r="1.18"/><circle cx="581.2" cy="424.5" r="1.18"/><circle cx="589.2" cy="425.5" r="1.18"/><circle cx="578.0" cy="419.0" r="1.18"/><circle cx="565.2" cy="411.1" r="1.18"/><circle cx="564.8" cy="422.7" r="1.18"/><circle cx="580.7" cy="411.2" r="1.18"/><circle cx="588.7" cy="414.3" r="1.18"/><circle cx="589.5" cy="424.6" r="1.18"/><circle cx="565.1" cy="417.1" r="1.18"/><circle cx="579.6" cy="413.6" r="1.18"/><circle cx="568.2" cy="411.6" r="1.18"/><circle cx="597.1" cy="416.8" r="1.18"/><circle cx="576.0" cy="422.5" r="1.18"/><circle cx="587.8" cy="423.9" r="1.18"/><circle cx="589.8" cy="412.6" r="1.18"/><circle cx="569.3" cy="417.0" r="1.18"/><circle cx="588.1" cy="411.7" r="1.18"/><circle cx="568.8" cy="414.4" r="1.18"/><circle cx="566.7" cy="408.5" r="1.18"/><circle cx="582.9" cy="418.1" r="1.18"/><circle cx="565.4" cy="422.5" r="1.18"/><circle cx="575.7" cy="418.1" r="1.18"/><circle cx="593.6" cy="417.0" r="1.18"/><circle cx="564.1" cy="413.2" r="1.18"/><circle cx="577.1" cy="413.2" r="1.18"/><circle cx="568.5" cy="412.7" r="1.18"/><circle cx="564.1" cy="417.3" r="1.18"/><circle cx="582.3" cy="405.7" r="1.18"/><circle cx="584.2" cy="408.9" r="1.18"/><circle cx="580.4" cy="419.8" r="1.18"/><circle cx="596.0" cy="418.6" r="1.18"/><circle cx="569.6" cy="407.5" r="1.18"/><circle cx="588.6" cy="413.6" r="1.18"/><circle cx="571.9" cy="418.0" r="1.18"/><circle cx="585.5" cy="419.4" r="1.18"/><circle cx="585.1" cy="425.5" r="1.18"/><circle cx="585.4" cy="420.6" r="1.18"/><circle cx="570.3" cy="413.5" r="1.18"/><circle cx="595.5" cy="412.7" r="1.18"/><circle cx="594.6" cy="411.5" r="1.18"/><circle cx="577.4" cy="427.7" r="1.18"/><circle cx="584.3" cy="417.5" r="1.18"/><circle cx="584.0" cy="416.2" r="1.18"/><circle cx="583.4" cy="419.8" r="1.18"/><circle cx="582.8" cy="415.6" r="1.18"/><circle cx="589.3" cy="412.1" r="1.18"/><circle cx="583.9" cy="423.4" r="1.18"/><circle cx="578.3" cy="413.7" r="1.18"/><circle cx="583.3" cy="420.3" r="1.18"/><circle cx="581.9" cy="413.5" r="1.18"/><circle cx="579.9" cy="410.3" r="1.18"/><circle cx="584.5" cy="420.5" r="1.18"/><circle cx="578.3" cy="418.4" r="1.18"/><circle cx="577.7" cy="416.3" r="1.18"/><circle cx="580.0" cy="415.2" r="1.18"/><circle cx="593.6" cy="414.9" r="1.18"/><circle cx="584.2" cy="412.6" r="1.18"/><circle cx="580.5" cy="415.9" r="1.18"/><circle cx="575.1" cy="419.3" r="1.18"/><circle cx="583.0" cy="421.2" r="1.18"/><circle cx="581.3" cy="412.0" r="1.18"/><circle cx="583.2" cy="417.2" r="1.18"/><circle cx="588.3" cy="406.8" r="1.18"/><circle cx="578.4" cy="416.4" r="1.18"/><circle cx="584.3" cy="411.4" r="1.18"/><circle cx="584.7" cy="417.2" r="1.18"/><circle cx="569.0" cy="425.2" r="1.18"/><circle cx="568.6" cy="412.0" r="1.18"/><circle cx="575.0" cy="417.8" r="1.18"/><circle cx="576.9" cy="415.7" r="1.18"/><circle cx="575.4" cy="418.0" r="1.18"/><circle cx="583.2" cy="422.8" r="1.18"/><circle cx="571.9" cy="413.2" r="1.18"/><circle cx="576.2" cy="414.2" r="1.18"/><circle cx="578.4" cy="418.5" r="1.18"/><circle cx="576.1" cy="413.5" r="1.18"/><circle cx="585.4" cy="421.4" r="1.18"/><circle cx="569.5" cy="407.7" r="1.18"/><circle cx="583.8" cy="404.3" r="1.18"/><circle cx="574.9" cy="405.5" r="1.18"/><circle cx="575.1" cy="407.8" r="1.18"/><circle cx="580.9" cy="404.8" r="1.18"/><circle cx="579.1" cy="409.8" r="1.18"/><circle cx="574.3" cy="405.7" r="1.18"/><circle cx="573.1" cy="402.8" r="1.18"/><circle cx="576.8" cy="403.6" r="1.18"/><circle cx="570.7" cy="410.3" r="1.18"/><circle cx="568.5" cy="404.3" r="1.18"/><circle cx="578.1" cy="407.0" r="1.18"/><circle cx="567.8" cy="402.8" r="1.18"/><circle cx="564.7" cy="404.9" r="1.18"/><circle cx="581.0" cy="409.3" r="1.18"/><circle cx="566.1" cy="408.1" r="1.18"/><circle cx="565.9" cy="405.5" r="1.18"/><circle cx="564.3" cy="403.4" r="1.18"/><circle cx="582.2" cy="408.2" r="1.18"/><circle cx="573.8" cy="409.9" r="1.18"/><circle cx="563.9" cy="404.0" r="1.18"/><circle cx="578.5" cy="402.3" r="1.18"/><circle cx="572.6" cy="405.3" r="1.18"/><circle cx="565.6" cy="403.8" r="1.18"/><circle cx="567.8" cy="406.4" r="1.18"/><circle cx="569.8" cy="406.7" r="1.18"/><circle cx="569.6" cy="408.2" r="1.18"/><circle cx="583.8" cy="407.2" r="1.18"/><circle cx="582.7" cy="405.6" r="1.18"/><circle cx="580.4" cy="401.9" r="1.18"/><circle cx="574.3" cy="405.3" r="1.18"/><circle cx="562.3" cy="405.5" r="1.18"/><circle cx="564.0" cy="408.0" r="1.18"/><circle cx="582.9" cy="405.2" r="1.18"/><circle cx="575.5" cy="404.9" r="1.18"/><circle cx="576.5" cy="410.7" r="1.18"/><circle cx="567.1" cy="407.0" r="1.18"/><circle cx="562.5" cy="405.3" r="1.18"/><circle cx="570.5" cy="406.5" r="1.18"/><circle cx="567.5" cy="402.8" r="1.18"/><circle cx="574.7" cy="409.2" r="1.18"/><circle cx="586.2" cy="405.1" r="1.18"/><circle cx="567.4" cy="404.2" r="1.18"/><circle cx="581.9" cy="402.4" r="1.18"/><circle cx="584.7" cy="406.0" r="1.18"/><circle cx="576.4" cy="407.3" r="1.18"/><circle cx="580.5" cy="403.1" r="1.18"/><circle cx="570.2" cy="406.5" r="1.18"/><circle cx="577.4" cy="408.2" r="1.18"/><circle cx="566.9" cy="403.0" r="1.18"/><circle cx="578.5" cy="405.3" r="1.18"/><circle cx="584.0" cy="409.0" r="1.18"/><circle cx="582.8" cy="402.7" r="1.18"/><circle cx="570.3" cy="404.5" r="1.18"/><circle cx="568.9" cy="402.9" r="1.18"/><circle cx="572.9" cy="409.4" r="1.18"/><circle cx="561.9" cy="405.8" r="1.18"/><circle cx="561.7" cy="406.7" r="1.18"/><circle cx="566.0" cy="402.5" r="1.18"/><circle cx="570.7" cy="402.1" r="1.18"/><circle cx="584.8" cy="405.7" r="1.18"/><circle cx="573.2" cy="402.0" r="1.18"/><circle cx="564.0" cy="404.5" r="1.18"/><circle cx="586.3" cy="406.9" r="1.18"/><circle cx="571.4" cy="407.1" r="1.18"/><circle cx="573.2" cy="409.4" r="1.18"/><circle cx="563.4" cy="406.7" r="1.18"/><circle cx="569.1" cy="405.2" r="1.18"/><circle cx="576.6" cy="409.3" r="1.18"/><circle cx="575.1" cy="401.8" r="1.18"/><circle cx="570.6" cy="393.9" r="1.18"/><circle cx="550.9" cy="401.1" r="1.18"/><circle cx="559.2" cy="403.5" r="1.18"/><circle cx="550.3" cy="398.3" r="1.18"/><circle cx="552.7" cy="394.6" r="1.18"/><circle cx="560.7" cy="402.6" r="1.18"/><circle cx="570.1" cy="397.7" r="1.18"/><circle cx="557.7" cy="395.9" r="1.18"/><circle cx="567.4" cy="397.3" r="1.18"/><circle cx="567.7" cy="394.0" r="1.18"/><circle cx="554.2" cy="399.6" r="1.18"/><circle cx="571.5" cy="398.2" r="1.18"/><circle cx="550.8" cy="397.4" r="1.18"/><circle cx="557.7" cy="397.1" r="1.18"/><circle cx="560.2" cy="394.4" r="1.18"/><circle cx="552.0" cy="395.1" r="1.18"/><circle cx="559.7" cy="394.4" r="1.18"/><circle cx="552.1" cy="400.1" r="1.18"/><circle cx="563.8" cy="396.1" r="1.18"/><circle cx="567.7" cy="399.4" r="1.18"/><circle cx="553.8" cy="403.7" r="1.18"/><circle cx="563.9" cy="394.3" r="1.18"/><circle cx="562.0" cy="393.1" r="1.18"/><circle cx="556.6" cy="404.0" r="1.18"/><circle cx="559.0" cy="399.0" r="1.18"/><circle cx="548.9" cy="398.2" r="1.18"/><circle cx="560.9" cy="405.3" r="1.18"/><circle cx="571.0" cy="395.7" r="1.18"/><circle cx="564.9" cy="398.7" r="1.18"/><circle cx="554.2" cy="395.0" r="1.18"/><circle cx="559.5" cy="403.1" r="1.18"/><circle cx="567.6" cy="397.4" r="1.18"/><circle cx="570.8" cy="403.4" r="1.18"/><circle cx="557.5" cy="404.4" r="1.18"/><circle cx="558.0" cy="395.3" r="1.18"/><circle cx="572.9" cy="402.9" r="1.18"/><circle cx="554.2" cy="399.4" r="1.18"/><circle cx="552.4" cy="402.5" r="1.18"/><circle cx="573.3" cy="397.2" r="1.18"/><circle cx="573.5" cy="398.4" r="1.18"/><circle cx="565.0" cy="404.3" r="1.18"/><circle cx="556.7" cy="399.5" r="1.18"/><circle cx="568.6" cy="395.1" r="1.18"/><circle cx="574.4" cy="398.0" r="1.18"/><circle cx="555.4" cy="394.9" r="1.18"/><circle cx="560.3" cy="395.7" r="1.18"/><circle cx="553.9" cy="398.4" r="1.18"/><circle cx="559.7" cy="405.2" r="1.18"/><circle cx="559.8" cy="393.1" r="1.18"/><circle cx="549.7" cy="401.8" r="1.18"/><circle cx="562.8" cy="400.2" r="1.18"/><circle cx="553.0" cy="397.8" r="1.18"/><circle cx="563.8" cy="402.2" r="1.18"/><circle cx="556.6" cy="398.4" r="1.18"/><circle cx="553.9" cy="400.3" r="1.18"/><circle cx="569.9" cy="399.8" r="1.18"/><circle cx="572.0" cy="395.6" r="1.18"/><circle cx="570.1" cy="401.7" r="1.18"/><circle cx="572.2" cy="399.7" r="1.18"/><circle cx="556.5" cy="397.5" r="1.18"/><circle cx="568.1" cy="396.3" r="1.18"/><circle cx="562.3" cy="402.6" r="1.18"/><circle cx="558.4" cy="397.2" r="1.18"/><circle cx="550.9" cy="401.3" r="1.18"/><circle cx="560.1" cy="397.3" r="1.18"/><circle cx="553.6" cy="403.5" r="1.18"/><circle cx="551.8" cy="398.2" r="1.18"/><circle cx="555.4" cy="393.3" r="1.18"/><circle cx="556.8" cy="399.7" r="1.18"/><circle cx="573.4" cy="399.1" r="1.18"/><circle cx="572.2" cy="397.8" r="1.18"/><circle cx="571.5" cy="395.6" r="1.18"/><circle cx="558.7" cy="395.4" r="1.18"/><circle cx="558.6" cy="398.9" r="1.18"/><circle cx="559.4" cy="396.2" r="1.18"/><circle cx="568.5" cy="400.8" r="1.18"/><circle cx="550.5" cy="396.6" r="1.18"/><circle cx="556.5" cy="395.6" r="1.18"/><circle cx="558.8" cy="395.3" r="1.18"/><circle cx="561.4" cy="396.1" r="1.18"/><circle cx="562.7" cy="405.3" r="1.18"/><circle cx="552.5" cy="395.3" r="1.18"/><circle cx="561.3" cy="405.5" r="1.18"/><circle cx="553.0" cy="402.9" r="1.18"/><circle cx="570.9" cy="396.9" r="1.18"/><circle cx="573.1" cy="397.7" r="1.18"/><circle cx="564.7" cy="402.6" r="1.18"/><circle cx="569.2" cy="399.8" r="1.18"/><circle cx="557.4" cy="394.7" r="1.18"/><circle cx="559.7" cy="405.0" r="1.18"/><circle cx="561.6" cy="405.3" r="1.18"/><circle cx="562.3" cy="400.9" r="1.18"/><circle cx="565.0" cy="399.8" r="1.18"/><circle cx="566.3" cy="398.9" r="1.18"/><circle cx="559.7" cy="404.9" r="1.18"/><circle cx="558.7" cy="400.6" r="1.18"/><circle cx="574.7" cy="396.3" r="1.18"/><circle cx="551.1" cy="395.5" r="1.18"/><circle cx="561.6" cy="392.8" r="1.18"/><circle cx="573.3" cy="399.9" r="1.18"/><circle cx="566.0" cy="405.0" r="1.18"/><circle cx="556.3" cy="398.0" r="1.18"/><circle cx="570.2" cy="396.2" r="1.18"/><circle cx="551.2" cy="399.6" r="1.18"/><circle cx="575.3" cy="397.0" r="1.18"/><circle cx="552.9" cy="403.5" r="1.18"/><circle cx="558.6" cy="395.9" r="1.18"/><circle cx="571.0" cy="395.5" r="1.18"/><circle cx="554.7" cy="397.2" r="1.18"/><circle cx="548.8" cy="400.3" r="1.18"/><circle cx="559.7" cy="403.5" r="1.18"/><circle cx="571.7" cy="399.2" r="1.18"/><circle cx="565.0" cy="404.8" r="1.18"/><circle cx="558.1" cy="404.7" r="1.18"/><circle cx="563.0" cy="393.5" r="1.18"/><circle cx="552.9" cy="402.4" r="1.18"/><circle cx="552.0" cy="402.6" r="1.18"/><circle cx="571.6" cy="394.5" r="1.18"/><circle cx="558.7" cy="400.2" r="1.18"/><circle cx="564.2" cy="397.8" r="1.18"/><circle cx="564.2" cy="404.7" r="1.18"/><circle cx="573.1" cy="396.3" r="1.18"/><circle cx="557.1" cy="398.2" r="1.18"/><circle cx="561.7" cy="398.2" r="1.18"/><circle cx="569.0" cy="402.8" r="1.18"/><circle cx="564.9" cy="393.1" r="1.18"/><circle cx="560.6" cy="396.5" r="1.18"/><circle cx="561.0" cy="404.1" r="1.18"/><circle cx="559.0" cy="401.8" r="1.18"/><circle cx="567.0" cy="402.5" r="1.18"/><circle cx="569.1" cy="395.6" r="1.18"/><circle cx="566.3" cy="397.2" r="1.18"/><circle cx="559.6" cy="400.3" r="1.18"/><circle cx="560.6" cy="393.3" r="1.18"/><circle cx="565.1" cy="396.2" r="1.18"/><circle cx="563.3" cy="396.9" r="1.18"/><circle cx="572.2" cy="398.5" r="1.18"/><circle cx="554.2" cy="402.8" r="1.18"/><circle cx="561.6" cy="400.5" r="1.18"/><circle cx="557.6" cy="397.0" r="1.18"/><circle cx="558.1" cy="402.2" r="1.18"/><circle cx="572.4" cy="395.0" r="1.18"/><circle cx="549.6" cy="400.2" r="1.18"/><circle cx="560.7" cy="397.3" r="1.18"/><circle cx="570.0" cy="402.9" r="1.18"/><circle cx="569.4" cy="402.8" r="1.18"/><circle cx="571.9" cy="396.6" r="1.18"/><circle cx="563.7" cy="396.4" r="1.18"/><circle cx="567.9" cy="398.9" r="1.18"/><circle cx="571.9" cy="403.2" r="1.18"/><circle cx="553.5" cy="400.4" r="1.18"/><circle cx="567.3" cy="397.9" r="1.18"/><circle cx="570.9" cy="398.7" r="1.18"/><circle cx="551.8" cy="396.8" r="1.18"/><circle cx="548.3" cy="399.1" r="1.18"/><circle cx="555.3" cy="404.6" r="1.18"/><circle cx="561.3" cy="398.6" r="1.18"/><circle cx="548.8" cy="401.1" r="1.18"/><circle cx="550.6" cy="399.9" r="1.18"/><circle cx="559.3" cy="402.4" r="1.18"/><circle cx="568.1" cy="401.0" r="1.18"/><circle cx="571.2" cy="398.3" r="1.18"/><circle cx="556.7" cy="393.4" r="1.18"/><circle cx="559.7" cy="402.1" r="1.18"/><circle cx="553.5" cy="395.8" r="1.18"/><circle cx="570.5" cy="401.6" r="1.18"/><circle cx="556.0" cy="399.2" r="1.18"/><circle cx="567.6" cy="401.2" r="1.18"/><circle cx="571.2" cy="397.8" r="1.18"/><circle cx="574.1" cy="400.7" r="1.18"/><circle cx="543.3" cy="414.2" r="1.18"/><circle cx="544.2" cy="422.5" r="1.18"/><circle cx="568.0" cy="433.8" r="1.18"/><circle cx="584.7" cy="430.0" r="1.18"/><circle cx="588.7" cy="433.3" r="1.18"/><circle cx="536.7" cy="393.3" r="1.18"/><circle cx="533.3" cy="392.5" r="1.18"/><circle cx="540.0" cy="400.8" r="1.18"/><circle cx="542.5" cy="406.7" r="1.18"/><circle cx="569.1" cy="327.5" r="1.18"/><circle cx="584.7" cy="332.2" r="1.18"/><circle cx="600.9" cy="338.9" r="1.18"/><circle cx="608.1" cy="331.1" r="1.18"/><circle cx="591.6" cy="341.6" r="1.18"/><circle cx="603.1" cy="345.7" r="1.18"/><circle cx="579.7" cy="339.9" r="1.18"/><circle cx="602.4" cy="342.8" r="1.18"/><circle cx="593.8" cy="340.4" r="1.18"/><circle cx="577.1" cy="329.3" r="1.18"/><circle cx="598.7" cy="330.9" r="1.18"/><circle cx="597.1" cy="338.7" r="1.18"/><circle cx="593.3" cy="330.5" r="1.18"/><circle cx="596.7" cy="333.8" r="1.18"/><circle cx="596.7" cy="333.5" r="1.18"/><circle cx="594.1" cy="332.3" r="1.18"/><circle cx="598.4" cy="330.3" r="1.18"/><circle cx="596.0" cy="333.0" r="1.18"/><circle cx="598.2" cy="331.3" r="1.18"/><circle cx="599.1" cy="333.8" r="1.18"/><circle cx="597.0" cy="332.5" r="1.18"/><circle cx="595.2" cy="330.0" r="1.18"/><circle cx="597.9" cy="333.0" r="1.18"/><circle cx="598.1" cy="335.0" r="1.18"/><circle cx="594.7" cy="333.4" r="1.18"/><circle cx="597.0" cy="337.8" r="1.18"/><circle cx="604.2" cy="341.2" r="1.18"/><circle cx="600.3" cy="343.2" r="1.18"/><circle cx="594.9" cy="343.1" r="1.18"/><circle cx="597.7" cy="341.7" r="1.18"/><circle cx="600.2" cy="339.6" r="1.18"/><circle cx="593.5" cy="342.9" r="1.18"/><circle cx="598.0" cy="341.7" r="1.18"/><circle cx="597.8" cy="341.4" r="1.18"/><circle cx="599.1" cy="340.9" r="1.18"/><circle cx="603.6" cy="344.0" r="1.18"/><circle cx="595.5" cy="340.0" r="1.18"/><circle cx="601.6" cy="340.4" r="1.18"/><circle cx="599.5" cy="342.4" r="1.18"/><circle cx="599.9" cy="339.2" r="1.18"/><circle cx="603.7" cy="341.3" r="1.18"/><circle cx="601.9" cy="341.3" r="1.18"/><circle cx="591.8" cy="343.2" r="1.18"/><circle cx="621.2" cy="351.2" r="1.18"/><circle cx="620.4" cy="348.3" r="1.18"/><circle cx="623.0" cy="346.4" r="1.18"/><circle cx="623.3" cy="349.5" r="1.18"/><circle cx="621.6" cy="349.8" r="1.18"/><circle cx="622.7" cy="349.8" r="1.18"/><circle cx="621.1" cy="346.4" r="1.18"/><circle cx="626.5" cy="357.4" r="1.18"/><circle cx="627.1" cy="367.5" r="1.18"/><circle cx="633.0" cy="355.0" r="1.18"/><circle cx="628.7" cy="366.9" r="1.18"/><circle cx="624.1" cy="358.8" r="1.18"/><circle cx="626.6" cy="352.9" r="1.18"/><circle cx="622.1" cy="354.8" r="1.18"/><circle cx="635.4" cy="358.6" r="1.18"/><circle cx="633.1" cy="356.8" r="1.18"/><circle cx="636.8" cy="363.1" r="1.18"/><circle cx="626.1" cy="365.2" r="1.18"/><circle cx="630.0" cy="357.1" r="1.18"/><circle cx="625.4" cy="365.1" r="1.18"/><circle cx="626.8" cy="347.1" r="1.18"/><circle cx="632.5" cy="350.2" r="1.18"/><circle cx="627.9" cy="372.0" r="1.18"/><circle cx="632.6" cy="359.1" r="1.18"/><circle cx="628.4" cy="360.8" r="1.18"/><circle cx="623.4" cy="365.4" r="1.18"/><circle cx="630.1" cy="378.6" r="1.18"/><circle cx="628.1" cy="373.2" r="1.18"/><circle cx="630.6" cy="355.9" r="1.18"/></g>
<g fill="#ff00ff"><circle cx="149.5" cy="305.5" r="1.18"/><circle cx="152.5" cy="311.5" r="1.18"/><circle cx="151.0" cy="385.5" r="1.18"/><circle cx="152.5" cy="388.5" r="1.18"/><circle cx="155.5" cy="393.0" r="1.18"/><circle cx="450.3" cy="304.2" r="1.18"/><circle cx="456.3" cy="303.8" r="1.18"/><circle cx="412.8" cy="309.5" r="1.18"/><circle cx="436.7" cy="309.5" r="1.18"/><circle cx="453.7" cy="309.2" r="1.18"/><circle cx="458.7" cy="312.0" r="1.18"/><circle cx="464.5" cy="312.0" r="1.18"/><circle cx="471.7" cy="310.8" r="1.18"/><circle cx="459.7" cy="314.7" r="1.18"/><circle cx="456.7" cy="315.5" r="1.18"/><circle cx="486.7" cy="315.0" r="1.18"/><circle cx="467.8" cy="318.0" r="1.18"/><circle cx="469.2" cy="318.0" r="1.18"/><circle cx="500.3" cy="318.3" r="1.18"/><circle cx="507.2" cy="303.8" r="1.18"/><circle cx="416.7" cy="320.8" r="1.18"/><circle cx="441.7" cy="320.8" r="1.18"/><circle cx="455.0" cy="320.0" r="1.18"/><circle cx="460.8" cy="321.7" r="1.18"/><circle cx="471.7" cy="320.8" r="1.18"/><circle cx="435.8" cy="325.8" r="1.18"/><circle cx="465.0" cy="325.5" r="1.18"/><circle cx="469.7" cy="325.8" r="1.18"/><circle cx="470.3" cy="327.8" r="1.18"/><circle cx="473.8" cy="329.2" r="1.18"/><circle cx="406.7" cy="330.8" r="1.18"/><circle cx="413.8" cy="332.2" r="1.18"/><circle cx="417.8" cy="333.0" r="1.18"/><circle cx="451.7" cy="330.8" r="1.18"/><circle cx="455.3" cy="330.8" r="1.18"/><circle cx="457.2" cy="333.0" r="1.18"/><circle cx="472.8" cy="332.5" r="1.18"/><circle cx="471.7" cy="334.7" r="1.18"/><circle cx="457.5" cy="335.5" r="1.18"/><circle cx="460.0" cy="336.3" r="1.18"/><circle cx="466.7" cy="337.2" r="1.18"/><circle cx="405.8" cy="336.7" r="1.18"/><circle cx="403.3" cy="337.5" r="1.18"/><circle cx="416.7" cy="338.3" r="1.18"/><circle cx="400.8" cy="340.8" r="1.18"/><circle cx="404.2" cy="341.7" r="1.18"/><circle cx="410.0" cy="340.3" r="1.18"/><circle cx="419.2" cy="341.7" r="1.18"/><circle cx="428.7" cy="344.2" r="1.18"/><circle cx="442.5" cy="341.3" r="1.18"/><circle cx="449.2" cy="340.0" r="1.18"/><circle cx="467.5" cy="340.3" r="1.18"/><circle cx="465.8" cy="341.7" r="1.18"/><circle cx="454.7" cy="342.2" r="1.18"/><circle cx="452.5" cy="345.3" r="1.18"/><circle cx="455.8" cy="345.5" r="1.18"/><circle cx="458.3" cy="344.5" r="1.18"/><circle cx="459.2" cy="346.2" r="1.18"/><circle cx="460.3" cy="350.0" r="1.18"/><circle cx="472.5" cy="346.7" r="1.18"/><circle cx="502.2" cy="345.8" r="1.18"/><circle cx="471.7" cy="354.7" r="1.18"/><circle cx="473.3" cy="357.8" r="1.18"/><circle cx="488.3" cy="367.5" r="1.18"/><circle cx="467.5" cy="372.0" r="1.18"/><circle cx="498.3" cy="376.3" r="1.18"/><circle cx="497.5" cy="380.8" r="1.18"/><circle cx="478.3" cy="378.8" r="1.18"/><circle cx="477.0" cy="382.8" r="1.18"/><circle cx="480.0" cy="383.0" r="1.18"/><circle cx="480.0" cy="385.8" r="1.18"/><circle cx="485.0" cy="385.8" r="1.18"/><circle cx="487.8" cy="385.5" r="1.18"/><circle cx="476.7" cy="388.3" r="1.18"/><circle cx="480.8" cy="388.3" r="1.18"/><circle cx="485.0" cy="387.5" r="1.18"/><circle cx="490.8" cy="387.8" r="1.18"/><circle cx="485.8" cy="389.7" r="1.18"/><circle cx="477.0" cy="390.0" r="1.18"/><circle cx="480.0" cy="390.8" r="1.18"/><circle cx="482.5" cy="392.5" r="1.18"/><circle cx="488.3" cy="393.0" r="1.18"/><circle cx="491.3" cy="391.7" r="1.18"/><circle cx="493.3" cy="392.8" r="1.18"/><circle cx="493.8" cy="392.0" r="1.18"/><circle cx="506.7" cy="391.7" r="1.18"/><circle cx="508.7" cy="392.5" r="1.18"/><circle cx="505.0" cy="395.8" r="1.18"/><circle cx="478.7" cy="384.7" r="1.18"/><circle cx="483.3" cy="387.0" r="1.18"/><circle cx="481.3" cy="390.0" r="1.18"/><circle cx="507.5" cy="304.2" r="1.18"/><circle cx="502.5" cy="346.2" r="1.18"/><circle cx="518.3" cy="369.7" r="1.18"/><circle cx="507.0" cy="391.7" r="1.18"/><circle cx="508.7" cy="392.5" r="1.18"/><circle cx="505.0" cy="395.5" r="1.18"/></g>
<g fill="#006400"><circle cx="184.5" cy="268.0" r="1.18"/><circle cx="148.5" cy="296.0" r="1.18"/><circle cx="502.0" cy="168.7" r="1.18"/><circle cx="499.3" cy="179.5" r="1.18"/><circle cx="419.7" cy="191.2" r="1.18"/><circle cx="558.3" cy="113.3" r="1.18"/><circle cx="549.5" cy="156.0" r="1.18"/><circle cx="419.7" cy="191.5" r="1.18"/><circle cx="417.5" cy="196.2" r="1.18"/><circle cx="415.0" cy="197.2" r="1.18"/><circle cx="412.2" cy="198.3" r="1.18"/><circle cx="416.7" cy="198.0" r="1.18"/><circle cx="420.3" cy="199.3" r="1.18"/><circle cx="414.2" cy="200.8" r="1.18"/><circle cx="415.8" cy="201.7" r="1.18"/><circle cx="411.7" cy="202.8" r="1.18"/><circle cx="416.7" cy="203.8" r="1.18"/><circle cx="418.3" cy="205.8" r="1.18"/><circle cx="411.3" cy="206.2" r="1.18"/><circle cx="417.2" cy="208.0" r="1.18"/><circle cx="412.2" cy="209.2" r="1.18"/><circle cx="413.0" cy="214.5" r="1.18"/><circle cx="415.0" cy="199.7" r="1.18"/><circle cx="416.3" cy="205.0" r="1.18"/><circle cx="401.2" cy="230.0" r="1.18"/><circle cx="400.5" cy="233.7" r="1.18"/><circle cx="409.2" cy="235.8" r="1.18"/><circle cx="475.8" cy="192.8" r="1.18"/><circle cx="502.5" cy="205.5" r="1.18"/><circle cx="465.8" cy="209.2" r="1.18"/><circle cx="475.0" cy="210.0" r="1.18"/><circle cx="478.7" cy="210.8" r="1.18"/><circle cx="473.0" cy="213.0" r="1.18"/><circle cx="488.3" cy="207.8" r="1.18"/><circle cx="491.2" cy="211.2" r="1.18"/><circle cx="495.3" cy="212.2" r="1.18"/><circle cx="496.7" cy="214.5" r="1.18"/><circle cx="495.0" cy="220.0" r="1.18"/><circle cx="463.3" cy="224.2" r="1.18"/><circle cx="473.8" cy="222.8" r="1.18"/><circle cx="473.3" cy="226.3" r="1.18"/><circle cx="475.8" cy="229.2" r="1.18"/><circle cx="485.5" cy="227.2" r="1.18"/><circle cx="486.7" cy="231.2" r="1.18"/><circle cx="491.2" cy="228.7" r="1.18"/><circle cx="495.8" cy="231.7" r="1.18"/><circle cx="466.7" cy="232.5" r="1.18"/><circle cx="460.5" cy="234.5" r="1.18"/><circle cx="475.8" cy="234.5" r="1.18"/><circle cx="489.5" cy="235.8" r="1.18"/><circle cx="492.0" cy="234.7" r="1.18"/><circle cx="475.0" cy="237.5" r="1.18"/><circle cx="473.0" cy="238.7" r="1.18"/><circle cx="480.8" cy="238.7" r="1.18"/><circle cx="484.7" cy="238.7" r="1.18"/><circle cx="490.0" cy="239.2" r="1.18"/><circle cx="465.8" cy="240.3" r="1.18"/><circle cx="468.3" cy="242.0" r="1.18"/><circle cx="471.7" cy="241.7" r="1.18"/><circle cx="474.2" cy="243.0" r="1.18"/><circle cx="480.0" cy="243.0" r="1.18"/><circle cx="478.3" cy="244.7" r="1.18"/><circle cx="472.5" cy="245.8" r="1.18"/><circle cx="465.8" cy="245.3" r="1.18"/><circle cx="469.2" cy="247.0" r="1.18"/><circle cx="473.0" cy="247.0" r="1.18"/><circle cx="490.0" cy="242.0" r="1.18"/><circle cx="489.7" cy="245.8" r="1.18"/><circle cx="488.3" cy="247.8" r="1.18"/><circle cx="485.0" cy="246.7" r="1.18"/><circle cx="450.8" cy="246.3" r="1.18"/><circle cx="449.7" cy="247.5" r="1.18"/><circle cx="448.3" cy="248.3" r="1.18"/><circle cx="447.5" cy="248.7" r="1.18"/><circle cx="444.2" cy="250.8" r="1.18"/><circle cx="439.3" cy="252.0" r="1.18"/><circle cx="540.3" cy="193.3" r="1.18"/><circle cx="533.7" cy="195.3" r="1.18"/><circle cx="507.5" cy="200.5" r="1.18"/><circle cx="502.8" cy="205.5" r="1.18"/><circle cx="512.2" cy="205.0" r="1.18"/><circle cx="511.3" cy="209.2" r="1.18"/><circle cx="515.3" cy="209.7" r="1.18"/><circle cx="521.2" cy="208.0" r="1.18"/><circle cx="522.8" cy="212.5" r="1.18"/><circle cx="523.8" cy="215.5" r="1.18"/><circle cx="520.8" cy="217.8" r="1.18"/><circle cx="543.3" cy="212.8" r="1.18"/><circle cx="564.5" cy="217.0" r="1.18"/><circle cx="563.8" cy="220.3" r="1.18"/><circle cx="491.7" cy="211.2" r="1.18"/><circle cx="495.5" cy="212.0" r="1.18"/><circle cx="497.0" cy="214.7" r="1.18"/><circle cx="495.3" cy="220.0" r="1.18"/><circle cx="507.2" cy="214.7" r="1.18"/><circle cx="512.0" cy="218.0" r="1.18"/><circle cx="508.7" cy="220.0" r="1.18"/><circle cx="507.5" cy="221.3" r="1.18"/><circle cx="510.0" cy="221.7" r="1.18"/><circle cx="512.5" cy="223.0" r="1.18"/><circle cx="516.7" cy="223.7" r="1.18"/><circle cx="508.7" cy="223.7" r="1.18"/><circle cx="517.5" cy="225.8" r="1.18"/><circle cx="515.0" cy="227.0" r="1.18"/><circle cx="520.0" cy="227.5" r="1.18"/><circle cx="521.7" cy="227.2" r="1.18"/><circle cx="518.3" cy="229.2" r="1.18"/><circle cx="516.7" cy="229.7" r="1.18"/><circle cx="524.2" cy="230.5" r="1.18"/><circle cx="531.7" cy="228.7" r="1.18"/><circle cx="542.8" cy="226.7" r="1.18"/><circle cx="491.7" cy="228.7" r="1.18"/><circle cx="496.3" cy="231.7" r="1.18"/><circle cx="505.5" cy="229.2" r="1.18"/><circle cx="504.2" cy="230.8" r="1.18"/><circle cx="510.0" cy="230.8" r="1.18"/><circle cx="503.3" cy="233.0" r="1.18"/><circle cx="505.8" cy="233.7" r="1.18"/><circle cx="509.7" cy="233.7" r="1.18"/><circle cx="503.3" cy="235.3" r="1.18"/><circle cx="491.7" cy="235.0" r="1.18"/><circle cx="490.0" cy="237.5" r="1.18"/><circle cx="490.8" cy="240.0" r="1.18"/><circle cx="528.7" cy="232.8" r="1.18"/><circle cx="439.2" cy="252.2" r="1.18"/><circle cx="444.2" cy="251.3" r="1.18"/><circle cx="466.7" cy="250.8" r="1.18"/><circle cx="465.8" cy="255.0" r="1.18"/><circle cx="467.0" cy="257.2" r="1.18"/><circle cx="452.2" cy="262.0" r="1.18"/><circle cx="453.0" cy="263.7" r="1.18"/><circle cx="457.2" cy="265.3" r="1.18"/><circle cx="463.3" cy="266.7" r="1.18"/><circle cx="472.2" cy="267.8" r="1.18"/><circle cx="443.7" cy="271.2" r="1.18"/><circle cx="448.8" cy="271.7" r="1.18"/><circle cx="452.0" cy="273.8" r="1.18"/><circle cx="453.8" cy="272.8" r="1.18"/><circle cx="456.7" cy="274.5" r="1.18"/><circle cx="459.7" cy="273.8" r="1.18"/><circle cx="460.5" cy="275.5" r="1.18"/><circle cx="455.8" cy="276.7" r="1.18"/><circle cx="458.3" cy="277.2" r="1.18"/><circle cx="447.2" cy="277.8" r="1.18"/><circle cx="450.0" cy="277.8" r="1.18"/><circle cx="456.3" cy="281.3" r="1.18"/><circle cx="461.7" cy="282.5" r="1.18"/><circle cx="462.8" cy="280.8" r="1.18"/><circle cx="452.0" cy="286.3" r="1.18"/><circle cx="481.2" cy="262.0" r="1.18"/><circle cx="482.8" cy="260.8" r="1.18"/><circle cx="486.2" cy="264.2" r="1.18"/><circle cx="484.2" cy="264.7" r="1.18"/><circle cx="480.8" cy="265.8" r="1.18"/><circle cx="481.7" cy="267.5" r="1.18"/><circle cx="483.8" cy="268.0" r="1.18"/><circle cx="480.0" cy="269.2" r="1.18"/><circle cx="481.3" cy="269.7" r="1.18"/><circle cx="482.8" cy="272.5" r="1.18"/><circle cx="480.0" cy="275.8" r="1.18"/><circle cx="473.0" cy="276.3" r="1.18"/><circle cx="476.2" cy="279.2" r="1.18"/><circle cx="480.8" cy="278.7" r="1.18"/><circle cx="482.5" cy="280.0" r="1.18"/><circle cx="478.3" cy="281.3" r="1.18"/><circle cx="480.8" cy="282.5" r="1.18"/><circle cx="482.5" cy="283.3" r="1.18"/><circle cx="472.8" cy="285.3" r="1.18"/><circle cx="475.5" cy="287.0" r="1.18"/><circle cx="478.8" cy="286.3" r="1.18"/><circle cx="481.2" cy="289.2" r="1.18"/><circle cx="487.2" cy="288.3" r="1.18"/><circle cx="491.7" cy="280.3" r="1.18"/><circle cx="490.5" cy="251.3" r="1.18"/><circle cx="492.5" cy="252.0" r="1.18"/><circle cx="490.8" cy="257.0" r="1.18"/><circle cx="492.5" cy="259.2" r="1.18"/><circle cx="453.3" cy="300.3" r="1.18"/><circle cx="495.8" cy="245.3" r="1.18"/><circle cx="491.7" cy="251.7" r="1.18"/><circle cx="493.3" cy="252.0" r="1.18"/><circle cx="443.5" cy="249.5" r="1.18"/><circle cx="450.0" cy="255.0" r="1.18"/><circle cx="455.0" cy="261.0" r="1.18"/><circle cx="460.0" cy="266.0" r="1.18"/><circle cx="454.0" cy="272.0" r="1.18"/><circle cx="460.0" cy="275.0" r="1.18"/><circle cx="467.5" cy="272.0" r="1.18"/><circle cx="475.0" cy="266.0" r="1.18"/><circle cx="479.0" cy="276.0" r="1.18"/><circle cx="482.5" cy="283.5" r="1.18"/><circle cx="476.0" cy="282.0" r="1.18"/><circle cx="480.0" cy="287.0" r="1.18"/><circle cx="487.5" cy="277.0" r="1.18"/><circle cx="494.0" cy="268.5" r="1.18"/><circle cx="511.7" cy="296.8" r="1.18"/><circle cx="501.3" cy="237.8" r="1.18"/><circle cx="504.2" cy="238.3" r="1.18"/><circle cx="507.7" cy="237.2" r="1.18"/><circle cx="531.6" cy="236.9" r="1.18"/><circle cx="536.6" cy="237.8" r="1.18"/><circle cx="545.0" cy="236.6" r="1.18"/><circle cx="541.7" cy="238.9" r="1.18"/><circle cx="544.4" cy="240.7" r="1.18"/><circle cx="547.3" cy="240.1" r="1.18"/><circle cx="548.2" cy="240.9" r="1.18"/><circle cx="556.3" cy="240.1" r="1.18"/><circle cx="508.8" cy="241.8" r="1.18"/><circle cx="507.7" cy="243.2" r="1.18"/><circle cx="533.3" cy="241.6" r="1.18"/><circle cx="497.8" cy="244.4" r="1.18"/><circle cx="537.1" cy="244.4" r="1.18"/><circle cx="536.8" cy="246.3" r="1.18"/><circle cx="549.7" cy="243.6" r="1.18"/><circle cx="551.1" cy="245.1" r="1.18"/><circle cx="520.2" cy="245.3" r="1.18"/><circle cx="517.4" cy="247.1" r="1.18"/><circle cx="507.1" cy="248.6" r="1.18"/><circle cx="533.1" cy="248.6" r="1.18"/><circle cx="520.5" cy="250.2" r="1.18"/><circle cx="498.9" cy="250.6" r="1.18"/><circle cx="501.8" cy="249.8" r="1.18"/><circle cx="503.6" cy="250.9" r="1.18"/><circle cx="510.0" cy="251.2" r="1.18"/><circle cx="529.3" cy="251.2" r="1.18"/><circle cx="514.1" cy="252.3" r="1.18"/><circle cx="523.4" cy="252.1" r="1.18"/><circle cx="533.9" cy="252.7" r="1.18"/><circle cx="497.8" cy="253.5" r="1.18"/><circle cx="503.6" cy="254.1" r="1.18"/><circle cx="505.9" cy="255.3" r="1.18"/><circle cx="514.7" cy="254.4" r="1.18"/><circle cx="518.8" cy="255.3" r="1.18"/><circle cx="521.1" cy="254.7" r="1.18"/><circle cx="524.0" cy="255.3" r="1.18"/><circle cx="526.3" cy="254.1" r="1.18"/><circle cx="527.5" cy="255.8" r="1.18"/><circle cx="525.2" cy="257.0" r="1.18"/><circle cx="529.8" cy="257.6" r="1.18"/><circle cx="540.9" cy="257.8" r="1.18"/><circle cx="534.2" cy="258.4" r="1.18"/><circle cx="506.5" cy="257.0" r="1.18"/><circle cx="502.4" cy="258.8" r="1.18"/><circle cx="519.9" cy="258.2" r="1.18"/><circle cx="518.8" cy="259.3" r="1.18"/><circle cx="512.3" cy="259.3" r="1.18"/><circle cx="514.1" cy="260.5" r="1.18"/><circle cx="497.8" cy="261.1" r="1.18"/><circle cx="500.1" cy="261.1" r="1.18"/><circle cx="508.3" cy="260.9" r="1.18"/><circle cx="514.7" cy="262.3" r="1.18"/><circle cx="522.3" cy="261.4" r="1.18"/><circle cx="527.5" cy="263.4" r="1.18"/><circle cx="524.0" cy="264.6" r="1.18"/><circle cx="507.7" cy="265.4" r="1.18"/><circle cx="504.8" cy="266.3" r="1.18"/><circle cx="517.6" cy="266.1" r="1.18"/><circle cx="515.3" cy="267.5" r="1.18"/><circle cx="513.5" cy="268.4" r="1.18"/><circle cx="522.8" cy="266.9" r="1.18"/><circle cx="524.0" cy="268.1" r="1.18"/><circle cx="525.8" cy="269.8" r="1.18"/><circle cx="526.9" cy="270.8" r="1.18"/><circle cx="503.0" cy="268.7" r="1.18"/><circle cx="512.3" cy="270.8" r="1.18"/><circle cx="514.9" cy="269.8" r="1.18"/><circle cx="517.0" cy="269.3" r="1.18"/><circle cx="532.2" cy="269.8" r="1.18"/><circle cx="534.3" cy="270.1" r="1.18"/><circle cx="500.7" cy="271.9" r="1.18"/><circle cx="517.2" cy="272.4" r="1.18"/><circle cx="521.1" cy="272.2" r="1.18"/><circle cx="517.6" cy="273.9" r="1.18"/><circle cx="521.9" cy="273.9" r="1.18"/><circle cx="507.1" cy="274.3" r="1.18"/><circle cx="536.8" cy="278.6" r="1.18"/><circle cx="537.4" cy="280.1" r="1.18"/><circle cx="536.3" cy="280.9" r="1.18"/><circle cx="538.0" cy="273.1" r="1.18"/><circle cx="542.1" cy="278.2" r="1.18"/><circle cx="546.4" cy="273.6" r="1.18"/><circle cx="566.6" cy="272.5" r="1.18"/><circle cx="518.8" cy="277.4" r="1.18"/><circle cx="504.5" cy="278.0" r="1.18"/><circle cx="510.6" cy="279.4" r="1.18"/><circle cx="519.9" cy="280.9" r="1.18"/><circle cx="525.4" cy="281.5" r="1.18"/><circle cx="531.2" cy="283.3" r="1.18"/><circle cx="534.9" cy="287.0" r="1.18"/><circle cx="532.2" cy="289.7" r="1.18"/><circle cx="526.6" cy="289.1" r="1.18"/><circle cx="519.0" cy="290.8" r="1.18"/><circle cx="504.8" cy="292.6" r="1.18"/><circle cx="533.7" cy="277.6" r="1.18"/><circle cx="527.2" cy="274.6" r="1.18"/><circle cx="530.0" cy="273.4" r="1.18"/><circle cx="534.4" cy="276.3" r="1.18"/><circle cx="530.9" cy="278.0" r="1.18"/><circle cx="533.1" cy="279.4" r="1.18"/><circle cx="529.8" cy="275.5" r="1.18"/><circle cx="530.0" cy="273.0" r="1.18"/><circle cx="529.9" cy="278.4" r="1.18"/><circle cx="532.1" cy="277.7" r="1.18"/><circle cx="529.4" cy="278.0" r="1.18"/><circle cx="527.4" cy="275.9" r="1.18"/><circle cx="530.8" cy="279.1" r="1.18"/><circle cx="533.6" cy="277.7" r="1.18"/><circle cx="527.8" cy="279.0" r="1.18"/><circle cx="534.2" cy="277.2" r="1.18"/><circle cx="529.5" cy="276.8" r="1.18"/><circle cx="527.7" cy="278.5" r="1.18"/><circle cx="535.0" cy="277.0" r="1.18"/><circle cx="532.6" cy="279.5" r="1.18"/><circle cx="531.9" cy="274.4" r="1.18"/><circle cx="527.2" cy="274.8" r="1.18"/><circle cx="528.6" cy="275.9" r="1.18"/><circle cx="529.0" cy="280.3" r="1.18"/><circle cx="529.6" cy="278.4" r="1.18"/><circle cx="533.8" cy="280.1" r="1.18"/><circle cx="533.0" cy="279.7" r="1.18"/><circle cx="528.8" cy="276.5" r="1.18"/><circle cx="529.6" cy="276.6" r="1.18"/><circle cx="535.0" cy="274.4" r="1.18"/></g>
<g fill="#ff0000"><circle cx="277.0" cy="272.0" r="1.18"/><circle cx="286.5" cy="238.5" r="1.18"/><circle cx="574.2" cy="212.8" r="1.18"/><circle cx="591.9" cy="264.4" r="1.18"/><circle cx="574.4" cy="283.8" r="1.18"/><circle cx="701.7" cy="245.0" r="1.18"/><circle cx="702.0" cy="251.3" r="1.18"/><circle cx="687.2" cy="253.8" r="1.18"/><circle cx="653.3" cy="255.0" r="1.18"/><circle cx="618.7" cy="255.5" r="1.18"/><circle cx="622.5" cy="261.2" r="1.18"/><circle cx="595.8" cy="275.3" r="1.18"/><circle cx="615.0" cy="275.0" r="1.18"/><circle cx="605.0" cy="279.7" r="1.18"/><circle cx="679.2" cy="276.2" r="1.18"/><circle cx="683.3" cy="275.8" r="1.18"/><circle cx="670.5" cy="285.0" r="1.18"/><circle cx="678.3" cy="284.5" r="1.18"/><circle cx="648.3" cy="281.2" r="1.18"/><circle cx="626.7" cy="295.5" r="1.18"/><circle cx="621.2" cy="299.7" r="1.18"/><circle cx="643.3" cy="287.5" r="1.18"/><circle cx="648.3" cy="286.7" r="1.18"/><circle cx="646.7" cy="289.2" r="1.18"/><circle cx="650.0" cy="288.3" r="1.18"/><circle cx="652.5" cy="289.7" r="1.18"/><circle cx="645.0" cy="290.8" r="1.18"/><circle cx="648.3" cy="291.7" r="1.18"/><circle cx="650.8" cy="292.0" r="1.18"/><circle cx="654.2" cy="291.7" r="1.18"/><circle cx="656.7" cy="293.0" r="1.18"/><circle cx="640.8" cy="292.0" r="1.18"/><circle cx="646.7" cy="294.2" r="1.18"/><circle cx="649.2" cy="294.2" r="1.18"/><circle cx="651.7" cy="295.0" r="1.18"/><circle cx="655.0" cy="294.7" r="1.18"/><circle cx="648.3" cy="296.7" r="1.18"/><circle cx="650.0" cy="297.5" r="1.18"/><circle cx="639.2" cy="297.5" r="1.18"/><circle cx="642.5" cy="298.3" r="1.18"/><circle cx="647.5" cy="299.2" r="1.18"/><circle cx="648.7" cy="300.0" r="1.18"/><circle cx="650.6" cy="288.0" r="1.18"/><circle cx="652.6" cy="296.2" r="1.18"/><circle cx="647.8" cy="298.6" r="1.18"/><circle cx="649.4" cy="296.2" r="1.18"/><circle cx="650.0" cy="290.2" r="1.18"/><circle cx="648.2" cy="291.6" r="1.18"/><circle cx="650.8" cy="292.4" r="1.18"/><circle cx="655.3" cy="291.4" r="1.18"/><circle cx="648.0" cy="289.7" r="1.18"/><circle cx="647.1" cy="287.4" r="1.18"/><circle cx="646.6" cy="294.9" r="1.18"/><circle cx="649.3" cy="291.5" r="1.18"/><circle cx="650.1" cy="295.4" r="1.18"/><circle cx="650.8" cy="294.5" r="1.18"/><circle cx="647.7" cy="291.2" r="1.18"/><circle cx="647.1" cy="291.7" r="1.18"/><circle cx="647.0" cy="290.8" r="1.18"/><circle cx="648.7" cy="291.3" r="1.18"/><circle cx="648.5" cy="290.4" r="1.18"/><circle cx="652.6" cy="290.9" r="1.18"/><circle cx="646.5" cy="292.6" r="1.18"/><circle cx="646.3" cy="288.6" r="1.18"/><circle cx="649.4" cy="286.7" r="1.18"/><circle cx="640.8" cy="292.9" r="1.18"/><circle cx="651.9" cy="286.7" r="1.18"/><circle cx="646.8" cy="293.8" r="1.18"/><circle cx="644.0" cy="289.2" r="1.18"/><circle cx="646.0" cy="291.4" r="1.18"/><circle cx="644.0" cy="294.9" r="1.18"/><circle cx="648.8" cy="293.0" r="1.18"/><circle cx="648.3" cy="285.2" r="1.18"/><circle cx="648.8" cy="287.7" r="1.18"/><circle cx="649.2" cy="289.3" r="1.18"/><circle cx="648.3" cy="291.3" r="1.18"/><circle cx="651.2" cy="294.5" r="1.18"/><circle cx="646.6" cy="291.9" r="1.18"/><circle cx="653.0" cy="293.6" r="1.18"/><circle cx="647.3" cy="291.6" r="1.18"/><circle cx="648.3" cy="295.0" r="1.18"/><circle cx="649.3" cy="293.2" r="1.18"/><circle cx="590.0" cy="291.7" r="1.18"/><circle cx="587.5" cy="296.2" r="1.18"/></g>
<rect x="53.75" y="92.9" width="657.05" height="17.69999999999999" fill="#ffe5cc"/>
<path d="M53.75 110.6V92.9H710.8V110.6M382.5 92.9V110.6" fill="none" stroke="#000" stroke-width="1"/>
<path d="M53.75 110.6H710.8V439.0H53.75ZM382.5 110.6V439.0" fill="none" stroke="#000" stroke-width="1"/>
<path d="M88.32 92.9v-7M88.32 439.0v7M417.07 92.9v-7M417.07 439.0v7M53.75 404.43h-7M710.8 404.43h7M174.76 92.9v-7M174.76 439.0v7M503.51 92.9v-7M503.51 439.0v7M53.75 317.99h-7M710.8 317.99h7M261.19 92.9v-7M261.19 439.0v7M589.94 92.9v-7M589.94 439.0v7M53.75 231.56h-7M710.8 231.56h7M347.63 92.9v-7M347.63 439.0v7M676.38 92.9v-7M676.38 439.0v7M53.75 145.12h-7M710.8 145.12h7" stroke="#000" stroke-width="1" fill="none"/>
<g style="filter:grayscale(1)">
<text x="88.32" y="462.4" font-size="11.73" text-anchor="middle" font-family="Liberation Sans, sans-serif" fill="#000" stroke="#000" stroke-width="0.25">5</text>
<text x="417.07" y="79.4" font-size="11.73" text-anchor="middle" font-family="Liberation Sans, sans-serif" fill="#000" stroke="#000" stroke-width="0.25">5</text>
<text x="39.3" y="408.53" font-size="11.73" text-anchor="end" font-family="Liberation Sans, sans-serif" fill="#000" stroke="#000" stroke-width="0.25">5</text>
<text x="174.76" y="462.4" font-size="11.73" text-anchor="middle" font-family="Liberation Sans, sans-serif" fill="#000" stroke="#000" stroke-width="0.25">10</text>
<text x="503.51" y="79.4" font-size="11.73" text-anchor="middle" font-family="Liberation Sans, sans-serif" fill="#000" stroke="#000" stroke-width="0.25">10</text>
<text x="39.3" y="322.09" font-size="11.73" text-anchor="end" font-family="Liberation Sans, sans-serif" fill="#000" stroke="#000" stroke-width="0.25">10</text>
<text x="261.19" y="462.4" font-size="11.73" text-anchor="middle" font-family="Liberation Sans, sans-serif" fill="#000" stroke="#000" stroke-width="0.25">15</text>
<text x="589.94" y="79.4" font-size="11.73" text-anchor="middle" font-family="Liberation Sans, sans-serif" fill="#000" stroke="#000" stroke-width="0.25">15</text>
<text x="39.3" y="235.66" font-size="11.73" text-anchor="end" font-family="Liberation Sans, sans-serif" fill="#000" stroke="#000" stroke-width="0.25">15</text>
<text x="347.63" y="462.4" font-size="11.73" text-anchor="middle" font-family="Liberation Sans, sans-serif" fill="#000" stroke="#000" stroke-width="0.25">20</text>
<text x="676.38" y="79.4" font-size="11.73" text-anchor="middle" font-family="Liberation Sans, sans-serif" fill="#000" stroke="#000" stroke-width="0.25">20</text>
<text x="39.3" y="149.22" font-size="11.73" text-anchor="end" font-family="Liberation Sans, sans-serif" fill="#000" stroke="#000" stroke-width="0.25">20</text>
<text x="218.1" y="106.6" font-size="14.67" text-anchor="middle" font-family="Liberation Sans, sans-serif" fill="#000" stroke="#000" stroke-width="0.25">ATP</text>
<text x="546.6" y="106.6" font-size="14.67" text-anchor="middle" font-family="Liberation Sans, sans-serif" fill="#000" stroke="#000" stroke-width="0.25">no_ATP</text>
<text x="382.5" y="486" font-size="14.67" text-anchor="middle" font-family="Liberation Sans, sans-serif" fill="#000" stroke="#000" stroke-width="0.25">LysCA-PheCZ distance</text>
<text transform="translate(13,274.8) rotate(-90)" font-size="14.67" text-anchor="middle" font-family="Liberation Sans, sans-serif" fill="#000" stroke="#000" stroke-width="0.25">Glu4CA-PheCZ distance</text>
</g>
<text x="341" y="12.20" font-size="14.67" font-family="Liberation Sans, sans-serif" fill="#000" stroke="#000" stroke-width="0.25" style="filter:grayscale(1)">DFGin</text>
<circle cx="420.4" cy="6.90" r="3.05" fill="none" stroke="#0080ff" stroke-width="1.3"/>
<text x="341" y="26.30" font-size="14.67" font-family="Liberation Sans, sans-serif" fill="#000" stroke="#000" stroke-width="0.25" style="filter:grayscale(1)">DFGinter</text>
<circle cx="420.4" cy="21.00" r="3.05" fill="none" stroke="#ff00ff" stroke-width="1.3"/>
<text x="341" y="40.40" font-size="14.67" font-family="Liberation Sans, sans-serif" fill="#000" stroke="#000" stroke-width="0.25" style="filter:grayscale(1)">DFGout</text>
<circle cx="420.4" cy="35.10" r="3.05" fill="none" stroke="#006400" stroke-width="1.3"/>
<text x="341" y="54.50" font-size="14.67" font-family="Liberation Sans, sans-serif" fill="#000" stroke="#000" stroke-width="0.25" style="filter:grayscale(1)">None</text>
<circle cx="420.4" cy="49.20" r="3.05" fill="none" stroke="#ff0000" stroke-width="1.3"/>
</svg>
</body></html>
